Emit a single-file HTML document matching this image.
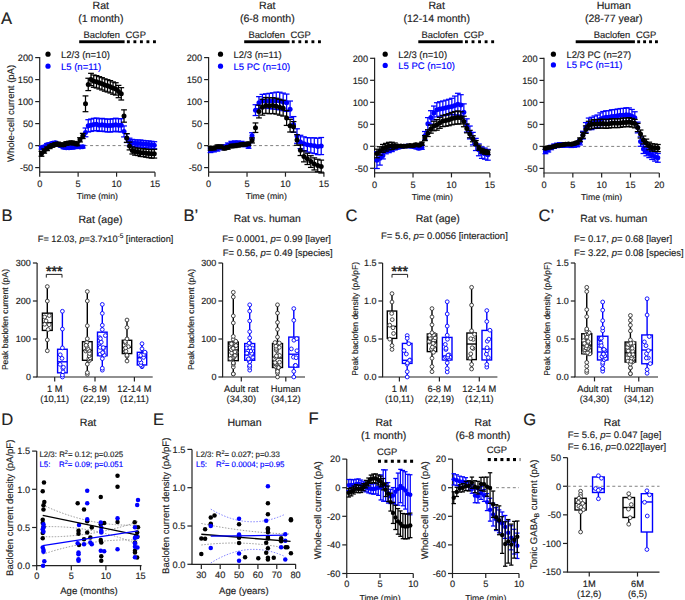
<!DOCTYPE html>
<html><head><meta charset="utf-8"><style>
html,body{margin:0;padding:0;background:#fff;}
svg{display:block;font-family:"Liberation Sans", sans-serif;}
text{stroke-width:0.15px;text-rendering:geometricPrecision;}
</style></head><body>
<svg width="685" height="600" viewBox="0 0 685 600">
<rect width="685" height="600" fill="#fff"/>
<text x="1.00" y="24.20" font-size="16.6" text-anchor="start" fill="#222" stroke="#222">A</text>
<text x="100.80" y="8.90" font-size="10.6" text-anchor="middle" fill="#222" stroke="#222">Rat</text>
<text x="100.80" y="21.60" font-size="10.6" text-anchor="middle" fill="#222" stroke="#222">(1 month)</text>
<text x="120.00" y="37.50" font-size="9.4" text-anchor="end" fill="#222" stroke="#222">Baclofen</text>
<rect x="79.20" y="40.30" width="45.40" height="2.90" fill="#000"/>
<text x="125.60" y="37.50" font-size="9.4" text-anchor="start" fill="#222" stroke="#222">CGP</text>
<rect x="126.90" y="40.30" width="2.90" height="2.90" fill="#000"/>
<rect x="133.42" y="40.30" width="2.90" height="2.90" fill="#000"/>
<rect x="139.95" y="40.30" width="2.90" height="2.90" fill="#000"/>
<rect x="146.47" y="40.30" width="2.90" height="2.90" fill="#000"/>
<rect x="153.00" y="40.30" width="2.90" height="2.90" fill="#000"/>
<circle cx="48.00" cy="54.20" r="2.6" fill="#000"/>
<circle cx="48.00" cy="66.20" r="2.6" fill="#0000ff"/>
<text x="61.00" y="57.60" font-size="9.5" text-anchor="start" fill="#222" stroke="#222">L2/3 (n=10)</text>
<text x="61.00" y="69.70" font-size="9.5" text-anchor="start" fill="#0000ff" stroke="#0000ff">L5 (n=11)</text>
<line x1="39.70" y1="57.00" x2="39.70" y2="172.20" stroke="#222" stroke-width="1.2"/>
<line x1="35.20" y1="57.60" x2="39.70" y2="57.60" stroke="#222" stroke-width="1.2"/>
<text x="33.20" y="60.90" font-size="9.2" text-anchor="end" fill="#222" stroke="#222">200</text>
<line x1="35.20" y1="79.60" x2="39.70" y2="79.60" stroke="#222" stroke-width="1.2"/>
<text x="33.20" y="82.90" font-size="9.2" text-anchor="end" fill="#222" stroke="#222">150</text>
<line x1="35.20" y1="101.60" x2="39.70" y2="101.60" stroke="#222" stroke-width="1.2"/>
<text x="33.20" y="104.90" font-size="9.2" text-anchor="end" fill="#222" stroke="#222">100</text>
<line x1="35.20" y1="123.60" x2="39.70" y2="123.60" stroke="#222" stroke-width="1.2"/>
<text x="33.20" y="126.90" font-size="9.2" text-anchor="end" fill="#222" stroke="#222">50</text>
<line x1="35.20" y1="145.60" x2="39.70" y2="145.60" stroke="#222" stroke-width="1.2"/>
<text x="33.20" y="148.90" font-size="9.2" text-anchor="end" fill="#222" stroke="#222">0</text>
<line x1="35.20" y1="167.60" x2="39.70" y2="167.60" stroke="#222" stroke-width="1.2"/>
<text x="33.20" y="170.90" font-size="9.2" text-anchor="end" fill="#222" stroke="#222">-50</text>
<line x1="39.10" y1="172.20" x2="155.00" y2="172.20" stroke="#222" stroke-width="1.2"/>
<line x1="39.70" y1="172.20" x2="39.70" y2="176.70" stroke="#222" stroke-width="1.2"/>
<text x="39.70" y="187.20" font-size="9.2" text-anchor="middle" fill="#222" stroke="#222">0</text>
<line x1="78.13" y1="172.20" x2="78.13" y2="176.70" stroke="#222" stroke-width="1.2"/>
<text x="78.13" y="187.20" font-size="9.2" text-anchor="middle" fill="#222" stroke="#222">5</text>
<line x1="116.57" y1="172.20" x2="116.57" y2="176.70" stroke="#222" stroke-width="1.2"/>
<text x="116.57" y="187.20" font-size="9.2" text-anchor="middle" fill="#222" stroke="#222">10</text>
<line x1="155.00" y1="172.20" x2="155.00" y2="176.70" stroke="#222" stroke-width="1.2"/>
<text x="155.00" y="187.20" font-size="9.2" text-anchor="middle" fill="#222" stroke="#222">15</text>
<text x="97.35" y="199.30" font-size="8.7" text-anchor="middle" fill="#222" stroke="#222">Time (min)</text>
<text x="13.80" y="113.50" font-size="9.5" text-anchor="middle" fill="#222" stroke="#222" transform="rotate(-90 13.80 113.50)">Whole-cell current (pA)</text>
<line x1="39.70" y1="145.60" x2="155.00" y2="145.60" stroke="#808080" stroke-width="1.0" stroke-dasharray="3,2.6"/>
<line x1="41.47" y1="146.44" x2="41.47" y2="149.08" stroke="#0000ff" stroke-width="1.25"/>
<line x1="38.57" y1="146.44" x2="44.37" y2="146.44" stroke="#0000ff" stroke-width="1.25"/>
<line x1="38.57" y1="149.08" x2="44.37" y2="149.08" stroke="#0000ff" stroke-width="1.25"/>
<line x1="44.22" y1="145.46" x2="44.22" y2="148.10" stroke="#0000ff" stroke-width="1.25"/>
<line x1="41.32" y1="145.46" x2="47.12" y2="145.46" stroke="#0000ff" stroke-width="1.25"/>
<line x1="41.32" y1="148.10" x2="47.12" y2="148.10" stroke="#0000ff" stroke-width="1.25"/>
<line x1="46.97" y1="143.53" x2="46.97" y2="146.17" stroke="#0000ff" stroke-width="1.25"/>
<line x1="44.07" y1="143.53" x2="49.87" y2="143.53" stroke="#0000ff" stroke-width="1.25"/>
<line x1="44.07" y1="146.17" x2="49.87" y2="146.17" stroke="#0000ff" stroke-width="1.25"/>
<line x1="49.72" y1="143.03" x2="49.72" y2="145.67" stroke="#0000ff" stroke-width="1.25"/>
<line x1="46.82" y1="143.03" x2="52.62" y2="143.03" stroke="#0000ff" stroke-width="1.25"/>
<line x1="46.82" y1="145.67" x2="52.62" y2="145.67" stroke="#0000ff" stroke-width="1.25"/>
<line x1="52.48" y1="141.92" x2="52.48" y2="144.56" stroke="#0000ff" stroke-width="1.25"/>
<line x1="49.58" y1="141.92" x2="55.38" y2="141.92" stroke="#0000ff" stroke-width="1.25"/>
<line x1="49.58" y1="144.56" x2="55.38" y2="144.56" stroke="#0000ff" stroke-width="1.25"/>
<line x1="55.23" y1="141.38" x2="55.23" y2="144.02" stroke="#0000ff" stroke-width="1.25"/>
<line x1="52.33" y1="141.38" x2="58.13" y2="141.38" stroke="#0000ff" stroke-width="1.25"/>
<line x1="52.33" y1="144.02" x2="58.13" y2="144.02" stroke="#0000ff" stroke-width="1.25"/>
<line x1="57.98" y1="143.17" x2="57.98" y2="145.81" stroke="#0000ff" stroke-width="1.25"/>
<line x1="55.08" y1="143.17" x2="60.88" y2="143.17" stroke="#0000ff" stroke-width="1.25"/>
<line x1="55.08" y1="145.81" x2="60.88" y2="145.81" stroke="#0000ff" stroke-width="1.25"/>
<line x1="60.73" y1="144.41" x2="60.73" y2="147.05" stroke="#0000ff" stroke-width="1.25"/>
<line x1="57.83" y1="144.41" x2="63.63" y2="144.41" stroke="#0000ff" stroke-width="1.25"/>
<line x1="57.83" y1="147.05" x2="63.63" y2="147.05" stroke="#0000ff" stroke-width="1.25"/>
<line x1="63.48" y1="146.05" x2="63.48" y2="148.69" stroke="#0000ff" stroke-width="1.25"/>
<line x1="60.58" y1="146.05" x2="66.38" y2="146.05" stroke="#0000ff" stroke-width="1.25"/>
<line x1="60.58" y1="148.69" x2="66.38" y2="148.69" stroke="#0000ff" stroke-width="1.25"/>
<line x1="66.23" y1="146.43" x2="66.23" y2="149.07" stroke="#0000ff" stroke-width="1.25"/>
<line x1="63.33" y1="146.43" x2="69.13" y2="146.43" stroke="#0000ff" stroke-width="1.25"/>
<line x1="63.33" y1="149.07" x2="69.13" y2="149.07" stroke="#0000ff" stroke-width="1.25"/>
<line x1="68.99" y1="146.46" x2="68.99" y2="149.10" stroke="#0000ff" stroke-width="1.25"/>
<line x1="66.09" y1="146.46" x2="71.89" y2="146.46" stroke="#0000ff" stroke-width="1.25"/>
<line x1="66.09" y1="149.10" x2="71.89" y2="149.10" stroke="#0000ff" stroke-width="1.25"/>
<line x1="71.74" y1="146.24" x2="71.74" y2="148.88" stroke="#0000ff" stroke-width="1.25"/>
<line x1="68.84" y1="146.24" x2="74.64" y2="146.24" stroke="#0000ff" stroke-width="1.25"/>
<line x1="68.84" y1="148.88" x2="74.64" y2="148.88" stroke="#0000ff" stroke-width="1.25"/>
<line x1="74.49" y1="145.81" x2="74.49" y2="148.45" stroke="#0000ff" stroke-width="1.25"/>
<line x1="71.59" y1="145.81" x2="77.39" y2="145.81" stroke="#0000ff" stroke-width="1.25"/>
<line x1="71.59" y1="148.45" x2="77.39" y2="148.45" stroke="#0000ff" stroke-width="1.25"/>
<line x1="77.24" y1="145.33" x2="77.24" y2="147.97" stroke="#0000ff" stroke-width="1.25"/>
<line x1="74.34" y1="145.33" x2="80.14" y2="145.33" stroke="#0000ff" stroke-width="1.25"/>
<line x1="74.34" y1="147.97" x2="80.14" y2="147.97" stroke="#0000ff" stroke-width="1.25"/>
<line x1="79.99" y1="145.63" x2="79.99" y2="148.27" stroke="#0000ff" stroke-width="1.25"/>
<line x1="77.09" y1="145.63" x2="82.89" y2="145.63" stroke="#0000ff" stroke-width="1.25"/>
<line x1="77.09" y1="148.27" x2="82.89" y2="148.27" stroke="#0000ff" stroke-width="1.25"/>
<line x1="82.75" y1="145.37" x2="82.75" y2="148.01" stroke="#0000ff" stroke-width="1.25"/>
<line x1="79.85" y1="145.37" x2="85.65" y2="145.37" stroke="#0000ff" stroke-width="1.25"/>
<line x1="79.85" y1="148.01" x2="85.65" y2="148.01" stroke="#0000ff" stroke-width="1.25"/>
<line x1="85.50" y1="128.01" x2="85.50" y2="136.77" stroke="#0000ff" stroke-width="1.25"/>
<line x1="82.60" y1="128.01" x2="88.40" y2="128.01" stroke="#0000ff" stroke-width="1.25"/>
<line x1="82.60" y1="136.77" x2="88.40" y2="136.77" stroke="#0000ff" stroke-width="1.25"/>
<line x1="88.25" y1="119.70" x2="88.25" y2="132.02" stroke="#0000ff" stroke-width="1.25"/>
<line x1="85.35" y1="119.70" x2="91.15" y2="119.70" stroke="#0000ff" stroke-width="1.25"/>
<line x1="85.35" y1="132.02" x2="91.15" y2="132.02" stroke="#0000ff" stroke-width="1.25"/>
<line x1="91.00" y1="119.03" x2="91.00" y2="131.43" stroke="#0000ff" stroke-width="1.25"/>
<line x1="88.10" y1="119.03" x2="93.90" y2="119.03" stroke="#0000ff" stroke-width="1.25"/>
<line x1="88.10" y1="131.43" x2="93.90" y2="131.43" stroke="#0000ff" stroke-width="1.25"/>
<line x1="93.75" y1="118.33" x2="93.75" y2="130.80" stroke="#0000ff" stroke-width="1.25"/>
<line x1="90.85" y1="118.33" x2="96.65" y2="118.33" stroke="#0000ff" stroke-width="1.25"/>
<line x1="90.85" y1="130.80" x2="96.65" y2="130.80" stroke="#0000ff" stroke-width="1.25"/>
<line x1="96.50" y1="118.04" x2="96.50" y2="130.59" stroke="#0000ff" stroke-width="1.25"/>
<line x1="93.60" y1="118.04" x2="99.40" y2="118.04" stroke="#0000ff" stroke-width="1.25"/>
<line x1="93.60" y1="130.59" x2="99.40" y2="130.59" stroke="#0000ff" stroke-width="1.25"/>
<line x1="99.26" y1="118.82" x2="99.26" y2="131.44" stroke="#0000ff" stroke-width="1.25"/>
<line x1="96.36" y1="118.82" x2="102.16" y2="118.82" stroke="#0000ff" stroke-width="1.25"/>
<line x1="96.36" y1="131.44" x2="102.16" y2="131.44" stroke="#0000ff" stroke-width="1.25"/>
<line x1="102.01" y1="118.37" x2="102.01" y2="131.06" stroke="#0000ff" stroke-width="1.25"/>
<line x1="99.11" y1="118.37" x2="104.91" y2="118.37" stroke="#0000ff" stroke-width="1.25"/>
<line x1="99.11" y1="131.06" x2="104.91" y2="131.06" stroke="#0000ff" stroke-width="1.25"/>
<line x1="104.76" y1="118.89" x2="104.76" y2="131.65" stroke="#0000ff" stroke-width="1.25"/>
<line x1="101.86" y1="118.89" x2="107.66" y2="118.89" stroke="#0000ff" stroke-width="1.25"/>
<line x1="101.86" y1="131.65" x2="107.66" y2="131.65" stroke="#0000ff" stroke-width="1.25"/>
<line x1="107.51" y1="119.12" x2="107.51" y2="131.95" stroke="#0000ff" stroke-width="1.25"/>
<line x1="104.61" y1="119.12" x2="110.41" y2="119.12" stroke="#0000ff" stroke-width="1.25"/>
<line x1="104.61" y1="131.95" x2="110.41" y2="131.95" stroke="#0000ff" stroke-width="1.25"/>
<line x1="110.26" y1="119.10" x2="110.26" y2="132.00" stroke="#0000ff" stroke-width="1.25"/>
<line x1="107.36" y1="119.10" x2="113.16" y2="119.10" stroke="#0000ff" stroke-width="1.25"/>
<line x1="107.36" y1="132.00" x2="113.16" y2="132.00" stroke="#0000ff" stroke-width="1.25"/>
<line x1="113.02" y1="118.77" x2="113.02" y2="131.75" stroke="#0000ff" stroke-width="1.25"/>
<line x1="110.12" y1="118.77" x2="115.92" y2="118.77" stroke="#0000ff" stroke-width="1.25"/>
<line x1="110.12" y1="131.75" x2="115.92" y2="131.75" stroke="#0000ff" stroke-width="1.25"/>
<line x1="115.77" y1="118.22" x2="115.77" y2="131.27" stroke="#0000ff" stroke-width="1.25"/>
<line x1="112.87" y1="118.22" x2="118.67" y2="118.22" stroke="#0000ff" stroke-width="1.25"/>
<line x1="112.87" y1="131.27" x2="118.67" y2="131.27" stroke="#0000ff" stroke-width="1.25"/>
<line x1="118.52" y1="118.76" x2="118.52" y2="131.88" stroke="#0000ff" stroke-width="1.25"/>
<line x1="115.62" y1="118.76" x2="121.42" y2="118.76" stroke="#0000ff" stroke-width="1.25"/>
<line x1="115.62" y1="131.88" x2="121.42" y2="131.88" stroke="#0000ff" stroke-width="1.25"/>
<line x1="121.27" y1="118.69" x2="121.27" y2="131.89" stroke="#0000ff" stroke-width="1.25"/>
<line x1="118.37" y1="118.69" x2="124.17" y2="118.69" stroke="#0000ff" stroke-width="1.25"/>
<line x1="118.37" y1="131.89" x2="124.17" y2="131.89" stroke="#0000ff" stroke-width="1.25"/>
<line x1="124.02" y1="125.94" x2="124.02" y2="136.91" stroke="#0000ff" stroke-width="1.25"/>
<line x1="121.12" y1="125.94" x2="126.92" y2="125.94" stroke="#0000ff" stroke-width="1.25"/>
<line x1="121.12" y1="136.91" x2="126.92" y2="136.91" stroke="#0000ff" stroke-width="1.25"/>
<line x1="126.77" y1="133.77" x2="126.77" y2="142.50" stroke="#0000ff" stroke-width="1.25"/>
<line x1="123.87" y1="133.77" x2="129.67" y2="133.77" stroke="#0000ff" stroke-width="1.25"/>
<line x1="123.87" y1="142.50" x2="129.67" y2="142.50" stroke="#0000ff" stroke-width="1.25"/>
<line x1="129.53" y1="138.19" x2="129.53" y2="146.02" stroke="#0000ff" stroke-width="1.25"/>
<line x1="126.63" y1="138.19" x2="132.43" y2="138.19" stroke="#0000ff" stroke-width="1.25"/>
<line x1="126.63" y1="146.02" x2="132.43" y2="146.02" stroke="#0000ff" stroke-width="1.25"/>
<line x1="132.28" y1="139.41" x2="132.28" y2="146.45" stroke="#0000ff" stroke-width="1.25"/>
<line x1="129.38" y1="139.41" x2="135.18" y2="139.41" stroke="#0000ff" stroke-width="1.25"/>
<line x1="129.38" y1="146.45" x2="135.18" y2="146.45" stroke="#0000ff" stroke-width="1.25"/>
<line x1="135.03" y1="139.83" x2="135.03" y2="146.87" stroke="#0000ff" stroke-width="1.25"/>
<line x1="132.13" y1="139.83" x2="137.93" y2="139.83" stroke="#0000ff" stroke-width="1.25"/>
<line x1="132.13" y1="146.87" x2="137.93" y2="146.87" stroke="#0000ff" stroke-width="1.25"/>
<line x1="137.78" y1="140.02" x2="137.78" y2="147.06" stroke="#0000ff" stroke-width="1.25"/>
<line x1="134.88" y1="140.02" x2="140.68" y2="140.02" stroke="#0000ff" stroke-width="1.25"/>
<line x1="134.88" y1="147.06" x2="140.68" y2="147.06" stroke="#0000ff" stroke-width="1.25"/>
<line x1="140.53" y1="139.98" x2="140.53" y2="147.02" stroke="#0000ff" stroke-width="1.25"/>
<line x1="137.63" y1="139.98" x2="143.43" y2="139.98" stroke="#0000ff" stroke-width="1.25"/>
<line x1="137.63" y1="147.02" x2="143.43" y2="147.02" stroke="#0000ff" stroke-width="1.25"/>
<line x1="143.29" y1="140.45" x2="143.29" y2="147.49" stroke="#0000ff" stroke-width="1.25"/>
<line x1="140.39" y1="140.45" x2="146.19" y2="140.45" stroke="#0000ff" stroke-width="1.25"/>
<line x1="140.39" y1="147.49" x2="146.19" y2="147.49" stroke="#0000ff" stroke-width="1.25"/>
<line x1="146.04" y1="140.82" x2="146.04" y2="147.86" stroke="#0000ff" stroke-width="1.25"/>
<line x1="143.14" y1="140.82" x2="148.94" y2="140.82" stroke="#0000ff" stroke-width="1.25"/>
<line x1="143.14" y1="147.86" x2="148.94" y2="147.86" stroke="#0000ff" stroke-width="1.25"/>
<line x1="148.79" y1="140.92" x2="148.79" y2="147.96" stroke="#0000ff" stroke-width="1.25"/>
<line x1="145.89" y1="140.92" x2="151.69" y2="140.92" stroke="#0000ff" stroke-width="1.25"/>
<line x1="145.89" y1="147.96" x2="151.69" y2="147.96" stroke="#0000ff" stroke-width="1.25"/>
<line x1="151.54" y1="141.31" x2="151.54" y2="148.35" stroke="#0000ff" stroke-width="1.25"/>
<line x1="148.64" y1="141.31" x2="154.44" y2="141.31" stroke="#0000ff" stroke-width="1.25"/>
<line x1="148.64" y1="148.35" x2="154.44" y2="148.35" stroke="#0000ff" stroke-width="1.25"/>
<line x1="154.29" y1="141.71" x2="154.29" y2="148.75" stroke="#0000ff" stroke-width="1.25"/>
<line x1="151.39" y1="141.71" x2="157.19" y2="141.71" stroke="#0000ff" stroke-width="1.25"/>
<line x1="151.39" y1="148.75" x2="157.19" y2="148.75" stroke="#0000ff" stroke-width="1.25"/>
<circle cx="41.47" cy="147.76" r="2.5" fill="#0000ff"/>
<circle cx="44.22" cy="146.78" r="2.5" fill="#0000ff"/>
<circle cx="46.97" cy="144.85" r="2.5" fill="#0000ff"/>
<circle cx="49.72" cy="144.35" r="2.5" fill="#0000ff"/>
<circle cx="52.48" cy="143.24" r="2.5" fill="#0000ff"/>
<circle cx="55.23" cy="142.70" r="2.5" fill="#0000ff"/>
<circle cx="57.98" cy="144.49" r="2.5" fill="#0000ff"/>
<circle cx="60.73" cy="145.73" r="2.5" fill="#0000ff"/>
<circle cx="63.48" cy="147.37" r="2.5" fill="#0000ff"/>
<circle cx="66.23" cy="147.75" r="2.5" fill="#0000ff"/>
<circle cx="68.99" cy="147.78" r="2.5" fill="#0000ff"/>
<circle cx="71.74" cy="147.56" r="2.5" fill="#0000ff"/>
<circle cx="74.49" cy="147.13" r="2.5" fill="#0000ff"/>
<circle cx="77.24" cy="146.65" r="2.5" fill="#0000ff"/>
<circle cx="79.99" cy="146.95" r="2.5" fill="#0000ff"/>
<circle cx="82.75" cy="146.69" r="2.5" fill="#0000ff"/>
<circle cx="85.50" cy="132.39" r="2.5" fill="#0000ff"/>
<circle cx="88.25" cy="125.86" r="2.5" fill="#0000ff"/>
<circle cx="91.00" cy="125.23" r="2.5" fill="#0000ff"/>
<circle cx="93.75" cy="124.57" r="2.5" fill="#0000ff"/>
<circle cx="96.50" cy="124.32" r="2.5" fill="#0000ff"/>
<circle cx="99.26" cy="125.13" r="2.5" fill="#0000ff"/>
<circle cx="102.01" cy="124.71" r="2.5" fill="#0000ff"/>
<circle cx="104.76" cy="125.27" r="2.5" fill="#0000ff"/>
<circle cx="107.51" cy="125.53" r="2.5" fill="#0000ff"/>
<circle cx="110.26" cy="125.55" r="2.5" fill="#0000ff"/>
<circle cx="113.02" cy="125.26" r="2.5" fill="#0000ff"/>
<circle cx="115.77" cy="124.74" r="2.5" fill="#0000ff"/>
<circle cx="118.52" cy="125.32" r="2.5" fill="#0000ff"/>
<circle cx="121.27" cy="125.29" r="2.5" fill="#0000ff"/>
<circle cx="124.02" cy="131.42" r="2.5" fill="#0000ff"/>
<circle cx="126.77" cy="138.13" r="2.5" fill="#0000ff"/>
<circle cx="129.53" cy="142.11" r="2.5" fill="#0000ff"/>
<circle cx="132.28" cy="142.93" r="2.5" fill="#0000ff"/>
<circle cx="135.03" cy="143.35" r="2.5" fill="#0000ff"/>
<circle cx="137.78" cy="143.54" r="2.5" fill="#0000ff"/>
<circle cx="140.53" cy="143.50" r="2.5" fill="#0000ff"/>
<circle cx="143.29" cy="143.97" r="2.5" fill="#0000ff"/>
<circle cx="146.04" cy="144.34" r="2.5" fill="#0000ff"/>
<circle cx="148.79" cy="144.44" r="2.5" fill="#0000ff"/>
<circle cx="151.54" cy="144.83" r="2.5" fill="#0000ff"/>
<circle cx="154.29" cy="145.23" r="2.5" fill="#0000ff"/>
<line x1="41.47" y1="151.39" x2="41.47" y2="156.27" stroke="#000" stroke-width="1.25"/>
<line x1="38.57" y1="151.39" x2="44.37" y2="151.39" stroke="#000" stroke-width="1.25"/>
<line x1="38.57" y1="156.27" x2="44.37" y2="156.27" stroke="#000" stroke-width="1.25"/>
<line x1="44.22" y1="148.91" x2="44.22" y2="153.15" stroke="#000" stroke-width="1.25"/>
<line x1="41.32" y1="148.91" x2="47.12" y2="148.91" stroke="#000" stroke-width="1.25"/>
<line x1="41.32" y1="153.15" x2="47.12" y2="153.15" stroke="#000" stroke-width="1.25"/>
<line x1="46.97" y1="146.99" x2="46.97" y2="150.60" stroke="#000" stroke-width="1.25"/>
<line x1="44.07" y1="146.99" x2="49.87" y2="146.99" stroke="#000" stroke-width="1.25"/>
<line x1="44.07" y1="150.60" x2="49.87" y2="150.60" stroke="#000" stroke-width="1.25"/>
<line x1="49.72" y1="145.09" x2="49.72" y2="148.61" stroke="#000" stroke-width="1.25"/>
<line x1="46.82" y1="145.09" x2="52.62" y2="145.09" stroke="#000" stroke-width="1.25"/>
<line x1="46.82" y1="148.61" x2="52.62" y2="148.61" stroke="#000" stroke-width="1.25"/>
<line x1="52.48" y1="143.69" x2="52.48" y2="147.21" stroke="#000" stroke-width="1.25"/>
<line x1="49.58" y1="143.69" x2="55.38" y2="143.69" stroke="#000" stroke-width="1.25"/>
<line x1="49.58" y1="147.21" x2="55.38" y2="147.21" stroke="#000" stroke-width="1.25"/>
<line x1="55.23" y1="142.66" x2="55.23" y2="146.18" stroke="#000" stroke-width="1.25"/>
<line x1="52.33" y1="142.66" x2="58.13" y2="142.66" stroke="#000" stroke-width="1.25"/>
<line x1="52.33" y1="146.18" x2="58.13" y2="146.18" stroke="#000" stroke-width="1.25"/>
<line x1="57.98" y1="142.13" x2="57.98" y2="145.65" stroke="#000" stroke-width="1.25"/>
<line x1="55.08" y1="142.13" x2="60.88" y2="142.13" stroke="#000" stroke-width="1.25"/>
<line x1="55.08" y1="145.65" x2="60.88" y2="145.65" stroke="#000" stroke-width="1.25"/>
<line x1="60.73" y1="143.06" x2="60.73" y2="146.58" stroke="#000" stroke-width="1.25"/>
<line x1="57.83" y1="143.06" x2="63.63" y2="143.06" stroke="#000" stroke-width="1.25"/>
<line x1="57.83" y1="146.58" x2="63.63" y2="146.58" stroke="#000" stroke-width="1.25"/>
<line x1="63.48" y1="143.01" x2="63.48" y2="146.53" stroke="#000" stroke-width="1.25"/>
<line x1="60.58" y1="143.01" x2="66.38" y2="143.01" stroke="#000" stroke-width="1.25"/>
<line x1="60.58" y1="146.53" x2="66.38" y2="146.53" stroke="#000" stroke-width="1.25"/>
<line x1="66.23" y1="141.72" x2="66.23" y2="145.24" stroke="#000" stroke-width="1.25"/>
<line x1="63.33" y1="141.72" x2="69.13" y2="141.72" stroke="#000" stroke-width="1.25"/>
<line x1="63.33" y1="145.24" x2="69.13" y2="145.24" stroke="#000" stroke-width="1.25"/>
<line x1="68.99" y1="141.26" x2="68.99" y2="144.78" stroke="#000" stroke-width="1.25"/>
<line x1="66.09" y1="141.26" x2="71.89" y2="141.26" stroke="#000" stroke-width="1.25"/>
<line x1="66.09" y1="144.78" x2="71.89" y2="144.78" stroke="#000" stroke-width="1.25"/>
<line x1="71.74" y1="141.02" x2="71.74" y2="144.54" stroke="#000" stroke-width="1.25"/>
<line x1="68.84" y1="141.02" x2="74.64" y2="141.02" stroke="#000" stroke-width="1.25"/>
<line x1="68.84" y1="144.54" x2="74.64" y2="144.54" stroke="#000" stroke-width="1.25"/>
<line x1="74.49" y1="141.51" x2="74.49" y2="145.03" stroke="#000" stroke-width="1.25"/>
<line x1="71.59" y1="141.51" x2="77.39" y2="141.51" stroke="#000" stroke-width="1.25"/>
<line x1="71.59" y1="145.03" x2="77.39" y2="145.03" stroke="#000" stroke-width="1.25"/>
<line x1="77.24" y1="142.22" x2="77.24" y2="145.74" stroke="#000" stroke-width="1.25"/>
<line x1="74.34" y1="142.22" x2="80.14" y2="142.22" stroke="#000" stroke-width="1.25"/>
<line x1="74.34" y1="145.74" x2="80.14" y2="145.74" stroke="#000" stroke-width="1.25"/>
<line x1="79.99" y1="137.73" x2="79.99" y2="141.93" stroke="#000" stroke-width="1.25"/>
<line x1="77.09" y1="137.73" x2="82.89" y2="137.73" stroke="#000" stroke-width="1.25"/>
<line x1="77.09" y1="141.93" x2="82.89" y2="141.93" stroke="#000" stroke-width="1.25"/>
<line x1="82.75" y1="133.35" x2="82.75" y2="138.57" stroke="#000" stroke-width="1.25"/>
<line x1="79.85" y1="133.35" x2="85.65" y2="133.35" stroke="#000" stroke-width="1.25"/>
<line x1="79.85" y1="138.57" x2="85.65" y2="138.57" stroke="#000" stroke-width="1.25"/>
<line x1="85.50" y1="95.91" x2="85.50" y2="111.69" stroke="#000" stroke-width="1.25"/>
<line x1="82.60" y1="95.91" x2="88.40" y2="95.91" stroke="#000" stroke-width="1.25"/>
<line x1="82.60" y1="111.69" x2="88.40" y2="111.69" stroke="#000" stroke-width="1.25"/>
<line x1="88.25" y1="78.26" x2="88.25" y2="90.58" stroke="#000" stroke-width="1.25"/>
<line x1="85.35" y1="78.26" x2="91.15" y2="78.26" stroke="#000" stroke-width="1.25"/>
<line x1="85.35" y1="90.58" x2="91.15" y2="90.58" stroke="#000" stroke-width="1.25"/>
<line x1="91.00" y1="73.33" x2="91.00" y2="85.65" stroke="#000" stroke-width="1.25"/>
<line x1="88.10" y1="73.33" x2="93.90" y2="73.33" stroke="#000" stroke-width="1.25"/>
<line x1="88.10" y1="85.65" x2="93.90" y2="85.65" stroke="#000" stroke-width="1.25"/>
<line x1="93.75" y1="74.98" x2="93.75" y2="87.30" stroke="#000" stroke-width="1.25"/>
<line x1="90.85" y1="74.98" x2="96.65" y2="74.98" stroke="#000" stroke-width="1.25"/>
<line x1="90.85" y1="87.30" x2="96.65" y2="87.30" stroke="#000" stroke-width="1.25"/>
<line x1="96.50" y1="75.65" x2="96.50" y2="87.97" stroke="#000" stroke-width="1.25"/>
<line x1="93.60" y1="75.65" x2="99.40" y2="75.65" stroke="#000" stroke-width="1.25"/>
<line x1="93.60" y1="87.97" x2="99.40" y2="87.97" stroke="#000" stroke-width="1.25"/>
<line x1="99.26" y1="76.67" x2="99.26" y2="88.99" stroke="#000" stroke-width="1.25"/>
<line x1="96.36" y1="76.67" x2="102.16" y2="76.67" stroke="#000" stroke-width="1.25"/>
<line x1="96.36" y1="88.99" x2="102.16" y2="88.99" stroke="#000" stroke-width="1.25"/>
<line x1="102.01" y1="77.67" x2="102.01" y2="89.99" stroke="#000" stroke-width="1.25"/>
<line x1="99.11" y1="77.67" x2="104.91" y2="77.67" stroke="#000" stroke-width="1.25"/>
<line x1="99.11" y1="89.99" x2="104.91" y2="89.99" stroke="#000" stroke-width="1.25"/>
<line x1="104.76" y1="78.86" x2="104.76" y2="91.18" stroke="#000" stroke-width="1.25"/>
<line x1="101.86" y1="78.86" x2="107.66" y2="78.86" stroke="#000" stroke-width="1.25"/>
<line x1="101.86" y1="91.18" x2="107.66" y2="91.18" stroke="#000" stroke-width="1.25"/>
<line x1="107.51" y1="79.69" x2="107.51" y2="92.01" stroke="#000" stroke-width="1.25"/>
<line x1="104.61" y1="79.69" x2="110.41" y2="79.69" stroke="#000" stroke-width="1.25"/>
<line x1="104.61" y1="92.01" x2="110.41" y2="92.01" stroke="#000" stroke-width="1.25"/>
<line x1="110.26" y1="80.64" x2="110.26" y2="92.96" stroke="#000" stroke-width="1.25"/>
<line x1="107.36" y1="80.64" x2="113.16" y2="80.64" stroke="#000" stroke-width="1.25"/>
<line x1="107.36" y1="92.96" x2="113.16" y2="92.96" stroke="#000" stroke-width="1.25"/>
<line x1="113.02" y1="81.92" x2="113.02" y2="94.24" stroke="#000" stroke-width="1.25"/>
<line x1="110.12" y1="81.92" x2="115.92" y2="81.92" stroke="#000" stroke-width="1.25"/>
<line x1="110.12" y1="94.24" x2="115.92" y2="94.24" stroke="#000" stroke-width="1.25"/>
<line x1="115.77" y1="82.73" x2="115.77" y2="95.05" stroke="#000" stroke-width="1.25"/>
<line x1="112.87" y1="82.73" x2="118.67" y2="82.73" stroke="#000" stroke-width="1.25"/>
<line x1="112.87" y1="95.05" x2="118.67" y2="95.05" stroke="#000" stroke-width="1.25"/>
<line x1="118.52" y1="85.38" x2="118.52" y2="97.70" stroke="#000" stroke-width="1.25"/>
<line x1="115.62" y1="85.38" x2="121.42" y2="85.38" stroke="#000" stroke-width="1.25"/>
<line x1="115.62" y1="97.70" x2="121.42" y2="97.70" stroke="#000" stroke-width="1.25"/>
<line x1="121.27" y1="87.68" x2="121.27" y2="100.00" stroke="#000" stroke-width="1.25"/>
<line x1="118.37" y1="87.68" x2="124.17" y2="87.68" stroke="#000" stroke-width="1.25"/>
<line x1="118.37" y1="100.00" x2="124.17" y2="100.00" stroke="#000" stroke-width="1.25"/>
<line x1="124.02" y1="109.86" x2="124.02" y2="122.18" stroke="#000" stroke-width="1.25"/>
<line x1="121.12" y1="109.86" x2="126.92" y2="109.86" stroke="#000" stroke-width="1.25"/>
<line x1="121.12" y1="122.18" x2="126.92" y2="122.18" stroke="#000" stroke-width="1.25"/>
<line x1="126.77" y1="133.62" x2="126.77" y2="142.35" stroke="#000" stroke-width="1.25"/>
<line x1="123.87" y1="133.62" x2="129.67" y2="133.62" stroke="#000" stroke-width="1.25"/>
<line x1="123.87" y1="142.35" x2="129.67" y2="142.35" stroke="#000" stroke-width="1.25"/>
<line x1="129.53" y1="142.07" x2="129.53" y2="149.90" stroke="#000" stroke-width="1.25"/>
<line x1="126.63" y1="142.07" x2="132.43" y2="142.07" stroke="#000" stroke-width="1.25"/>
<line x1="126.63" y1="149.90" x2="132.43" y2="149.90" stroke="#000" stroke-width="1.25"/>
<line x1="132.28" y1="146.91" x2="132.28" y2="153.98" stroke="#000" stroke-width="1.25"/>
<line x1="129.38" y1="146.91" x2="135.18" y2="146.91" stroke="#000" stroke-width="1.25"/>
<line x1="129.38" y1="153.98" x2="135.18" y2="153.98" stroke="#000" stroke-width="1.25"/>
<line x1="135.03" y1="147.89" x2="135.03" y2="155.17" stroke="#000" stroke-width="1.25"/>
<line x1="132.13" y1="147.89" x2="137.93" y2="147.89" stroke="#000" stroke-width="1.25"/>
<line x1="132.13" y1="155.17" x2="137.93" y2="155.17" stroke="#000" stroke-width="1.25"/>
<line x1="137.78" y1="148.04" x2="137.78" y2="155.52" stroke="#000" stroke-width="1.25"/>
<line x1="134.88" y1="148.04" x2="140.68" y2="148.04" stroke="#000" stroke-width="1.25"/>
<line x1="134.88" y1="155.52" x2="140.68" y2="155.52" stroke="#000" stroke-width="1.25"/>
<line x1="140.53" y1="148.79" x2="140.53" y2="156.49" stroke="#000" stroke-width="1.25"/>
<line x1="137.63" y1="148.79" x2="143.43" y2="148.79" stroke="#000" stroke-width="1.25"/>
<line x1="137.63" y1="156.49" x2="143.43" y2="156.49" stroke="#000" stroke-width="1.25"/>
<line x1="143.29" y1="148.69" x2="143.29" y2="156.60" stroke="#000" stroke-width="1.25"/>
<line x1="140.39" y1="148.69" x2="146.19" y2="148.69" stroke="#000" stroke-width="1.25"/>
<line x1="140.39" y1="156.60" x2="146.19" y2="156.60" stroke="#000" stroke-width="1.25"/>
<line x1="146.04" y1="149.11" x2="146.04" y2="157.23" stroke="#000" stroke-width="1.25"/>
<line x1="143.14" y1="149.11" x2="148.94" y2="149.11" stroke="#000" stroke-width="1.25"/>
<line x1="143.14" y1="157.23" x2="148.94" y2="157.23" stroke="#000" stroke-width="1.25"/>
<line x1="148.79" y1="149.36" x2="148.79" y2="157.68" stroke="#000" stroke-width="1.25"/>
<line x1="145.89" y1="149.36" x2="151.69" y2="149.36" stroke="#000" stroke-width="1.25"/>
<line x1="145.89" y1="157.68" x2="151.69" y2="157.68" stroke="#000" stroke-width="1.25"/>
<line x1="151.54" y1="149.61" x2="151.54" y2="158.14" stroke="#000" stroke-width="1.25"/>
<line x1="148.64" y1="149.61" x2="154.44" y2="149.61" stroke="#000" stroke-width="1.25"/>
<line x1="148.64" y1="158.14" x2="154.44" y2="158.14" stroke="#000" stroke-width="1.25"/>
<line x1="154.29" y1="149.32" x2="154.29" y2="158.06" stroke="#000" stroke-width="1.25"/>
<line x1="151.39" y1="149.32" x2="157.19" y2="149.32" stroke="#000" stroke-width="1.25"/>
<line x1="151.39" y1="158.06" x2="157.19" y2="158.06" stroke="#000" stroke-width="1.25"/>
<circle cx="41.47" cy="153.83" r="2.5" fill="#000"/>
<circle cx="44.22" cy="151.03" r="2.5" fill="#000"/>
<circle cx="46.97" cy="148.80" r="2.5" fill="#000"/>
<circle cx="49.72" cy="146.85" r="2.5" fill="#000"/>
<circle cx="52.48" cy="145.45" r="2.5" fill="#000"/>
<circle cx="55.23" cy="144.42" r="2.5" fill="#000"/>
<circle cx="57.98" cy="143.89" r="2.5" fill="#000"/>
<circle cx="60.73" cy="144.82" r="2.5" fill="#000"/>
<circle cx="63.48" cy="144.77" r="2.5" fill="#000"/>
<circle cx="66.23" cy="143.48" r="2.5" fill="#000"/>
<circle cx="68.99" cy="143.02" r="2.5" fill="#000"/>
<circle cx="71.74" cy="142.78" r="2.5" fill="#000"/>
<circle cx="74.49" cy="143.27" r="2.5" fill="#000"/>
<circle cx="77.24" cy="143.98" r="2.5" fill="#000"/>
<circle cx="79.99" cy="139.83" r="2.5" fill="#000"/>
<circle cx="82.75" cy="135.96" r="2.5" fill="#000"/>
<circle cx="85.50" cy="103.80" r="2.5" fill="#000"/>
<circle cx="88.25" cy="84.42" r="2.5" fill="#000"/>
<circle cx="91.00" cy="79.49" r="2.5" fill="#000"/>
<circle cx="93.75" cy="81.14" r="2.5" fill="#000"/>
<circle cx="96.50" cy="81.81" r="2.5" fill="#000"/>
<circle cx="99.26" cy="82.83" r="2.5" fill="#000"/>
<circle cx="102.01" cy="83.83" r="2.5" fill="#000"/>
<circle cx="104.76" cy="85.02" r="2.5" fill="#000"/>
<circle cx="107.51" cy="85.85" r="2.5" fill="#000"/>
<circle cx="110.26" cy="86.80" r="2.5" fill="#000"/>
<circle cx="113.02" cy="88.08" r="2.5" fill="#000"/>
<circle cx="115.77" cy="88.89" r="2.5" fill="#000"/>
<circle cx="118.52" cy="91.54" r="2.5" fill="#000"/>
<circle cx="121.27" cy="93.84" r="2.5" fill="#000"/>
<circle cx="124.02" cy="116.02" r="2.5" fill="#000"/>
<circle cx="126.77" cy="137.99" r="2.5" fill="#000"/>
<circle cx="129.53" cy="145.99" r="2.5" fill="#000"/>
<circle cx="132.28" cy="150.45" r="2.5" fill="#000"/>
<circle cx="135.03" cy="151.53" r="2.5" fill="#000"/>
<circle cx="137.78" cy="151.78" r="2.5" fill="#000"/>
<circle cx="140.53" cy="152.64" r="2.5" fill="#000"/>
<circle cx="143.29" cy="152.65" r="2.5" fill="#000"/>
<circle cx="146.04" cy="153.17" r="2.5" fill="#000"/>
<circle cx="148.79" cy="153.52" r="2.5" fill="#000"/>
<circle cx="151.54" cy="153.87" r="2.5" fill="#000"/>
<circle cx="154.29" cy="153.69" r="2.5" fill="#000"/>
<text x="267.30" y="8.90" font-size="10.6" text-anchor="middle" fill="#222" stroke="#222">Rat</text>
<text x="267.30" y="21.60" font-size="10.6" text-anchor="middle" fill="#222" stroke="#222">(6-8 month)</text>
<text x="284.90" y="37.50" font-size="9.4" text-anchor="end" fill="#222" stroke="#222">Baclofen</text>
<rect x="244.20" y="40.30" width="45.30" height="2.90" fill="#000"/>
<text x="290.50" y="37.50" font-size="9.4" text-anchor="start" fill="#222" stroke="#222">CGP</text>
<rect x="291.80" y="40.30" width="2.90" height="2.90" fill="#000"/>
<rect x="298.35" y="40.30" width="2.90" height="2.90" fill="#000"/>
<rect x="304.90" y="40.30" width="2.90" height="2.90" fill="#000"/>
<rect x="311.45" y="40.30" width="2.90" height="2.90" fill="#000"/>
<rect x="318.00" y="40.30" width="2.90" height="2.90" fill="#000"/>
<circle cx="220.50" cy="54.20" r="2.6" fill="#000"/>
<circle cx="220.50" cy="66.20" r="2.6" fill="#0000ff"/>
<text x="233.50" y="57.60" font-size="9.5" text-anchor="start" fill="#222" stroke="#222">L2/3 (n=11)</text>
<text x="233.50" y="69.70" font-size="9.5" text-anchor="start" fill="#0000ff" stroke="#0000ff">L5 PC (n=10)</text>
<line x1="208.60" y1="57.00" x2="208.60" y2="172.20" stroke="#222" stroke-width="1.2"/>
<line x1="204.10" y1="57.60" x2="208.60" y2="57.60" stroke="#222" stroke-width="1.2"/>
<text x="202.10" y="60.90" font-size="9.2" text-anchor="end" fill="#222" stroke="#222">200</text>
<line x1="204.10" y1="79.60" x2="208.60" y2="79.60" stroke="#222" stroke-width="1.2"/>
<text x="202.10" y="82.90" font-size="9.2" text-anchor="end" fill="#222" stroke="#222">150</text>
<line x1="204.10" y1="101.60" x2="208.60" y2="101.60" stroke="#222" stroke-width="1.2"/>
<text x="202.10" y="104.90" font-size="9.2" text-anchor="end" fill="#222" stroke="#222">100</text>
<line x1="204.10" y1="123.60" x2="208.60" y2="123.60" stroke="#222" stroke-width="1.2"/>
<text x="202.10" y="126.90" font-size="9.2" text-anchor="end" fill="#222" stroke="#222">50</text>
<line x1="204.10" y1="145.60" x2="208.60" y2="145.60" stroke="#222" stroke-width="1.2"/>
<text x="202.10" y="148.90" font-size="9.2" text-anchor="end" fill="#222" stroke="#222">0</text>
<line x1="204.10" y1="167.60" x2="208.60" y2="167.60" stroke="#222" stroke-width="1.2"/>
<text x="202.10" y="170.90" font-size="9.2" text-anchor="end" fill="#222" stroke="#222">-50</text>
<line x1="208.00" y1="172.20" x2="323.90" y2="172.20" stroke="#222" stroke-width="1.2"/>
<line x1="208.60" y1="172.20" x2="208.60" y2="176.70" stroke="#222" stroke-width="1.2"/>
<text x="208.60" y="187.20" font-size="9.2" text-anchor="middle" fill="#222" stroke="#222">0</text>
<line x1="247.03" y1="172.20" x2="247.03" y2="176.70" stroke="#222" stroke-width="1.2"/>
<text x="247.03" y="187.20" font-size="9.2" text-anchor="middle" fill="#222" stroke="#222">5</text>
<line x1="285.47" y1="172.20" x2="285.47" y2="176.70" stroke="#222" stroke-width="1.2"/>
<text x="285.47" y="187.20" font-size="9.2" text-anchor="middle" fill="#222" stroke="#222">10</text>
<line x1="323.90" y1="172.20" x2="323.90" y2="176.70" stroke="#222" stroke-width="1.2"/>
<text x="323.90" y="187.20" font-size="9.2" text-anchor="middle" fill="#222" stroke="#222">15</text>
<text x="266.25" y="199.30" font-size="8.7" text-anchor="middle" fill="#222" stroke="#222">Time (min)</text>
<line x1="208.60" y1="145.60" x2="323.90" y2="145.60" stroke="#808080" stroke-width="1.0" stroke-dasharray="3,2.6"/>
<line x1="210.52" y1="148.17" x2="210.52" y2="152.57" stroke="#0000ff" stroke-width="1.25"/>
<line x1="207.62" y1="148.17" x2="213.42" y2="148.17" stroke="#0000ff" stroke-width="1.25"/>
<line x1="207.62" y1="152.57" x2="213.42" y2="152.57" stroke="#0000ff" stroke-width="1.25"/>
<line x1="213.98" y1="147.49" x2="213.98" y2="151.89" stroke="#0000ff" stroke-width="1.25"/>
<line x1="211.08" y1="147.49" x2="216.88" y2="147.49" stroke="#0000ff" stroke-width="1.25"/>
<line x1="211.08" y1="151.89" x2="216.88" y2="151.89" stroke="#0000ff" stroke-width="1.25"/>
<line x1="217.44" y1="146.67" x2="217.44" y2="151.07" stroke="#0000ff" stroke-width="1.25"/>
<line x1="214.54" y1="146.67" x2="220.34" y2="146.67" stroke="#0000ff" stroke-width="1.25"/>
<line x1="214.54" y1="151.07" x2="220.34" y2="151.07" stroke="#0000ff" stroke-width="1.25"/>
<line x1="220.90" y1="145.34" x2="220.90" y2="149.74" stroke="#0000ff" stroke-width="1.25"/>
<line x1="218.00" y1="145.34" x2="223.80" y2="145.34" stroke="#0000ff" stroke-width="1.25"/>
<line x1="218.00" y1="149.74" x2="223.80" y2="149.74" stroke="#0000ff" stroke-width="1.25"/>
<line x1="224.36" y1="144.84" x2="224.36" y2="149.24" stroke="#0000ff" stroke-width="1.25"/>
<line x1="221.46" y1="144.84" x2="227.26" y2="144.84" stroke="#0000ff" stroke-width="1.25"/>
<line x1="221.46" y1="149.24" x2="227.26" y2="149.24" stroke="#0000ff" stroke-width="1.25"/>
<line x1="227.82" y1="143.00" x2="227.82" y2="147.40" stroke="#0000ff" stroke-width="1.25"/>
<line x1="224.92" y1="143.00" x2="230.72" y2="143.00" stroke="#0000ff" stroke-width="1.25"/>
<line x1="224.92" y1="147.40" x2="230.72" y2="147.40" stroke="#0000ff" stroke-width="1.25"/>
<line x1="231.28" y1="141.34" x2="231.28" y2="145.74" stroke="#0000ff" stroke-width="1.25"/>
<line x1="228.38" y1="141.34" x2="234.18" y2="141.34" stroke="#0000ff" stroke-width="1.25"/>
<line x1="228.38" y1="145.74" x2="234.18" y2="145.74" stroke="#0000ff" stroke-width="1.25"/>
<line x1="234.73" y1="140.93" x2="234.73" y2="145.33" stroke="#0000ff" stroke-width="1.25"/>
<line x1="231.83" y1="140.93" x2="237.63" y2="140.93" stroke="#0000ff" stroke-width="1.25"/>
<line x1="231.83" y1="145.33" x2="237.63" y2="145.33" stroke="#0000ff" stroke-width="1.25"/>
<line x1="238.19" y1="140.98" x2="238.19" y2="145.38" stroke="#0000ff" stroke-width="1.25"/>
<line x1="235.29" y1="140.98" x2="241.09" y2="140.98" stroke="#0000ff" stroke-width="1.25"/>
<line x1="235.29" y1="145.38" x2="241.09" y2="145.38" stroke="#0000ff" stroke-width="1.25"/>
<line x1="241.65" y1="141.34" x2="241.65" y2="145.74" stroke="#0000ff" stroke-width="1.25"/>
<line x1="238.75" y1="141.34" x2="244.55" y2="141.34" stroke="#0000ff" stroke-width="1.25"/>
<line x1="238.75" y1="145.74" x2="244.55" y2="145.74" stroke="#0000ff" stroke-width="1.25"/>
<line x1="245.11" y1="142.35" x2="245.11" y2="146.75" stroke="#0000ff" stroke-width="1.25"/>
<line x1="242.21" y1="142.35" x2="248.01" y2="142.35" stroke="#0000ff" stroke-width="1.25"/>
<line x1="242.21" y1="146.75" x2="248.01" y2="146.75" stroke="#0000ff" stroke-width="1.25"/>
<line x1="248.57" y1="143.90" x2="248.57" y2="148.30" stroke="#0000ff" stroke-width="1.25"/>
<line x1="245.67" y1="143.90" x2="251.47" y2="143.90" stroke="#0000ff" stroke-width="1.25"/>
<line x1="245.67" y1="148.30" x2="251.47" y2="148.30" stroke="#0000ff" stroke-width="1.25"/>
<line x1="252.03" y1="132.71" x2="252.03" y2="138.95" stroke="#0000ff" stroke-width="1.25"/>
<line x1="249.13" y1="132.71" x2="254.93" y2="132.71" stroke="#0000ff" stroke-width="1.25"/>
<line x1="249.13" y1="138.95" x2="254.93" y2="138.95" stroke="#0000ff" stroke-width="1.25"/>
<line x1="255.49" y1="104.72" x2="255.49" y2="115.54" stroke="#0000ff" stroke-width="1.25"/>
<line x1="252.59" y1="104.72" x2="258.39" y2="104.72" stroke="#0000ff" stroke-width="1.25"/>
<line x1="252.59" y1="115.54" x2="258.39" y2="115.54" stroke="#0000ff" stroke-width="1.25"/>
<line x1="258.95" y1="96.65" x2="258.95" y2="108.67" stroke="#0000ff" stroke-width="1.25"/>
<line x1="256.05" y1="96.65" x2="261.85" y2="96.65" stroke="#0000ff" stroke-width="1.25"/>
<line x1="256.05" y1="108.67" x2="261.85" y2="108.67" stroke="#0000ff" stroke-width="1.25"/>
<line x1="262.41" y1="94.37" x2="262.41" y2="107.57" stroke="#0000ff" stroke-width="1.25"/>
<line x1="259.51" y1="94.37" x2="265.31" y2="94.37" stroke="#0000ff" stroke-width="1.25"/>
<line x1="259.51" y1="107.57" x2="265.31" y2="107.57" stroke="#0000ff" stroke-width="1.25"/>
<line x1="265.87" y1="93.85" x2="265.87" y2="108.04" stroke="#0000ff" stroke-width="1.25"/>
<line x1="262.97" y1="93.85" x2="268.77" y2="93.85" stroke="#0000ff" stroke-width="1.25"/>
<line x1="262.97" y1="108.04" x2="268.77" y2="108.04" stroke="#0000ff" stroke-width="1.25"/>
<line x1="269.32" y1="93.32" x2="269.32" y2="108.50" stroke="#0000ff" stroke-width="1.25"/>
<line x1="266.42" y1="93.32" x2="272.22" y2="93.32" stroke="#0000ff" stroke-width="1.25"/>
<line x1="266.42" y1="108.50" x2="272.22" y2="108.50" stroke="#0000ff" stroke-width="1.25"/>
<line x1="272.78" y1="92.82" x2="272.78" y2="108.99" stroke="#0000ff" stroke-width="1.25"/>
<line x1="269.88" y1="92.82" x2="275.68" y2="92.82" stroke="#0000ff" stroke-width="1.25"/>
<line x1="269.88" y1="108.99" x2="275.68" y2="108.99" stroke="#0000ff" stroke-width="1.25"/>
<line x1="276.24" y1="92.15" x2="276.24" y2="109.31" stroke="#0000ff" stroke-width="1.25"/>
<line x1="273.34" y1="92.15" x2="279.14" y2="92.15" stroke="#0000ff" stroke-width="1.25"/>
<line x1="273.34" y1="109.31" x2="279.14" y2="109.31" stroke="#0000ff" stroke-width="1.25"/>
<line x1="279.70" y1="92.22" x2="279.70" y2="109.82" stroke="#0000ff" stroke-width="1.25"/>
<line x1="276.80" y1="92.22" x2="282.60" y2="92.22" stroke="#0000ff" stroke-width="1.25"/>
<line x1="276.80" y1="109.82" x2="282.60" y2="109.82" stroke="#0000ff" stroke-width="1.25"/>
<line x1="283.16" y1="93.11" x2="283.16" y2="110.71" stroke="#0000ff" stroke-width="1.25"/>
<line x1="280.26" y1="93.11" x2="286.06" y2="93.11" stroke="#0000ff" stroke-width="1.25"/>
<line x1="280.26" y1="110.71" x2="286.06" y2="110.71" stroke="#0000ff" stroke-width="1.25"/>
<line x1="286.62" y1="94.09" x2="286.62" y2="111.42" stroke="#0000ff" stroke-width="1.25"/>
<line x1="283.72" y1="94.09" x2="289.52" y2="94.09" stroke="#0000ff" stroke-width="1.25"/>
<line x1="283.72" y1="111.42" x2="289.52" y2="111.42" stroke="#0000ff" stroke-width="1.25"/>
<line x1="290.08" y1="101.04" x2="290.08" y2="117.59" stroke="#0000ff" stroke-width="1.25"/>
<line x1="287.18" y1="101.04" x2="292.98" y2="101.04" stroke="#0000ff" stroke-width="1.25"/>
<line x1="287.18" y1="117.59" x2="292.98" y2="117.59" stroke="#0000ff" stroke-width="1.25"/>
<line x1="293.54" y1="116.56" x2="293.54" y2="132.27" stroke="#0000ff" stroke-width="1.25"/>
<line x1="290.64" y1="116.56" x2="296.44" y2="116.56" stroke="#0000ff" stroke-width="1.25"/>
<line x1="290.64" y1="132.27" x2="296.44" y2="132.27" stroke="#0000ff" stroke-width="1.25"/>
<line x1="297.00" y1="128.78" x2="297.00" y2="143.30" stroke="#0000ff" stroke-width="1.25"/>
<line x1="294.10" y1="128.78" x2="299.90" y2="128.78" stroke="#0000ff" stroke-width="1.25"/>
<line x1="294.10" y1="143.30" x2="299.90" y2="143.30" stroke="#0000ff" stroke-width="1.25"/>
<line x1="300.46" y1="135.29" x2="300.46" y2="148.62" stroke="#0000ff" stroke-width="1.25"/>
<line x1="297.56" y1="135.29" x2="303.36" y2="135.29" stroke="#0000ff" stroke-width="1.25"/>
<line x1="297.56" y1="148.62" x2="303.36" y2="148.62" stroke="#0000ff" stroke-width="1.25"/>
<line x1="303.91" y1="136.81" x2="303.91" y2="150.60" stroke="#0000ff" stroke-width="1.25"/>
<line x1="301.01" y1="136.81" x2="306.81" y2="136.81" stroke="#0000ff" stroke-width="1.25"/>
<line x1="301.01" y1="150.60" x2="306.81" y2="150.60" stroke="#0000ff" stroke-width="1.25"/>
<line x1="307.37" y1="137.60" x2="307.37" y2="152.04" stroke="#0000ff" stroke-width="1.25"/>
<line x1="304.47" y1="137.60" x2="310.27" y2="137.60" stroke="#0000ff" stroke-width="1.25"/>
<line x1="304.47" y1="152.04" x2="310.27" y2="152.04" stroke="#0000ff" stroke-width="1.25"/>
<line x1="310.83" y1="137.79" x2="310.83" y2="152.89" stroke="#0000ff" stroke-width="1.25"/>
<line x1="307.93" y1="137.79" x2="313.73" y2="137.79" stroke="#0000ff" stroke-width="1.25"/>
<line x1="307.93" y1="152.89" x2="313.73" y2="152.89" stroke="#0000ff" stroke-width="1.25"/>
<line x1="314.29" y1="137.81" x2="314.29" y2="153.58" stroke="#0000ff" stroke-width="1.25"/>
<line x1="311.39" y1="137.81" x2="317.19" y2="137.81" stroke="#0000ff" stroke-width="1.25"/>
<line x1="311.39" y1="153.58" x2="317.19" y2="153.58" stroke="#0000ff" stroke-width="1.25"/>
<line x1="317.75" y1="138.23" x2="317.75" y2="154.66" stroke="#0000ff" stroke-width="1.25"/>
<line x1="314.85" y1="138.23" x2="320.65" y2="138.23" stroke="#0000ff" stroke-width="1.25"/>
<line x1="314.85" y1="154.66" x2="320.65" y2="154.66" stroke="#0000ff" stroke-width="1.25"/>
<line x1="321.21" y1="137.50" x2="321.21" y2="154.59" stroke="#0000ff" stroke-width="1.25"/>
<line x1="318.31" y1="137.50" x2="324.11" y2="137.50" stroke="#0000ff" stroke-width="1.25"/>
<line x1="318.31" y1="154.59" x2="324.11" y2="154.59" stroke="#0000ff" stroke-width="1.25"/>
<circle cx="210.52" cy="150.37" r="2.5" fill="#0000ff"/>
<circle cx="213.98" cy="149.69" r="2.5" fill="#0000ff"/>
<circle cx="217.44" cy="148.87" r="2.5" fill="#0000ff"/>
<circle cx="220.90" cy="147.54" r="2.5" fill="#0000ff"/>
<circle cx="224.36" cy="147.04" r="2.5" fill="#0000ff"/>
<circle cx="227.82" cy="145.20" r="2.5" fill="#0000ff"/>
<circle cx="231.28" cy="143.54" r="2.5" fill="#0000ff"/>
<circle cx="234.73" cy="143.13" r="2.5" fill="#0000ff"/>
<circle cx="238.19" cy="143.18" r="2.5" fill="#0000ff"/>
<circle cx="241.65" cy="143.54" r="2.5" fill="#0000ff"/>
<circle cx="245.11" cy="144.55" r="2.5" fill="#0000ff"/>
<circle cx="248.57" cy="146.10" r="2.5" fill="#0000ff"/>
<circle cx="252.03" cy="135.83" r="2.5" fill="#0000ff"/>
<circle cx="255.49" cy="110.13" r="2.5" fill="#0000ff"/>
<circle cx="258.95" cy="102.66" r="2.5" fill="#0000ff"/>
<circle cx="262.41" cy="100.97" r="2.5" fill="#0000ff"/>
<circle cx="265.87" cy="100.95" r="2.5" fill="#0000ff"/>
<circle cx="269.32" cy="100.91" r="2.5" fill="#0000ff"/>
<circle cx="272.78" cy="100.91" r="2.5" fill="#0000ff"/>
<circle cx="276.24" cy="100.73" r="2.5" fill="#0000ff"/>
<circle cx="279.70" cy="101.02" r="2.5" fill="#0000ff"/>
<circle cx="283.16" cy="101.91" r="2.5" fill="#0000ff"/>
<circle cx="286.62" cy="102.76" r="2.5" fill="#0000ff"/>
<circle cx="290.08" cy="109.31" r="2.5" fill="#0000ff"/>
<circle cx="293.54" cy="124.41" r="2.5" fill="#0000ff"/>
<circle cx="297.00" cy="136.04" r="2.5" fill="#0000ff"/>
<circle cx="300.46" cy="141.95" r="2.5" fill="#0000ff"/>
<circle cx="303.91" cy="143.71" r="2.5" fill="#0000ff"/>
<circle cx="307.37" cy="144.82" r="2.5" fill="#0000ff"/>
<circle cx="310.83" cy="145.34" r="2.5" fill="#0000ff"/>
<circle cx="314.29" cy="145.70" r="2.5" fill="#0000ff"/>
<circle cx="317.75" cy="146.44" r="2.5" fill="#0000ff"/>
<circle cx="321.21" cy="146.04" r="2.5" fill="#0000ff"/>
<line x1="210.52" y1="146.61" x2="210.52" y2="150.13" stroke="#000" stroke-width="1.25"/>
<line x1="207.62" y1="146.61" x2="213.42" y2="146.61" stroke="#000" stroke-width="1.25"/>
<line x1="207.62" y1="150.13" x2="213.42" y2="150.13" stroke="#000" stroke-width="1.25"/>
<line x1="213.98" y1="146.35" x2="213.98" y2="149.87" stroke="#000" stroke-width="1.25"/>
<line x1="211.08" y1="146.35" x2="216.88" y2="146.35" stroke="#000" stroke-width="1.25"/>
<line x1="211.08" y1="149.87" x2="216.88" y2="149.87" stroke="#000" stroke-width="1.25"/>
<line x1="217.44" y1="144.95" x2="217.44" y2="148.47" stroke="#000" stroke-width="1.25"/>
<line x1="214.54" y1="144.95" x2="220.34" y2="144.95" stroke="#000" stroke-width="1.25"/>
<line x1="214.54" y1="148.47" x2="220.34" y2="148.47" stroke="#000" stroke-width="1.25"/>
<line x1="220.90" y1="145.05" x2="220.90" y2="148.57" stroke="#000" stroke-width="1.25"/>
<line x1="218.00" y1="145.05" x2="223.80" y2="145.05" stroke="#000" stroke-width="1.25"/>
<line x1="218.00" y1="148.57" x2="223.80" y2="148.57" stroke="#000" stroke-width="1.25"/>
<line x1="224.36" y1="146.44" x2="224.36" y2="149.96" stroke="#000" stroke-width="1.25"/>
<line x1="221.46" y1="146.44" x2="227.26" y2="146.44" stroke="#000" stroke-width="1.25"/>
<line x1="221.46" y1="149.96" x2="227.26" y2="149.96" stroke="#000" stroke-width="1.25"/>
<line x1="227.82" y1="145.66" x2="227.82" y2="149.18" stroke="#000" stroke-width="1.25"/>
<line x1="224.92" y1="145.66" x2="230.72" y2="145.66" stroke="#000" stroke-width="1.25"/>
<line x1="224.92" y1="149.18" x2="230.72" y2="149.18" stroke="#000" stroke-width="1.25"/>
<line x1="231.28" y1="144.30" x2="231.28" y2="147.82" stroke="#000" stroke-width="1.25"/>
<line x1="228.38" y1="144.30" x2="234.18" y2="144.30" stroke="#000" stroke-width="1.25"/>
<line x1="228.38" y1="147.82" x2="234.18" y2="147.82" stroke="#000" stroke-width="1.25"/>
<line x1="234.73" y1="144.06" x2="234.73" y2="147.58" stroke="#000" stroke-width="1.25"/>
<line x1="231.83" y1="144.06" x2="237.63" y2="144.06" stroke="#000" stroke-width="1.25"/>
<line x1="231.83" y1="147.58" x2="237.63" y2="147.58" stroke="#000" stroke-width="1.25"/>
<line x1="238.19" y1="143.46" x2="238.19" y2="146.98" stroke="#000" stroke-width="1.25"/>
<line x1="235.29" y1="143.46" x2="241.09" y2="143.46" stroke="#000" stroke-width="1.25"/>
<line x1="235.29" y1="146.98" x2="241.09" y2="146.98" stroke="#000" stroke-width="1.25"/>
<line x1="241.65" y1="142.90" x2="241.65" y2="146.42" stroke="#000" stroke-width="1.25"/>
<line x1="238.75" y1="142.90" x2="244.55" y2="142.90" stroke="#000" stroke-width="1.25"/>
<line x1="238.75" y1="146.42" x2="244.55" y2="146.42" stroke="#000" stroke-width="1.25"/>
<line x1="245.11" y1="142.54" x2="245.11" y2="146.06" stroke="#000" stroke-width="1.25"/>
<line x1="242.21" y1="142.54" x2="248.01" y2="142.54" stroke="#000" stroke-width="1.25"/>
<line x1="242.21" y1="146.06" x2="248.01" y2="146.06" stroke="#000" stroke-width="1.25"/>
<line x1="248.57" y1="142.02" x2="248.57" y2="145.54" stroke="#000" stroke-width="1.25"/>
<line x1="245.67" y1="142.02" x2="251.47" y2="142.02" stroke="#000" stroke-width="1.25"/>
<line x1="245.67" y1="145.54" x2="251.47" y2="145.54" stroke="#000" stroke-width="1.25"/>
<line x1="252.03" y1="137.86" x2="252.03" y2="142.97" stroke="#000" stroke-width="1.25"/>
<line x1="249.13" y1="137.86" x2="254.93" y2="137.86" stroke="#000" stroke-width="1.25"/>
<line x1="249.13" y1="142.97" x2="254.93" y2="142.97" stroke="#000" stroke-width="1.25"/>
<line x1="255.49" y1="122.94" x2="255.49" y2="132.44" stroke="#000" stroke-width="1.25"/>
<line x1="252.59" y1="122.94" x2="258.39" y2="122.94" stroke="#000" stroke-width="1.25"/>
<line x1="252.59" y1="132.44" x2="258.39" y2="132.44" stroke="#000" stroke-width="1.25"/>
<line x1="258.95" y1="105.25" x2="258.95" y2="117.93" stroke="#000" stroke-width="1.25"/>
<line x1="256.05" y1="105.25" x2="261.85" y2="105.25" stroke="#000" stroke-width="1.25"/>
<line x1="256.05" y1="117.93" x2="261.85" y2="117.93" stroke="#000" stroke-width="1.25"/>
<line x1="262.41" y1="99.27" x2="262.41" y2="115.11" stroke="#000" stroke-width="1.25"/>
<line x1="259.51" y1="99.27" x2="265.31" y2="99.27" stroke="#000" stroke-width="1.25"/>
<line x1="259.51" y1="115.11" x2="265.31" y2="115.11" stroke="#000" stroke-width="1.25"/>
<line x1="265.87" y1="97.48" x2="265.87" y2="113.32" stroke="#000" stroke-width="1.25"/>
<line x1="262.97" y1="97.48" x2="268.77" y2="97.48" stroke="#000" stroke-width="1.25"/>
<line x1="262.97" y1="113.32" x2="268.77" y2="113.32" stroke="#000" stroke-width="1.25"/>
<line x1="269.32" y1="97.89" x2="269.32" y2="113.73" stroke="#000" stroke-width="1.25"/>
<line x1="266.42" y1="97.89" x2="272.22" y2="97.89" stroke="#000" stroke-width="1.25"/>
<line x1="266.42" y1="113.73" x2="272.22" y2="113.73" stroke="#000" stroke-width="1.25"/>
<line x1="272.78" y1="97.68" x2="272.78" y2="113.52" stroke="#000" stroke-width="1.25"/>
<line x1="269.88" y1="97.68" x2="275.68" y2="97.68" stroke="#000" stroke-width="1.25"/>
<line x1="269.88" y1="113.52" x2="275.68" y2="113.52" stroke="#000" stroke-width="1.25"/>
<line x1="276.24" y1="98.26" x2="276.24" y2="114.10" stroke="#000" stroke-width="1.25"/>
<line x1="273.34" y1="98.26" x2="279.14" y2="98.26" stroke="#000" stroke-width="1.25"/>
<line x1="273.34" y1="114.10" x2="279.14" y2="114.10" stroke="#000" stroke-width="1.25"/>
<line x1="279.70" y1="99.32" x2="279.70" y2="115.16" stroke="#000" stroke-width="1.25"/>
<line x1="276.80" y1="99.32" x2="282.60" y2="99.32" stroke="#000" stroke-width="1.25"/>
<line x1="276.80" y1="115.16" x2="282.60" y2="115.16" stroke="#000" stroke-width="1.25"/>
<line x1="283.16" y1="100.23" x2="283.16" y2="116.07" stroke="#000" stroke-width="1.25"/>
<line x1="280.26" y1="100.23" x2="286.06" y2="100.23" stroke="#000" stroke-width="1.25"/>
<line x1="280.26" y1="116.07" x2="286.06" y2="116.07" stroke="#000" stroke-width="1.25"/>
<line x1="286.62" y1="110.36" x2="286.62" y2="125.41" stroke="#000" stroke-width="1.25"/>
<line x1="283.72" y1="110.36" x2="289.52" y2="110.36" stroke="#000" stroke-width="1.25"/>
<line x1="283.72" y1="125.41" x2="289.52" y2="125.41" stroke="#000" stroke-width="1.25"/>
<line x1="290.08" y1="119.33" x2="290.08" y2="132.01" stroke="#000" stroke-width="1.25"/>
<line x1="287.18" y1="119.33" x2="292.98" y2="119.33" stroke="#000" stroke-width="1.25"/>
<line x1="287.18" y1="132.01" x2="292.98" y2="132.01" stroke="#000" stroke-width="1.25"/>
<line x1="293.54" y1="121.56" x2="293.54" y2="132.12" stroke="#000" stroke-width="1.25"/>
<line x1="290.64" y1="121.56" x2="296.44" y2="121.56" stroke="#000" stroke-width="1.25"/>
<line x1="290.64" y1="132.12" x2="296.44" y2="132.12" stroke="#000" stroke-width="1.25"/>
<line x1="297.00" y1="134.68" x2="297.00" y2="145.24" stroke="#000" stroke-width="1.25"/>
<line x1="294.10" y1="134.68" x2="299.90" y2="134.68" stroke="#000" stroke-width="1.25"/>
<line x1="294.10" y1="145.24" x2="299.90" y2="145.24" stroke="#000" stroke-width="1.25"/>
<line x1="300.46" y1="144.98" x2="300.46" y2="155.54" stroke="#000" stroke-width="1.25"/>
<line x1="297.56" y1="144.98" x2="303.36" y2="144.98" stroke="#000" stroke-width="1.25"/>
<line x1="297.56" y1="155.54" x2="303.36" y2="155.54" stroke="#000" stroke-width="1.25"/>
<line x1="303.91" y1="150.95" x2="303.91" y2="161.86" stroke="#000" stroke-width="1.25"/>
<line x1="301.01" y1="150.95" x2="306.81" y2="150.95" stroke="#000" stroke-width="1.25"/>
<line x1="301.01" y1="161.86" x2="306.81" y2="161.86" stroke="#000" stroke-width="1.25"/>
<line x1="307.37" y1="153.21" x2="307.37" y2="164.52" stroke="#000" stroke-width="1.25"/>
<line x1="304.47" y1="153.21" x2="310.27" y2="153.21" stroke="#000" stroke-width="1.25"/>
<line x1="304.47" y1="164.52" x2="310.27" y2="164.52" stroke="#000" stroke-width="1.25"/>
<line x1="310.83" y1="155.70" x2="310.83" y2="167.41" stroke="#000" stroke-width="1.25"/>
<line x1="307.93" y1="155.70" x2="313.73" y2="155.70" stroke="#000" stroke-width="1.25"/>
<line x1="307.93" y1="167.41" x2="313.73" y2="167.41" stroke="#000" stroke-width="1.25"/>
<line x1="314.29" y1="157.87" x2="314.29" y2="169.97" stroke="#000" stroke-width="1.25"/>
<line x1="311.39" y1="157.87" x2="317.19" y2="157.87" stroke="#000" stroke-width="1.25"/>
<line x1="311.39" y1="169.97" x2="317.19" y2="169.97" stroke="#000" stroke-width="1.25"/>
<line x1="317.75" y1="159.26" x2="317.75" y2="171.76" stroke="#000" stroke-width="1.25"/>
<line x1="314.85" y1="159.26" x2="320.65" y2="159.26" stroke="#000" stroke-width="1.25"/>
<line x1="314.85" y1="171.76" x2="320.65" y2="171.76" stroke="#000" stroke-width="1.25"/>
<line x1="321.21" y1="160.11" x2="321.21" y2="173.00" stroke="#000" stroke-width="1.25"/>
<line x1="318.31" y1="160.11" x2="324.11" y2="160.11" stroke="#000" stroke-width="1.25"/>
<line x1="318.31" y1="173.00" x2="324.11" y2="173.00" stroke="#000" stroke-width="1.25"/>
<circle cx="210.52" cy="148.37" r="2.5" fill="#000"/>
<circle cx="213.98" cy="148.11" r="2.5" fill="#000"/>
<circle cx="217.44" cy="146.71" r="2.5" fill="#000"/>
<circle cx="220.90" cy="146.81" r="2.5" fill="#000"/>
<circle cx="224.36" cy="148.20" r="2.5" fill="#000"/>
<circle cx="227.82" cy="147.42" r="2.5" fill="#000"/>
<circle cx="231.28" cy="146.06" r="2.5" fill="#000"/>
<circle cx="234.73" cy="145.82" r="2.5" fill="#000"/>
<circle cx="238.19" cy="145.22" r="2.5" fill="#000"/>
<circle cx="241.65" cy="144.66" r="2.5" fill="#000"/>
<circle cx="245.11" cy="144.30" r="2.5" fill="#000"/>
<circle cx="248.57" cy="143.78" r="2.5" fill="#000"/>
<circle cx="252.03" cy="140.41" r="2.5" fill="#000"/>
<circle cx="255.49" cy="127.69" r="2.5" fill="#000"/>
<circle cx="258.95" cy="111.59" r="2.5" fill="#000"/>
<circle cx="262.41" cy="107.19" r="2.5" fill="#000"/>
<circle cx="265.87" cy="105.40" r="2.5" fill="#000"/>
<circle cx="269.32" cy="105.81" r="2.5" fill="#000"/>
<circle cx="272.78" cy="105.60" r="2.5" fill="#000"/>
<circle cx="276.24" cy="106.18" r="2.5" fill="#000"/>
<circle cx="279.70" cy="107.24" r="2.5" fill="#000"/>
<circle cx="283.16" cy="108.15" r="2.5" fill="#000"/>
<circle cx="286.62" cy="117.89" r="2.5" fill="#000"/>
<circle cx="290.08" cy="125.67" r="2.5" fill="#000"/>
<circle cx="293.54" cy="126.84" r="2.5" fill="#000"/>
<circle cx="297.00" cy="139.96" r="2.5" fill="#000"/>
<circle cx="300.46" cy="150.26" r="2.5" fill="#000"/>
<circle cx="303.91" cy="156.40" r="2.5" fill="#000"/>
<circle cx="307.37" cy="158.87" r="2.5" fill="#000"/>
<circle cx="310.83" cy="161.56" r="2.5" fill="#000"/>
<circle cx="314.29" cy="163.92" r="2.5" fill="#000"/>
<circle cx="317.75" cy="165.51" r="2.5" fill="#000"/>
<circle cx="321.21" cy="166.56" r="2.5" fill="#000"/>
<text x="436.70" y="8.90" font-size="10.6" text-anchor="middle" fill="#222" stroke="#222">Rat</text>
<text x="436.70" y="21.60" font-size="10.6" text-anchor="middle" fill="#222" stroke="#222">(12-14 month)</text>
<text x="458.10" y="37.50" font-size="9.4" text-anchor="end" fill="#222" stroke="#222">Baclofen</text>
<rect x="418.30" y="40.30" width="44.40" height="2.90" fill="#000"/>
<text x="463.70" y="37.50" font-size="9.4" text-anchor="start" fill="#222" stroke="#222">CGP</text>
<rect x="465.00" y="40.30" width="2.90" height="2.90" fill="#000"/>
<rect x="471.55" y="40.30" width="2.90" height="2.90" fill="#000"/>
<rect x="478.10" y="40.30" width="2.90" height="2.90" fill="#000"/>
<rect x="484.65" y="40.30" width="2.90" height="2.90" fill="#000"/>
<rect x="491.20" y="40.30" width="2.90" height="2.90" fill="#000"/>
<circle cx="385.20" cy="54.20" r="2.6" fill="#000"/>
<circle cx="385.20" cy="65.40" r="2.6" fill="#0000ff"/>
<text x="398.20" y="57.60" font-size="9.5" text-anchor="start" fill="#222" stroke="#222">L2/3 (n=10)</text>
<text x="398.20" y="68.90" font-size="9.5" text-anchor="start" fill="#0000ff" stroke="#0000ff">L5 PC (n=10)</text>
<line x1="374.60" y1="57.70" x2="374.60" y2="172.90" stroke="#222" stroke-width="1.2"/>
<line x1="370.10" y1="58.30" x2="374.60" y2="58.30" stroke="#222" stroke-width="1.2"/>
<text x="368.10" y="61.60" font-size="9.2" text-anchor="end" fill="#222" stroke="#222">200</text>
<line x1="370.10" y1="80.30" x2="374.60" y2="80.30" stroke="#222" stroke-width="1.2"/>
<text x="368.10" y="83.60" font-size="9.2" text-anchor="end" fill="#222" stroke="#222">150</text>
<line x1="370.10" y1="102.30" x2="374.60" y2="102.30" stroke="#222" stroke-width="1.2"/>
<text x="368.10" y="105.60" font-size="9.2" text-anchor="end" fill="#222" stroke="#222">100</text>
<line x1="370.10" y1="124.30" x2="374.60" y2="124.30" stroke="#222" stroke-width="1.2"/>
<text x="368.10" y="127.60" font-size="9.2" text-anchor="end" fill="#222" stroke="#222">50</text>
<line x1="370.10" y1="146.30" x2="374.60" y2="146.30" stroke="#222" stroke-width="1.2"/>
<text x="368.10" y="149.60" font-size="9.2" text-anchor="end" fill="#222" stroke="#222">0</text>
<line x1="370.10" y1="168.30" x2="374.60" y2="168.30" stroke="#222" stroke-width="1.2"/>
<text x="368.10" y="171.60" font-size="9.2" text-anchor="end" fill="#222" stroke="#222">-50</text>
<line x1="374.00" y1="172.90" x2="489.90" y2="172.90" stroke="#222" stroke-width="1.2"/>
<line x1="374.60" y1="172.90" x2="374.60" y2="177.40" stroke="#222" stroke-width="1.2"/>
<text x="374.60" y="187.90" font-size="9.2" text-anchor="middle" fill="#222" stroke="#222">0</text>
<line x1="413.03" y1="172.90" x2="413.03" y2="177.40" stroke="#222" stroke-width="1.2"/>
<text x="413.03" y="187.90" font-size="9.2" text-anchor="middle" fill="#222" stroke="#222">5</text>
<line x1="451.47" y1="172.90" x2="451.47" y2="177.40" stroke="#222" stroke-width="1.2"/>
<text x="451.47" y="187.90" font-size="9.2" text-anchor="middle" fill="#222" stroke="#222">10</text>
<line x1="489.90" y1="172.90" x2="489.90" y2="177.40" stroke="#222" stroke-width="1.2"/>
<text x="489.90" y="187.90" font-size="9.2" text-anchor="middle" fill="#222" stroke="#222">15</text>
<text x="432.25" y="200.00" font-size="8.7" text-anchor="middle" fill="#222" stroke="#222">Time (min)</text>
<line x1="374.60" y1="146.30" x2="489.90" y2="146.30" stroke="#808080" stroke-width="1.0" stroke-dasharray="3,2.6"/>
<line x1="376.91" y1="151.79" x2="376.91" y2="168.51" stroke="#0000ff" stroke-width="1.25"/>
<line x1="374.01" y1="151.79" x2="379.81" y2="151.79" stroke="#0000ff" stroke-width="1.25"/>
<line x1="374.01" y1="168.51" x2="379.81" y2="168.51" stroke="#0000ff" stroke-width="1.25"/>
<line x1="379.90" y1="151.24" x2="379.90" y2="165.10" stroke="#0000ff" stroke-width="1.25"/>
<line x1="377.00" y1="151.24" x2="382.80" y2="151.24" stroke="#0000ff" stroke-width="1.25"/>
<line x1="377.00" y1="165.10" x2="382.80" y2="165.10" stroke="#0000ff" stroke-width="1.25"/>
<line x1="382.90" y1="152.02" x2="382.90" y2="158.92" stroke="#0000ff" stroke-width="1.25"/>
<line x1="380.00" y1="152.02" x2="385.80" y2="152.02" stroke="#0000ff" stroke-width="1.25"/>
<line x1="380.00" y1="158.92" x2="385.80" y2="158.92" stroke="#0000ff" stroke-width="1.25"/>
<line x1="385.90" y1="147.59" x2="385.90" y2="153.81" stroke="#0000ff" stroke-width="1.25"/>
<line x1="383.00" y1="147.59" x2="388.80" y2="147.59" stroke="#0000ff" stroke-width="1.25"/>
<line x1="383.00" y1="153.81" x2="388.80" y2="153.81" stroke="#0000ff" stroke-width="1.25"/>
<line x1="388.90" y1="147.12" x2="388.90" y2="152.65" stroke="#0000ff" stroke-width="1.25"/>
<line x1="386.00" y1="147.12" x2="391.80" y2="147.12" stroke="#0000ff" stroke-width="1.25"/>
<line x1="386.00" y1="152.65" x2="391.80" y2="152.65" stroke="#0000ff" stroke-width="1.25"/>
<line x1="391.90" y1="146.99" x2="391.90" y2="151.61" stroke="#0000ff" stroke-width="1.25"/>
<line x1="389.00" y1="146.99" x2="394.80" y2="146.99" stroke="#0000ff" stroke-width="1.25"/>
<line x1="389.00" y1="151.61" x2="394.80" y2="151.61" stroke="#0000ff" stroke-width="1.25"/>
<line x1="394.89" y1="146.30" x2="394.89" y2="149.90" stroke="#0000ff" stroke-width="1.25"/>
<line x1="391.99" y1="146.30" x2="397.79" y2="146.30" stroke="#0000ff" stroke-width="1.25"/>
<line x1="391.99" y1="149.90" x2="397.79" y2="149.90" stroke="#0000ff" stroke-width="1.25"/>
<line x1="397.89" y1="146.17" x2="397.89" y2="148.81" stroke="#0000ff" stroke-width="1.25"/>
<line x1="394.99" y1="146.17" x2="400.79" y2="146.17" stroke="#0000ff" stroke-width="1.25"/>
<line x1="394.99" y1="148.81" x2="400.79" y2="148.81" stroke="#0000ff" stroke-width="1.25"/>
<line x1="400.89" y1="145.47" x2="400.89" y2="148.11" stroke="#0000ff" stroke-width="1.25"/>
<line x1="397.99" y1="145.47" x2="403.79" y2="145.47" stroke="#0000ff" stroke-width="1.25"/>
<line x1="397.99" y1="148.11" x2="403.79" y2="148.11" stroke="#0000ff" stroke-width="1.25"/>
<line x1="403.89" y1="144.81" x2="403.89" y2="147.45" stroke="#0000ff" stroke-width="1.25"/>
<line x1="400.99" y1="144.81" x2="406.79" y2="144.81" stroke="#0000ff" stroke-width="1.25"/>
<line x1="400.99" y1="147.45" x2="406.79" y2="147.45" stroke="#0000ff" stroke-width="1.25"/>
<line x1="406.88" y1="144.72" x2="406.88" y2="147.36" stroke="#0000ff" stroke-width="1.25"/>
<line x1="403.98" y1="144.72" x2="409.78" y2="144.72" stroke="#0000ff" stroke-width="1.25"/>
<line x1="403.98" y1="147.36" x2="409.78" y2="147.36" stroke="#0000ff" stroke-width="1.25"/>
<line x1="409.88" y1="144.84" x2="409.88" y2="147.48" stroke="#0000ff" stroke-width="1.25"/>
<line x1="406.98" y1="144.84" x2="412.78" y2="144.84" stroke="#0000ff" stroke-width="1.25"/>
<line x1="406.98" y1="147.48" x2="412.78" y2="147.48" stroke="#0000ff" stroke-width="1.25"/>
<line x1="412.88" y1="145.15" x2="412.88" y2="147.79" stroke="#0000ff" stroke-width="1.25"/>
<line x1="409.98" y1="145.15" x2="415.78" y2="145.15" stroke="#0000ff" stroke-width="1.25"/>
<line x1="409.98" y1="147.79" x2="415.78" y2="147.79" stroke="#0000ff" stroke-width="1.25"/>
<line x1="415.88" y1="146.05" x2="415.88" y2="148.69" stroke="#0000ff" stroke-width="1.25"/>
<line x1="412.98" y1="146.05" x2="418.78" y2="146.05" stroke="#0000ff" stroke-width="1.25"/>
<line x1="412.98" y1="148.69" x2="418.78" y2="148.69" stroke="#0000ff" stroke-width="1.25"/>
<line x1="418.88" y1="146.99" x2="418.88" y2="149.63" stroke="#0000ff" stroke-width="1.25"/>
<line x1="415.98" y1="146.99" x2="421.78" y2="146.99" stroke="#0000ff" stroke-width="1.25"/>
<line x1="415.98" y1="149.63" x2="421.78" y2="149.63" stroke="#0000ff" stroke-width="1.25"/>
<line x1="421.87" y1="145.10" x2="421.87" y2="149.32" stroke="#0000ff" stroke-width="1.25"/>
<line x1="418.97" y1="145.10" x2="424.77" y2="145.10" stroke="#0000ff" stroke-width="1.25"/>
<line x1="418.97" y1="149.32" x2="424.77" y2="149.32" stroke="#0000ff" stroke-width="1.25"/>
<line x1="424.87" y1="131.55" x2="424.87" y2="139.89" stroke="#0000ff" stroke-width="1.25"/>
<line x1="421.97" y1="131.55" x2="427.77" y2="131.55" stroke="#0000ff" stroke-width="1.25"/>
<line x1="421.97" y1="139.89" x2="427.77" y2="139.89" stroke="#0000ff" stroke-width="1.25"/>
<line x1="427.87" y1="117.60" x2="427.87" y2="130.06" stroke="#0000ff" stroke-width="1.25"/>
<line x1="424.97" y1="117.60" x2="430.77" y2="117.60" stroke="#0000ff" stroke-width="1.25"/>
<line x1="424.97" y1="130.06" x2="430.77" y2="130.06" stroke="#0000ff" stroke-width="1.25"/>
<line x1="430.87" y1="110.69" x2="430.87" y2="124.17" stroke="#0000ff" stroke-width="1.25"/>
<line x1="427.97" y1="110.69" x2="433.77" y2="110.69" stroke="#0000ff" stroke-width="1.25"/>
<line x1="427.97" y1="124.17" x2="433.77" y2="124.17" stroke="#0000ff" stroke-width="1.25"/>
<line x1="433.86" y1="106.05" x2="433.86" y2="119.88" stroke="#0000ff" stroke-width="1.25"/>
<line x1="430.96" y1="106.05" x2="436.76" y2="106.05" stroke="#0000ff" stroke-width="1.25"/>
<line x1="430.96" y1="119.88" x2="436.76" y2="119.88" stroke="#0000ff" stroke-width="1.25"/>
<line x1="436.86" y1="102.74" x2="436.86" y2="116.91" stroke="#0000ff" stroke-width="1.25"/>
<line x1="433.96" y1="102.74" x2="439.76" y2="102.74" stroke="#0000ff" stroke-width="1.25"/>
<line x1="433.96" y1="116.91" x2="439.76" y2="116.91" stroke="#0000ff" stroke-width="1.25"/>
<line x1="439.86" y1="101.76" x2="439.86" y2="116.27" stroke="#0000ff" stroke-width="1.25"/>
<line x1="436.96" y1="101.76" x2="442.76" y2="101.76" stroke="#0000ff" stroke-width="1.25"/>
<line x1="436.96" y1="116.27" x2="442.76" y2="116.27" stroke="#0000ff" stroke-width="1.25"/>
<line x1="442.86" y1="101.00" x2="442.86" y2="115.85" stroke="#0000ff" stroke-width="1.25"/>
<line x1="439.96" y1="101.00" x2="445.76" y2="101.00" stroke="#0000ff" stroke-width="1.25"/>
<line x1="439.96" y1="115.85" x2="445.76" y2="115.85" stroke="#0000ff" stroke-width="1.25"/>
<line x1="445.86" y1="100.17" x2="445.86" y2="115.37" stroke="#0000ff" stroke-width="1.25"/>
<line x1="442.96" y1="100.17" x2="448.76" y2="100.17" stroke="#0000ff" stroke-width="1.25"/>
<line x1="442.96" y1="115.37" x2="448.76" y2="115.37" stroke="#0000ff" stroke-width="1.25"/>
<line x1="448.85" y1="99.30" x2="448.85" y2="114.84" stroke="#0000ff" stroke-width="1.25"/>
<line x1="445.95" y1="99.30" x2="451.75" y2="99.30" stroke="#0000ff" stroke-width="1.25"/>
<line x1="445.95" y1="114.84" x2="451.75" y2="114.84" stroke="#0000ff" stroke-width="1.25"/>
<line x1="451.85" y1="98.28" x2="451.85" y2="114.47" stroke="#0000ff" stroke-width="1.25"/>
<line x1="448.95" y1="98.28" x2="454.75" y2="98.28" stroke="#0000ff" stroke-width="1.25"/>
<line x1="448.95" y1="114.47" x2="454.75" y2="114.47" stroke="#0000ff" stroke-width="1.25"/>
<line x1="454.85" y1="96.07" x2="454.85" y2="115.01" stroke="#0000ff" stroke-width="1.25"/>
<line x1="451.95" y1="96.07" x2="457.75" y2="96.07" stroke="#0000ff" stroke-width="1.25"/>
<line x1="451.95" y1="115.01" x2="457.75" y2="115.01" stroke="#0000ff" stroke-width="1.25"/>
<line x1="457.85" y1="93.29" x2="457.85" y2="114.97" stroke="#0000ff" stroke-width="1.25"/>
<line x1="454.95" y1="93.29" x2="460.75" y2="93.29" stroke="#0000ff" stroke-width="1.25"/>
<line x1="454.95" y1="114.97" x2="460.75" y2="114.97" stroke="#0000ff" stroke-width="1.25"/>
<line x1="460.84" y1="94.70" x2="460.84" y2="115.45" stroke="#0000ff" stroke-width="1.25"/>
<line x1="457.94" y1="94.70" x2="463.74" y2="94.70" stroke="#0000ff" stroke-width="1.25"/>
<line x1="457.94" y1="115.45" x2="463.74" y2="115.45" stroke="#0000ff" stroke-width="1.25"/>
<line x1="463.84" y1="103.87" x2="463.84" y2="120.84" stroke="#0000ff" stroke-width="1.25"/>
<line x1="460.94" y1="103.87" x2="466.74" y2="103.87" stroke="#0000ff" stroke-width="1.25"/>
<line x1="460.94" y1="120.84" x2="466.74" y2="120.84" stroke="#0000ff" stroke-width="1.25"/>
<line x1="466.84" y1="118.82" x2="466.84" y2="132.02" stroke="#0000ff" stroke-width="1.25"/>
<line x1="463.94" y1="118.82" x2="469.74" y2="118.82" stroke="#0000ff" stroke-width="1.25"/>
<line x1="463.94" y1="132.02" x2="469.74" y2="132.02" stroke="#0000ff" stroke-width="1.25"/>
<line x1="469.84" y1="126.04" x2="469.84" y2="138.90" stroke="#0000ff" stroke-width="1.25"/>
<line x1="466.94" y1="126.04" x2="472.74" y2="126.04" stroke="#0000ff" stroke-width="1.25"/>
<line x1="466.94" y1="138.90" x2="472.74" y2="138.90" stroke="#0000ff" stroke-width="1.25"/>
<line x1="472.84" y1="132.36" x2="472.84" y2="144.87" stroke="#0000ff" stroke-width="1.25"/>
<line x1="469.94" y1="132.36" x2="475.74" y2="132.36" stroke="#0000ff" stroke-width="1.25"/>
<line x1="469.94" y1="144.87" x2="475.74" y2="144.87" stroke="#0000ff" stroke-width="1.25"/>
<line x1="475.83" y1="138.37" x2="475.83" y2="150.54" stroke="#0000ff" stroke-width="1.25"/>
<line x1="472.93" y1="138.37" x2="478.73" y2="138.37" stroke="#0000ff" stroke-width="1.25"/>
<line x1="472.93" y1="150.54" x2="478.73" y2="150.54" stroke="#0000ff" stroke-width="1.25"/>
<line x1="478.83" y1="143.95" x2="478.83" y2="155.78" stroke="#0000ff" stroke-width="1.25"/>
<line x1="475.93" y1="143.95" x2="481.73" y2="143.95" stroke="#0000ff" stroke-width="1.25"/>
<line x1="475.93" y1="155.78" x2="481.73" y2="155.78" stroke="#0000ff" stroke-width="1.25"/>
<line x1="481.83" y1="146.89" x2="481.83" y2="158.37" stroke="#0000ff" stroke-width="1.25"/>
<line x1="478.93" y1="146.89" x2="484.73" y2="146.89" stroke="#0000ff" stroke-width="1.25"/>
<line x1="478.93" y1="158.37" x2="484.73" y2="158.37" stroke="#0000ff" stroke-width="1.25"/>
<line x1="484.83" y1="148.07" x2="484.83" y2="159.21" stroke="#0000ff" stroke-width="1.25"/>
<line x1="481.93" y1="148.07" x2="487.73" y2="148.07" stroke="#0000ff" stroke-width="1.25"/>
<line x1="481.93" y1="159.21" x2="487.73" y2="159.21" stroke="#0000ff" stroke-width="1.25"/>
<line x1="487.82" y1="149.41" x2="487.82" y2="160.20" stroke="#0000ff" stroke-width="1.25"/>
<line x1="484.92" y1="149.41" x2="490.72" y2="149.41" stroke="#0000ff" stroke-width="1.25"/>
<line x1="484.92" y1="160.20" x2="490.72" y2="160.20" stroke="#0000ff" stroke-width="1.25"/>
<circle cx="376.91" cy="160.15" r="2.5" fill="#0000ff"/>
<circle cx="379.90" cy="158.17" r="2.5" fill="#0000ff"/>
<circle cx="382.90" cy="155.47" r="2.5" fill="#0000ff"/>
<circle cx="385.90" cy="150.70" r="2.5" fill="#0000ff"/>
<circle cx="388.90" cy="149.89" r="2.5" fill="#0000ff"/>
<circle cx="391.90" cy="149.30" r="2.5" fill="#0000ff"/>
<circle cx="394.89" cy="148.10" r="2.5" fill="#0000ff"/>
<circle cx="397.89" cy="147.49" r="2.5" fill="#0000ff"/>
<circle cx="400.89" cy="146.79" r="2.5" fill="#0000ff"/>
<circle cx="403.89" cy="146.13" r="2.5" fill="#0000ff"/>
<circle cx="406.88" cy="146.04" r="2.5" fill="#0000ff"/>
<circle cx="409.88" cy="146.16" r="2.5" fill="#0000ff"/>
<circle cx="412.88" cy="146.47" r="2.5" fill="#0000ff"/>
<circle cx="415.88" cy="147.37" r="2.5" fill="#0000ff"/>
<circle cx="418.88" cy="148.31" r="2.5" fill="#0000ff"/>
<circle cx="421.87" cy="147.21" r="2.5" fill="#0000ff"/>
<circle cx="424.87" cy="135.72" r="2.5" fill="#0000ff"/>
<circle cx="427.87" cy="123.83" r="2.5" fill="#0000ff"/>
<circle cx="430.87" cy="117.43" r="2.5" fill="#0000ff"/>
<circle cx="433.86" cy="112.97" r="2.5" fill="#0000ff"/>
<circle cx="436.86" cy="109.82" r="2.5" fill="#0000ff"/>
<circle cx="439.86" cy="109.02" r="2.5" fill="#0000ff"/>
<circle cx="442.86" cy="108.42" r="2.5" fill="#0000ff"/>
<circle cx="445.86" cy="107.77" r="2.5" fill="#0000ff"/>
<circle cx="448.85" cy="107.07" r="2.5" fill="#0000ff"/>
<circle cx="451.85" cy="106.38" r="2.5" fill="#0000ff"/>
<circle cx="454.85" cy="105.54" r="2.5" fill="#0000ff"/>
<circle cx="457.85" cy="104.13" r="2.5" fill="#0000ff"/>
<circle cx="460.84" cy="105.08" r="2.5" fill="#0000ff"/>
<circle cx="463.84" cy="112.36" r="2.5" fill="#0000ff"/>
<circle cx="466.84" cy="125.42" r="2.5" fill="#0000ff"/>
<circle cx="469.84" cy="132.47" r="2.5" fill="#0000ff"/>
<circle cx="472.84" cy="138.61" r="2.5" fill="#0000ff"/>
<circle cx="475.83" cy="144.46" r="2.5" fill="#0000ff"/>
<circle cx="478.83" cy="149.87" r="2.5" fill="#0000ff"/>
<circle cx="481.83" cy="152.63" r="2.5" fill="#0000ff"/>
<circle cx="484.83" cy="153.64" r="2.5" fill="#0000ff"/>
<circle cx="487.82" cy="154.80" r="2.5" fill="#0000ff"/>
<line x1="376.91" y1="149.17" x2="376.91" y2="157.75" stroke="#000" stroke-width="1.25"/>
<line x1="374.01" y1="149.17" x2="379.81" y2="149.17" stroke="#000" stroke-width="1.25"/>
<line x1="374.01" y1="157.75" x2="379.81" y2="157.75" stroke="#000" stroke-width="1.25"/>
<line x1="379.90" y1="146.78" x2="379.90" y2="155.09" stroke="#000" stroke-width="1.25"/>
<line x1="377.00" y1="146.78" x2="382.80" y2="146.78" stroke="#000" stroke-width="1.25"/>
<line x1="377.00" y1="155.09" x2="382.80" y2="155.09" stroke="#000" stroke-width="1.25"/>
<line x1="382.90" y1="144.43" x2="382.90" y2="152.47" stroke="#000" stroke-width="1.25"/>
<line x1="380.00" y1="144.43" x2="385.80" y2="144.43" stroke="#000" stroke-width="1.25"/>
<line x1="380.00" y1="152.47" x2="385.80" y2="152.47" stroke="#000" stroke-width="1.25"/>
<line x1="385.90" y1="143.36" x2="385.90" y2="151.13" stroke="#000" stroke-width="1.25"/>
<line x1="383.00" y1="143.36" x2="388.80" y2="143.36" stroke="#000" stroke-width="1.25"/>
<line x1="383.00" y1="151.13" x2="388.80" y2="151.13" stroke="#000" stroke-width="1.25"/>
<line x1="388.90" y1="142.32" x2="388.90" y2="149.81" stroke="#000" stroke-width="1.25"/>
<line x1="386.00" y1="142.32" x2="391.80" y2="142.32" stroke="#000" stroke-width="1.25"/>
<line x1="386.00" y1="149.81" x2="391.80" y2="149.81" stroke="#000" stroke-width="1.25"/>
<line x1="391.90" y1="142.24" x2="391.90" y2="149.46" stroke="#000" stroke-width="1.25"/>
<line x1="389.00" y1="142.24" x2="394.80" y2="142.24" stroke="#000" stroke-width="1.25"/>
<line x1="389.00" y1="149.46" x2="394.80" y2="149.46" stroke="#000" stroke-width="1.25"/>
<line x1="394.89" y1="142.99" x2="394.89" y2="148.80" stroke="#000" stroke-width="1.25"/>
<line x1="391.99" y1="142.99" x2="397.79" y2="142.99" stroke="#000" stroke-width="1.25"/>
<line x1="391.99" y1="148.80" x2="397.79" y2="148.80" stroke="#000" stroke-width="1.25"/>
<line x1="397.89" y1="144.70" x2="397.89" y2="147.34" stroke="#000" stroke-width="1.25"/>
<line x1="394.99" y1="144.70" x2="400.79" y2="144.70" stroke="#000" stroke-width="1.25"/>
<line x1="394.99" y1="147.34" x2="400.79" y2="147.34" stroke="#000" stroke-width="1.25"/>
<line x1="400.89" y1="144.74" x2="400.89" y2="147.38" stroke="#000" stroke-width="1.25"/>
<line x1="397.99" y1="144.74" x2="403.79" y2="144.74" stroke="#000" stroke-width="1.25"/>
<line x1="397.99" y1="147.38" x2="403.79" y2="147.38" stroke="#000" stroke-width="1.25"/>
<line x1="403.89" y1="144.99" x2="403.89" y2="147.63" stroke="#000" stroke-width="1.25"/>
<line x1="400.99" y1="144.99" x2="406.79" y2="144.99" stroke="#000" stroke-width="1.25"/>
<line x1="400.99" y1="147.63" x2="406.79" y2="147.63" stroke="#000" stroke-width="1.25"/>
<line x1="406.88" y1="144.70" x2="406.88" y2="147.34" stroke="#000" stroke-width="1.25"/>
<line x1="403.98" y1="144.70" x2="409.78" y2="144.70" stroke="#000" stroke-width="1.25"/>
<line x1="403.98" y1="147.34" x2="409.78" y2="147.34" stroke="#000" stroke-width="1.25"/>
<line x1="409.88" y1="144.25" x2="409.88" y2="146.89" stroke="#000" stroke-width="1.25"/>
<line x1="406.98" y1="144.25" x2="412.78" y2="144.25" stroke="#000" stroke-width="1.25"/>
<line x1="406.98" y1="146.89" x2="412.78" y2="146.89" stroke="#000" stroke-width="1.25"/>
<line x1="412.88" y1="144.41" x2="412.88" y2="147.05" stroke="#000" stroke-width="1.25"/>
<line x1="409.98" y1="144.41" x2="415.78" y2="144.41" stroke="#000" stroke-width="1.25"/>
<line x1="409.98" y1="147.05" x2="415.78" y2="147.05" stroke="#000" stroke-width="1.25"/>
<line x1="415.88" y1="143.34" x2="415.88" y2="145.98" stroke="#000" stroke-width="1.25"/>
<line x1="412.98" y1="143.34" x2="418.78" y2="143.34" stroke="#000" stroke-width="1.25"/>
<line x1="412.98" y1="145.98" x2="418.78" y2="145.98" stroke="#000" stroke-width="1.25"/>
<line x1="418.88" y1="143.85" x2="418.88" y2="146.49" stroke="#000" stroke-width="1.25"/>
<line x1="415.98" y1="143.85" x2="421.78" y2="143.85" stroke="#000" stroke-width="1.25"/>
<line x1="415.98" y1="146.49" x2="421.78" y2="146.49" stroke="#000" stroke-width="1.25"/>
<line x1="421.87" y1="142.14" x2="421.87" y2="145.44" stroke="#000" stroke-width="1.25"/>
<line x1="418.97" y1="142.14" x2="424.77" y2="142.14" stroke="#000" stroke-width="1.25"/>
<line x1="418.97" y1="145.44" x2="424.77" y2="145.44" stroke="#000" stroke-width="1.25"/>
<line x1="424.87" y1="135.61" x2="424.87" y2="140.62" stroke="#000" stroke-width="1.25"/>
<line x1="421.97" y1="135.61" x2="427.77" y2="135.61" stroke="#000" stroke-width="1.25"/>
<line x1="421.97" y1="140.62" x2="427.77" y2="140.62" stroke="#000" stroke-width="1.25"/>
<line x1="427.87" y1="129.79" x2="427.87" y2="136.53" stroke="#000" stroke-width="1.25"/>
<line x1="424.97" y1="129.79" x2="430.77" y2="129.79" stroke="#000" stroke-width="1.25"/>
<line x1="424.97" y1="136.53" x2="430.77" y2="136.53" stroke="#000" stroke-width="1.25"/>
<line x1="430.87" y1="124.98" x2="430.87" y2="133.15" stroke="#000" stroke-width="1.25"/>
<line x1="427.97" y1="124.98" x2="433.77" y2="124.98" stroke="#000" stroke-width="1.25"/>
<line x1="427.97" y1="133.15" x2="433.77" y2="133.15" stroke="#000" stroke-width="1.25"/>
<line x1="433.86" y1="121.23" x2="433.86" y2="130.77" stroke="#000" stroke-width="1.25"/>
<line x1="430.96" y1="121.23" x2="436.76" y2="121.23" stroke="#000" stroke-width="1.25"/>
<line x1="430.96" y1="130.77" x2="436.76" y2="130.77" stroke="#000" stroke-width="1.25"/>
<line x1="436.86" y1="119.53" x2="436.86" y2="130.18" stroke="#000" stroke-width="1.25"/>
<line x1="433.96" y1="119.53" x2="439.76" y2="119.53" stroke="#000" stroke-width="1.25"/>
<line x1="433.96" y1="130.18" x2="439.76" y2="130.18" stroke="#000" stroke-width="1.25"/>
<line x1="439.86" y1="117.32" x2="439.86" y2="128.31" stroke="#000" stroke-width="1.25"/>
<line x1="436.96" y1="117.32" x2="442.76" y2="117.32" stroke="#000" stroke-width="1.25"/>
<line x1="436.96" y1="128.31" x2="442.76" y2="128.31" stroke="#000" stroke-width="1.25"/>
<line x1="442.86" y1="115.31" x2="442.86" y2="126.64" stroke="#000" stroke-width="1.25"/>
<line x1="439.96" y1="115.31" x2="445.76" y2="115.31" stroke="#000" stroke-width="1.25"/>
<line x1="439.96" y1="126.64" x2="445.76" y2="126.64" stroke="#000" stroke-width="1.25"/>
<line x1="445.86" y1="114.54" x2="445.86" y2="126.22" stroke="#000" stroke-width="1.25"/>
<line x1="442.96" y1="114.54" x2="448.76" y2="114.54" stroke="#000" stroke-width="1.25"/>
<line x1="442.96" y1="126.22" x2="448.76" y2="126.22" stroke="#000" stroke-width="1.25"/>
<line x1="448.85" y1="113.68" x2="448.85" y2="125.70" stroke="#000" stroke-width="1.25"/>
<line x1="445.95" y1="113.68" x2="451.75" y2="113.68" stroke="#000" stroke-width="1.25"/>
<line x1="445.95" y1="125.70" x2="451.75" y2="125.70" stroke="#000" stroke-width="1.25"/>
<line x1="451.85" y1="112.41" x2="451.85" y2="124.78" stroke="#000" stroke-width="1.25"/>
<line x1="448.95" y1="112.41" x2="454.75" y2="112.41" stroke="#000" stroke-width="1.25"/>
<line x1="448.95" y1="124.78" x2="454.75" y2="124.78" stroke="#000" stroke-width="1.25"/>
<line x1="454.85" y1="111.54" x2="454.85" y2="124.25" stroke="#000" stroke-width="1.25"/>
<line x1="451.95" y1="111.54" x2="457.75" y2="111.54" stroke="#000" stroke-width="1.25"/>
<line x1="451.95" y1="124.25" x2="457.75" y2="124.25" stroke="#000" stroke-width="1.25"/>
<line x1="457.85" y1="110.90" x2="457.85" y2="123.95" stroke="#000" stroke-width="1.25"/>
<line x1="454.95" y1="110.90" x2="460.75" y2="110.90" stroke="#000" stroke-width="1.25"/>
<line x1="454.95" y1="123.95" x2="460.75" y2="123.95" stroke="#000" stroke-width="1.25"/>
<line x1="460.84" y1="111.74" x2="460.84" y2="123.97" stroke="#000" stroke-width="1.25"/>
<line x1="457.94" y1="111.74" x2="463.74" y2="111.74" stroke="#000" stroke-width="1.25"/>
<line x1="457.94" y1="123.97" x2="463.74" y2="123.97" stroke="#000" stroke-width="1.25"/>
<line x1="463.84" y1="116.23" x2="463.84" y2="126.75" stroke="#000" stroke-width="1.25"/>
<line x1="460.94" y1="116.23" x2="466.74" y2="116.23" stroke="#000" stroke-width="1.25"/>
<line x1="460.94" y1="126.75" x2="466.74" y2="126.75" stroke="#000" stroke-width="1.25"/>
<line x1="466.84" y1="124.01" x2="466.84" y2="132.81" stroke="#000" stroke-width="1.25"/>
<line x1="463.94" y1="124.01" x2="469.74" y2="124.01" stroke="#000" stroke-width="1.25"/>
<line x1="463.94" y1="132.81" x2="469.74" y2="132.81" stroke="#000" stroke-width="1.25"/>
<line x1="469.84" y1="130.35" x2="469.84" y2="137.78" stroke="#000" stroke-width="1.25"/>
<line x1="466.94" y1="130.35" x2="472.74" y2="130.35" stroke="#000" stroke-width="1.25"/>
<line x1="466.94" y1="137.78" x2="472.74" y2="137.78" stroke="#000" stroke-width="1.25"/>
<line x1="472.84" y1="135.72" x2="472.84" y2="141.78" stroke="#000" stroke-width="1.25"/>
<line x1="469.94" y1="135.72" x2="475.74" y2="135.72" stroke="#000" stroke-width="1.25"/>
<line x1="469.94" y1="141.78" x2="475.74" y2="141.78" stroke="#000" stroke-width="1.25"/>
<line x1="475.83" y1="140.54" x2="475.83" y2="145.75" stroke="#000" stroke-width="1.25"/>
<line x1="472.93" y1="140.54" x2="478.73" y2="140.54" stroke="#000" stroke-width="1.25"/>
<line x1="472.93" y1="145.75" x2="478.73" y2="145.75" stroke="#000" stroke-width="1.25"/>
<line x1="478.83" y1="145.19" x2="478.83" y2="150.22" stroke="#000" stroke-width="1.25"/>
<line x1="475.93" y1="145.19" x2="481.73" y2="145.19" stroke="#000" stroke-width="1.25"/>
<line x1="475.93" y1="150.22" x2="481.73" y2="150.22" stroke="#000" stroke-width="1.25"/>
<line x1="481.83" y1="148.25" x2="481.83" y2="153.11" stroke="#000" stroke-width="1.25"/>
<line x1="478.93" y1="148.25" x2="484.73" y2="148.25" stroke="#000" stroke-width="1.25"/>
<line x1="478.93" y1="153.11" x2="484.73" y2="153.11" stroke="#000" stroke-width="1.25"/>
<line x1="484.83" y1="149.50" x2="484.83" y2="154.19" stroke="#000" stroke-width="1.25"/>
<line x1="481.93" y1="149.50" x2="487.73" y2="149.50" stroke="#000" stroke-width="1.25"/>
<line x1="481.93" y1="154.19" x2="487.73" y2="154.19" stroke="#000" stroke-width="1.25"/>
<line x1="487.82" y1="150.13" x2="487.82" y2="154.65" stroke="#000" stroke-width="1.25"/>
<line x1="484.92" y1="150.13" x2="490.72" y2="150.13" stroke="#000" stroke-width="1.25"/>
<line x1="484.92" y1="154.65" x2="490.72" y2="154.65" stroke="#000" stroke-width="1.25"/>
<circle cx="376.91" cy="153.46" r="2.5" fill="#000"/>
<circle cx="379.90" cy="150.93" r="2.5" fill="#000"/>
<circle cx="382.90" cy="148.45" r="2.5" fill="#000"/>
<circle cx="385.90" cy="147.24" r="2.5" fill="#000"/>
<circle cx="388.90" cy="146.06" r="2.5" fill="#000"/>
<circle cx="391.90" cy="145.85" r="2.5" fill="#000"/>
<circle cx="394.89" cy="145.90" r="2.5" fill="#000"/>
<circle cx="397.89" cy="146.02" r="2.5" fill="#000"/>
<circle cx="400.89" cy="146.06" r="2.5" fill="#000"/>
<circle cx="403.89" cy="146.31" r="2.5" fill="#000"/>
<circle cx="406.88" cy="146.02" r="2.5" fill="#000"/>
<circle cx="409.88" cy="145.57" r="2.5" fill="#000"/>
<circle cx="412.88" cy="145.73" r="2.5" fill="#000"/>
<circle cx="415.88" cy="144.66" r="2.5" fill="#000"/>
<circle cx="418.88" cy="145.17" r="2.5" fill="#000"/>
<circle cx="421.87" cy="143.79" r="2.5" fill="#000"/>
<circle cx="424.87" cy="138.12" r="2.5" fill="#000"/>
<circle cx="427.87" cy="133.16" r="2.5" fill="#000"/>
<circle cx="430.87" cy="129.07" r="2.5" fill="#000"/>
<circle cx="433.86" cy="126.00" r="2.5" fill="#000"/>
<circle cx="436.86" cy="124.86" r="2.5" fill="#000"/>
<circle cx="439.86" cy="122.81" r="2.5" fill="#000"/>
<circle cx="442.86" cy="120.98" r="2.5" fill="#000"/>
<circle cx="445.86" cy="120.38" r="2.5" fill="#000"/>
<circle cx="448.85" cy="119.69" r="2.5" fill="#000"/>
<circle cx="451.85" cy="118.60" r="2.5" fill="#000"/>
<circle cx="454.85" cy="117.89" r="2.5" fill="#000"/>
<circle cx="457.85" cy="117.43" r="2.5" fill="#000"/>
<circle cx="460.84" cy="117.86" r="2.5" fill="#000"/>
<circle cx="463.84" cy="121.49" r="2.5" fill="#000"/>
<circle cx="466.84" cy="128.41" r="2.5" fill="#000"/>
<circle cx="469.84" cy="134.06" r="2.5" fill="#000"/>
<circle cx="472.84" cy="138.75" r="2.5" fill="#000"/>
<circle cx="475.83" cy="143.15" r="2.5" fill="#000"/>
<circle cx="478.83" cy="147.70" r="2.5" fill="#000"/>
<circle cx="481.83" cy="150.68" r="2.5" fill="#000"/>
<circle cx="484.83" cy="151.84" r="2.5" fill="#000"/>
<circle cx="487.82" cy="152.39" r="2.5" fill="#000"/>
<text x="613.80" y="8.90" font-size="10.6" text-anchor="middle" fill="#222" stroke="#222">Human</text>
<text x="613.80" y="21.60" font-size="10.6" text-anchor="middle" fill="#222" stroke="#222">(28-77 year)</text>
<text x="630.30" y="37.50" font-size="9.4" text-anchor="end" fill="#222" stroke="#222">Baclofen</text>
<rect x="575.70" y="40.30" width="59.20" height="2.90" fill="#000"/>
<text x="635.90" y="37.50" font-size="9.4" text-anchor="start" fill="#222" stroke="#222">CGP</text>
<rect x="637.20" y="40.30" width="2.90" height="2.90" fill="#000"/>
<rect x="643.13" y="40.30" width="2.90" height="2.90" fill="#000"/>
<rect x="649.07" y="40.30" width="2.90" height="2.90" fill="#000"/>
<rect x="655.00" y="40.30" width="2.90" height="2.90" fill="#000"/>
<circle cx="553.40" cy="54.20" r="2.6" fill="#000"/>
<circle cx="553.40" cy="64.90" r="2.6" fill="#0000ff"/>
<text x="566.40" y="57.60" font-size="9.5" text-anchor="start" fill="#222" stroke="#222">L2/3 PC (n=27)</text>
<text x="566.40" y="68.40" font-size="9.5" text-anchor="start" fill="#0000ff" stroke="#0000ff">L5 PC (n=11)</text>
<line x1="544.00" y1="57.80" x2="544.00" y2="173.00" stroke="#222" stroke-width="1.2"/>
<line x1="539.50" y1="58.40" x2="544.00" y2="58.40" stroke="#222" stroke-width="1.2"/>
<text x="537.50" y="61.70" font-size="9.2" text-anchor="end" fill="#222" stroke="#222">200</text>
<line x1="539.50" y1="80.40" x2="544.00" y2="80.40" stroke="#222" stroke-width="1.2"/>
<text x="537.50" y="83.70" font-size="9.2" text-anchor="end" fill="#222" stroke="#222">150</text>
<line x1="539.50" y1="102.40" x2="544.00" y2="102.40" stroke="#222" stroke-width="1.2"/>
<text x="537.50" y="105.70" font-size="9.2" text-anchor="end" fill="#222" stroke="#222">100</text>
<line x1="539.50" y1="124.40" x2="544.00" y2="124.40" stroke="#222" stroke-width="1.2"/>
<text x="537.50" y="127.70" font-size="9.2" text-anchor="end" fill="#222" stroke="#222">50</text>
<line x1="539.50" y1="146.40" x2="544.00" y2="146.40" stroke="#222" stroke-width="1.2"/>
<text x="537.50" y="149.70" font-size="9.2" text-anchor="end" fill="#222" stroke="#222">0</text>
<line x1="539.50" y1="168.40" x2="544.00" y2="168.40" stroke="#222" stroke-width="1.2"/>
<text x="537.50" y="171.70" font-size="9.2" text-anchor="end" fill="#222" stroke="#222">-50</text>
<line x1="543.40" y1="173.00" x2="659.30" y2="173.00" stroke="#222" stroke-width="1.2"/>
<line x1="544.00" y1="173.00" x2="544.00" y2="177.50" stroke="#222" stroke-width="1.2"/>
<text x="544.00" y="188.00" font-size="9.2" text-anchor="middle" fill="#222" stroke="#222">0</text>
<line x1="572.83" y1="173.00" x2="572.83" y2="177.50" stroke="#222" stroke-width="1.2"/>
<text x="572.83" y="188.00" font-size="9.2" text-anchor="middle" fill="#222" stroke="#222">5</text>
<line x1="601.65" y1="173.00" x2="601.65" y2="177.50" stroke="#222" stroke-width="1.2"/>
<text x="601.65" y="188.00" font-size="9.2" text-anchor="middle" fill="#222" stroke="#222">10</text>
<line x1="630.48" y1="173.00" x2="630.48" y2="177.50" stroke="#222" stroke-width="1.2"/>
<text x="630.48" y="188.00" font-size="9.2" text-anchor="middle" fill="#222" stroke="#222">15</text>
<line x1="659.30" y1="173.00" x2="659.30" y2="177.50" stroke="#222" stroke-width="1.2"/>
<text x="659.30" y="188.00" font-size="9.2" text-anchor="middle" fill="#222" stroke="#222">20</text>
<text x="601.65" y="200.10" font-size="8.7" text-anchor="middle" fill="#222" stroke="#222">Time (min)</text>
<line x1="544.00" y1="146.40" x2="659.30" y2="146.40" stroke="#808080" stroke-width="1.0" stroke-dasharray="3,2.6"/>
<line x1="545.44" y1="149.30" x2="545.44" y2="153.70" stroke="#0000ff" stroke-width="1.25"/>
<line x1="542.54" y1="149.30" x2="548.34" y2="149.30" stroke="#0000ff" stroke-width="1.25"/>
<line x1="542.54" y1="153.70" x2="548.34" y2="153.70" stroke="#0000ff" stroke-width="1.25"/>
<line x1="548.32" y1="147.62" x2="548.32" y2="152.02" stroke="#0000ff" stroke-width="1.25"/>
<line x1="545.42" y1="147.62" x2="551.22" y2="147.62" stroke="#0000ff" stroke-width="1.25"/>
<line x1="545.42" y1="152.02" x2="551.22" y2="152.02" stroke="#0000ff" stroke-width="1.25"/>
<line x1="551.21" y1="145.30" x2="551.21" y2="149.70" stroke="#0000ff" stroke-width="1.25"/>
<line x1="548.31" y1="145.30" x2="554.11" y2="145.30" stroke="#0000ff" stroke-width="1.25"/>
<line x1="548.31" y1="149.70" x2="554.11" y2="149.70" stroke="#0000ff" stroke-width="1.25"/>
<line x1="554.09" y1="143.98" x2="554.09" y2="148.38" stroke="#0000ff" stroke-width="1.25"/>
<line x1="551.19" y1="143.98" x2="556.99" y2="143.98" stroke="#0000ff" stroke-width="1.25"/>
<line x1="551.19" y1="148.38" x2="556.99" y2="148.38" stroke="#0000ff" stroke-width="1.25"/>
<line x1="556.97" y1="143.19" x2="556.97" y2="147.59" stroke="#0000ff" stroke-width="1.25"/>
<line x1="554.07" y1="143.19" x2="559.87" y2="143.19" stroke="#0000ff" stroke-width="1.25"/>
<line x1="554.07" y1="147.59" x2="559.87" y2="147.59" stroke="#0000ff" stroke-width="1.25"/>
<line x1="559.85" y1="142.68" x2="559.85" y2="147.08" stroke="#0000ff" stroke-width="1.25"/>
<line x1="556.95" y1="142.68" x2="562.75" y2="142.68" stroke="#0000ff" stroke-width="1.25"/>
<line x1="556.95" y1="147.08" x2="562.75" y2="147.08" stroke="#0000ff" stroke-width="1.25"/>
<line x1="562.74" y1="142.93" x2="562.74" y2="147.33" stroke="#0000ff" stroke-width="1.25"/>
<line x1="559.84" y1="142.93" x2="565.64" y2="142.93" stroke="#0000ff" stroke-width="1.25"/>
<line x1="559.84" y1="147.33" x2="565.64" y2="147.33" stroke="#0000ff" stroke-width="1.25"/>
<line x1="565.62" y1="142.62" x2="565.62" y2="147.02" stroke="#0000ff" stroke-width="1.25"/>
<line x1="562.72" y1="142.62" x2="568.52" y2="142.62" stroke="#0000ff" stroke-width="1.25"/>
<line x1="562.72" y1="147.02" x2="568.52" y2="147.02" stroke="#0000ff" stroke-width="1.25"/>
<line x1="568.50" y1="142.65" x2="568.50" y2="147.05" stroke="#0000ff" stroke-width="1.25"/>
<line x1="565.60" y1="142.65" x2="571.40" y2="142.65" stroke="#0000ff" stroke-width="1.25"/>
<line x1="565.60" y1="147.05" x2="571.40" y2="147.05" stroke="#0000ff" stroke-width="1.25"/>
<line x1="571.38" y1="143.08" x2="571.38" y2="147.48" stroke="#0000ff" stroke-width="1.25"/>
<line x1="568.48" y1="143.08" x2="574.28" y2="143.08" stroke="#0000ff" stroke-width="1.25"/>
<line x1="568.48" y1="147.48" x2="574.28" y2="147.48" stroke="#0000ff" stroke-width="1.25"/>
<line x1="574.27" y1="142.83" x2="574.27" y2="147.23" stroke="#0000ff" stroke-width="1.25"/>
<line x1="571.37" y1="142.83" x2="577.17" y2="142.83" stroke="#0000ff" stroke-width="1.25"/>
<line x1="571.37" y1="147.23" x2="577.17" y2="147.23" stroke="#0000ff" stroke-width="1.25"/>
<line x1="577.15" y1="142.37" x2="577.15" y2="146.77" stroke="#0000ff" stroke-width="1.25"/>
<line x1="574.25" y1="142.37" x2="580.05" y2="142.37" stroke="#0000ff" stroke-width="1.25"/>
<line x1="574.25" y1="146.77" x2="580.05" y2="146.77" stroke="#0000ff" stroke-width="1.25"/>
<line x1="580.03" y1="139.43" x2="580.03" y2="144.93" stroke="#0000ff" stroke-width="1.25"/>
<line x1="577.13" y1="139.43" x2="582.93" y2="139.43" stroke="#0000ff" stroke-width="1.25"/>
<line x1="577.13" y1="144.93" x2="582.93" y2="144.93" stroke="#0000ff" stroke-width="1.25"/>
<line x1="582.91" y1="131.27" x2="582.91" y2="138.97" stroke="#0000ff" stroke-width="1.25"/>
<line x1="580.01" y1="131.27" x2="585.81" y2="131.27" stroke="#0000ff" stroke-width="1.25"/>
<line x1="580.01" y1="138.97" x2="585.81" y2="138.97" stroke="#0000ff" stroke-width="1.25"/>
<line x1="585.80" y1="122.59" x2="585.80" y2="132.27" stroke="#0000ff" stroke-width="1.25"/>
<line x1="582.90" y1="122.59" x2="588.70" y2="122.59" stroke="#0000ff" stroke-width="1.25"/>
<line x1="582.90" y1="132.27" x2="588.70" y2="132.27" stroke="#0000ff" stroke-width="1.25"/>
<line x1="588.68" y1="118.08" x2="588.68" y2="129.52" stroke="#0000ff" stroke-width="1.25"/>
<line x1="585.78" y1="118.08" x2="591.58" y2="118.08" stroke="#0000ff" stroke-width="1.25"/>
<line x1="585.78" y1="129.52" x2="591.58" y2="129.52" stroke="#0000ff" stroke-width="1.25"/>
<line x1="591.56" y1="117.26" x2="591.56" y2="129.64" stroke="#0000ff" stroke-width="1.25"/>
<line x1="588.66" y1="117.26" x2="594.46" y2="117.26" stroke="#0000ff" stroke-width="1.25"/>
<line x1="588.66" y1="129.64" x2="594.46" y2="129.64" stroke="#0000ff" stroke-width="1.25"/>
<line x1="594.44" y1="115.99" x2="594.44" y2="128.50" stroke="#0000ff" stroke-width="1.25"/>
<line x1="591.54" y1="115.99" x2="597.34" y2="115.99" stroke="#0000ff" stroke-width="1.25"/>
<line x1="591.54" y1="128.50" x2="597.34" y2="128.50" stroke="#0000ff" stroke-width="1.25"/>
<line x1="597.33" y1="115.00" x2="597.33" y2="127.63" stroke="#0000ff" stroke-width="1.25"/>
<line x1="594.43" y1="115.00" x2="600.23" y2="115.00" stroke="#0000ff" stroke-width="1.25"/>
<line x1="594.43" y1="127.63" x2="600.23" y2="127.63" stroke="#0000ff" stroke-width="1.25"/>
<line x1="600.21" y1="112.88" x2="600.21" y2="125.64" stroke="#0000ff" stroke-width="1.25"/>
<line x1="597.31" y1="112.88" x2="603.11" y2="112.88" stroke="#0000ff" stroke-width="1.25"/>
<line x1="597.31" y1="125.64" x2="603.11" y2="125.64" stroke="#0000ff" stroke-width="1.25"/>
<line x1="603.09" y1="111.52" x2="603.09" y2="124.40" stroke="#0000ff" stroke-width="1.25"/>
<line x1="600.19" y1="111.52" x2="605.99" y2="111.52" stroke="#0000ff" stroke-width="1.25"/>
<line x1="600.19" y1="124.40" x2="605.99" y2="124.40" stroke="#0000ff" stroke-width="1.25"/>
<line x1="605.97" y1="110.79" x2="605.97" y2="123.80" stroke="#0000ff" stroke-width="1.25"/>
<line x1="603.07" y1="110.79" x2="608.87" y2="110.79" stroke="#0000ff" stroke-width="1.25"/>
<line x1="603.07" y1="123.80" x2="608.87" y2="123.80" stroke="#0000ff" stroke-width="1.25"/>
<line x1="608.86" y1="110.63" x2="608.86" y2="123.76" stroke="#0000ff" stroke-width="1.25"/>
<line x1="605.96" y1="110.63" x2="611.76" y2="110.63" stroke="#0000ff" stroke-width="1.25"/>
<line x1="605.96" y1="123.76" x2="611.76" y2="123.76" stroke="#0000ff" stroke-width="1.25"/>
<line x1="611.74" y1="109.77" x2="611.74" y2="123.04" stroke="#0000ff" stroke-width="1.25"/>
<line x1="608.84" y1="109.77" x2="614.64" y2="109.77" stroke="#0000ff" stroke-width="1.25"/>
<line x1="608.84" y1="123.04" x2="614.64" y2="123.04" stroke="#0000ff" stroke-width="1.25"/>
<line x1="614.62" y1="109.56" x2="614.62" y2="122.95" stroke="#0000ff" stroke-width="1.25"/>
<line x1="611.72" y1="109.56" x2="617.52" y2="109.56" stroke="#0000ff" stroke-width="1.25"/>
<line x1="611.72" y1="122.95" x2="617.52" y2="122.95" stroke="#0000ff" stroke-width="1.25"/>
<line x1="617.50" y1="109.04" x2="617.50" y2="122.55" stroke="#0000ff" stroke-width="1.25"/>
<line x1="614.60" y1="109.04" x2="620.40" y2="109.04" stroke="#0000ff" stroke-width="1.25"/>
<line x1="614.60" y1="122.55" x2="620.40" y2="122.55" stroke="#0000ff" stroke-width="1.25"/>
<line x1="620.39" y1="108.54" x2="620.39" y2="122.18" stroke="#0000ff" stroke-width="1.25"/>
<line x1="617.49" y1="108.54" x2="623.29" y2="108.54" stroke="#0000ff" stroke-width="1.25"/>
<line x1="617.49" y1="122.18" x2="623.29" y2="122.18" stroke="#0000ff" stroke-width="1.25"/>
<line x1="623.27" y1="108.40" x2="623.27" y2="122.16" stroke="#0000ff" stroke-width="1.25"/>
<line x1="620.37" y1="108.40" x2="626.17" y2="108.40" stroke="#0000ff" stroke-width="1.25"/>
<line x1="620.37" y1="122.16" x2="626.17" y2="122.16" stroke="#0000ff" stroke-width="1.25"/>
<line x1="626.15" y1="107.82" x2="626.15" y2="121.71" stroke="#0000ff" stroke-width="1.25"/>
<line x1="623.25" y1="107.82" x2="629.05" y2="107.82" stroke="#0000ff" stroke-width="1.25"/>
<line x1="623.25" y1="121.71" x2="629.05" y2="121.71" stroke="#0000ff" stroke-width="1.25"/>
<line x1="629.03" y1="107.93" x2="629.03" y2="121.95" stroke="#0000ff" stroke-width="1.25"/>
<line x1="626.13" y1="107.93" x2="631.93" y2="107.93" stroke="#0000ff" stroke-width="1.25"/>
<line x1="626.13" y1="121.95" x2="631.93" y2="121.95" stroke="#0000ff" stroke-width="1.25"/>
<line x1="631.92" y1="109.46" x2="631.92" y2="122.88" stroke="#0000ff" stroke-width="1.25"/>
<line x1="629.02" y1="109.46" x2="634.82" y2="109.46" stroke="#0000ff" stroke-width="1.25"/>
<line x1="629.02" y1="122.88" x2="634.82" y2="122.88" stroke="#0000ff" stroke-width="1.25"/>
<line x1="634.80" y1="111.76" x2="634.80" y2="123.86" stroke="#0000ff" stroke-width="1.25"/>
<line x1="631.90" y1="111.76" x2="637.70" y2="111.76" stroke="#0000ff" stroke-width="1.25"/>
<line x1="631.90" y1="123.86" x2="637.70" y2="123.86" stroke="#0000ff" stroke-width="1.25"/>
<line x1="637.68" y1="122.10" x2="637.68" y2="132.88" stroke="#0000ff" stroke-width="1.25"/>
<line x1="634.78" y1="122.10" x2="640.58" y2="122.10" stroke="#0000ff" stroke-width="1.25"/>
<line x1="634.78" y1="132.88" x2="640.58" y2="132.88" stroke="#0000ff" stroke-width="1.25"/>
<line x1="640.56" y1="136.85" x2="640.56" y2="146.31" stroke="#0000ff" stroke-width="1.25"/>
<line x1="637.66" y1="136.85" x2="643.46" y2="136.85" stroke="#0000ff" stroke-width="1.25"/>
<line x1="637.66" y1="146.31" x2="643.46" y2="146.31" stroke="#0000ff" stroke-width="1.25"/>
<line x1="643.45" y1="144.70" x2="643.45" y2="153.50" stroke="#0000ff" stroke-width="1.25"/>
<line x1="640.55" y1="144.70" x2="646.35" y2="144.70" stroke="#0000ff" stroke-width="1.25"/>
<line x1="640.55" y1="153.50" x2="646.35" y2="153.50" stroke="#0000ff" stroke-width="1.25"/>
<line x1="646.33" y1="147.02" x2="646.33" y2="155.82" stroke="#0000ff" stroke-width="1.25"/>
<line x1="643.43" y1="147.02" x2="649.23" y2="147.02" stroke="#0000ff" stroke-width="1.25"/>
<line x1="643.43" y1="155.82" x2="649.23" y2="155.82" stroke="#0000ff" stroke-width="1.25"/>
<line x1="649.21" y1="148.83" x2="649.21" y2="157.63" stroke="#0000ff" stroke-width="1.25"/>
<line x1="646.31" y1="148.83" x2="652.11" y2="148.83" stroke="#0000ff" stroke-width="1.25"/>
<line x1="646.31" y1="157.63" x2="652.11" y2="157.63" stroke="#0000ff" stroke-width="1.25"/>
<line x1="652.09" y1="150.68" x2="652.09" y2="159.48" stroke="#0000ff" stroke-width="1.25"/>
<line x1="649.19" y1="150.68" x2="654.99" y2="150.68" stroke="#0000ff" stroke-width="1.25"/>
<line x1="649.19" y1="159.48" x2="654.99" y2="159.48" stroke="#0000ff" stroke-width="1.25"/>
<line x1="654.98" y1="152.30" x2="654.98" y2="161.10" stroke="#0000ff" stroke-width="1.25"/>
<line x1="652.08" y1="152.30" x2="657.88" y2="152.30" stroke="#0000ff" stroke-width="1.25"/>
<line x1="652.08" y1="161.10" x2="657.88" y2="161.10" stroke="#0000ff" stroke-width="1.25"/>
<line x1="657.86" y1="153.46" x2="657.86" y2="162.26" stroke="#0000ff" stroke-width="1.25"/>
<line x1="654.96" y1="153.46" x2="660.76" y2="153.46" stroke="#0000ff" stroke-width="1.25"/>
<line x1="654.96" y1="162.26" x2="660.76" y2="162.26" stroke="#0000ff" stroke-width="1.25"/>
<circle cx="545.44" cy="151.50" r="2.5" fill="#0000ff"/>
<circle cx="548.32" cy="149.82" r="2.5" fill="#0000ff"/>
<circle cx="551.21" cy="147.50" r="2.5" fill="#0000ff"/>
<circle cx="554.09" cy="146.18" r="2.5" fill="#0000ff"/>
<circle cx="556.97" cy="145.39" r="2.5" fill="#0000ff"/>
<circle cx="559.85" cy="144.88" r="2.5" fill="#0000ff"/>
<circle cx="562.74" cy="145.13" r="2.5" fill="#0000ff"/>
<circle cx="565.62" cy="144.82" r="2.5" fill="#0000ff"/>
<circle cx="568.50" cy="144.85" r="2.5" fill="#0000ff"/>
<circle cx="571.38" cy="145.28" r="2.5" fill="#0000ff"/>
<circle cx="574.27" cy="145.03" r="2.5" fill="#0000ff"/>
<circle cx="577.15" cy="144.57" r="2.5" fill="#0000ff"/>
<circle cx="580.03" cy="142.18" r="2.5" fill="#0000ff"/>
<circle cx="582.91" cy="135.12" r="2.5" fill="#0000ff"/>
<circle cx="585.80" cy="127.43" r="2.5" fill="#0000ff"/>
<circle cx="588.68" cy="123.80" r="2.5" fill="#0000ff"/>
<circle cx="591.56" cy="123.45" r="2.5" fill="#0000ff"/>
<circle cx="594.44" cy="122.24" r="2.5" fill="#0000ff"/>
<circle cx="597.33" cy="121.31" r="2.5" fill="#0000ff"/>
<circle cx="600.21" cy="119.26" r="2.5" fill="#0000ff"/>
<circle cx="603.09" cy="117.96" r="2.5" fill="#0000ff"/>
<circle cx="605.97" cy="117.30" r="2.5" fill="#0000ff"/>
<circle cx="608.86" cy="117.20" r="2.5" fill="#0000ff"/>
<circle cx="611.74" cy="116.41" r="2.5" fill="#0000ff"/>
<circle cx="614.62" cy="116.26" r="2.5" fill="#0000ff"/>
<circle cx="617.50" cy="115.80" r="2.5" fill="#0000ff"/>
<circle cx="620.39" cy="115.36" r="2.5" fill="#0000ff"/>
<circle cx="623.27" cy="115.28" r="2.5" fill="#0000ff"/>
<circle cx="626.15" cy="114.76" r="2.5" fill="#0000ff"/>
<circle cx="629.03" cy="114.94" r="2.5" fill="#0000ff"/>
<circle cx="631.92" cy="116.17" r="2.5" fill="#0000ff"/>
<circle cx="634.80" cy="117.81" r="2.5" fill="#0000ff"/>
<circle cx="637.68" cy="127.49" r="2.5" fill="#0000ff"/>
<circle cx="640.56" cy="141.58" r="2.5" fill="#0000ff"/>
<circle cx="643.45" cy="149.10" r="2.5" fill="#0000ff"/>
<circle cx="646.33" cy="151.42" r="2.5" fill="#0000ff"/>
<circle cx="649.21" cy="153.23" r="2.5" fill="#0000ff"/>
<circle cx="652.09" cy="155.08" r="2.5" fill="#0000ff"/>
<circle cx="654.98" cy="156.70" r="2.5" fill="#0000ff"/>
<circle cx="657.86" cy="157.86" r="2.5" fill="#0000ff"/>
<line x1="545.44" y1="146.90" x2="545.44" y2="149.54" stroke="#000" stroke-width="1.25"/>
<line x1="542.54" y1="146.90" x2="548.34" y2="146.90" stroke="#000" stroke-width="1.25"/>
<line x1="542.54" y1="149.54" x2="548.34" y2="149.54" stroke="#000" stroke-width="1.25"/>
<line x1="548.32" y1="146.14" x2="548.32" y2="148.78" stroke="#000" stroke-width="1.25"/>
<line x1="545.42" y1="146.14" x2="551.22" y2="146.14" stroke="#000" stroke-width="1.25"/>
<line x1="545.42" y1="148.78" x2="551.22" y2="148.78" stroke="#000" stroke-width="1.25"/>
<line x1="551.21" y1="145.81" x2="551.21" y2="148.45" stroke="#000" stroke-width="1.25"/>
<line x1="548.31" y1="145.81" x2="554.11" y2="145.81" stroke="#000" stroke-width="1.25"/>
<line x1="548.31" y1="148.45" x2="554.11" y2="148.45" stroke="#000" stroke-width="1.25"/>
<line x1="554.09" y1="145.13" x2="554.09" y2="147.77" stroke="#000" stroke-width="1.25"/>
<line x1="551.19" y1="145.13" x2="556.99" y2="145.13" stroke="#000" stroke-width="1.25"/>
<line x1="551.19" y1="147.77" x2="556.99" y2="147.77" stroke="#000" stroke-width="1.25"/>
<line x1="556.97" y1="144.23" x2="556.97" y2="146.87" stroke="#000" stroke-width="1.25"/>
<line x1="554.07" y1="144.23" x2="559.87" y2="144.23" stroke="#000" stroke-width="1.25"/>
<line x1="554.07" y1="146.87" x2="559.87" y2="146.87" stroke="#000" stroke-width="1.25"/>
<line x1="559.85" y1="143.97" x2="559.85" y2="146.61" stroke="#000" stroke-width="1.25"/>
<line x1="556.95" y1="143.97" x2="562.75" y2="143.97" stroke="#000" stroke-width="1.25"/>
<line x1="556.95" y1="146.61" x2="562.75" y2="146.61" stroke="#000" stroke-width="1.25"/>
<line x1="562.74" y1="143.50" x2="562.74" y2="146.14" stroke="#000" stroke-width="1.25"/>
<line x1="559.84" y1="143.50" x2="565.64" y2="143.50" stroke="#000" stroke-width="1.25"/>
<line x1="559.84" y1="146.14" x2="565.64" y2="146.14" stroke="#000" stroke-width="1.25"/>
<line x1="565.62" y1="142.92" x2="565.62" y2="145.56" stroke="#000" stroke-width="1.25"/>
<line x1="562.72" y1="142.92" x2="568.52" y2="142.92" stroke="#000" stroke-width="1.25"/>
<line x1="562.72" y1="145.56" x2="568.52" y2="145.56" stroke="#000" stroke-width="1.25"/>
<line x1="568.50" y1="142.59" x2="568.50" y2="145.23" stroke="#000" stroke-width="1.25"/>
<line x1="565.60" y1="142.59" x2="571.40" y2="142.59" stroke="#000" stroke-width="1.25"/>
<line x1="565.60" y1="145.23" x2="571.40" y2="145.23" stroke="#000" stroke-width="1.25"/>
<line x1="571.38" y1="142.92" x2="571.38" y2="145.56" stroke="#000" stroke-width="1.25"/>
<line x1="568.48" y1="142.92" x2="574.28" y2="142.92" stroke="#000" stroke-width="1.25"/>
<line x1="568.48" y1="145.56" x2="574.28" y2="145.56" stroke="#000" stroke-width="1.25"/>
<line x1="574.27" y1="142.25" x2="574.27" y2="144.89" stroke="#000" stroke-width="1.25"/>
<line x1="571.37" y1="142.25" x2="577.17" y2="142.25" stroke="#000" stroke-width="1.25"/>
<line x1="571.37" y1="144.89" x2="577.17" y2="144.89" stroke="#000" stroke-width="1.25"/>
<line x1="577.15" y1="141.23" x2="577.15" y2="143.87" stroke="#000" stroke-width="1.25"/>
<line x1="574.25" y1="141.23" x2="580.05" y2="141.23" stroke="#000" stroke-width="1.25"/>
<line x1="574.25" y1="143.87" x2="580.05" y2="143.87" stroke="#000" stroke-width="1.25"/>
<line x1="580.03" y1="137.92" x2="580.03" y2="141.66" stroke="#000" stroke-width="1.25"/>
<line x1="577.13" y1="137.92" x2="582.93" y2="137.92" stroke="#000" stroke-width="1.25"/>
<line x1="577.13" y1="141.66" x2="582.93" y2="141.66" stroke="#000" stroke-width="1.25"/>
<line x1="582.91" y1="132.29" x2="582.91" y2="138.23" stroke="#000" stroke-width="1.25"/>
<line x1="580.01" y1="132.29" x2="585.81" y2="132.29" stroke="#000" stroke-width="1.25"/>
<line x1="580.01" y1="138.23" x2="585.81" y2="138.23" stroke="#000" stroke-width="1.25"/>
<line x1="585.80" y1="125.88" x2="585.80" y2="133.36" stroke="#000" stroke-width="1.25"/>
<line x1="582.90" y1="125.88" x2="588.70" y2="125.88" stroke="#000" stroke-width="1.25"/>
<line x1="582.90" y1="133.36" x2="588.70" y2="133.36" stroke="#000" stroke-width="1.25"/>
<line x1="588.68" y1="121.30" x2="588.68" y2="129.66" stroke="#000" stroke-width="1.25"/>
<line x1="585.78" y1="121.30" x2="591.58" y2="121.30" stroke="#000" stroke-width="1.25"/>
<line x1="585.78" y1="129.66" x2="591.58" y2="129.66" stroke="#000" stroke-width="1.25"/>
<line x1="591.56" y1="119.96" x2="591.56" y2="128.76" stroke="#000" stroke-width="1.25"/>
<line x1="588.66" y1="119.96" x2="594.46" y2="119.96" stroke="#000" stroke-width="1.25"/>
<line x1="588.66" y1="128.76" x2="594.46" y2="128.76" stroke="#000" stroke-width="1.25"/>
<line x1="594.44" y1="119.52" x2="594.44" y2="128.32" stroke="#000" stroke-width="1.25"/>
<line x1="591.54" y1="119.52" x2="597.34" y2="119.52" stroke="#000" stroke-width="1.25"/>
<line x1="591.54" y1="128.32" x2="597.34" y2="128.32" stroke="#000" stroke-width="1.25"/>
<line x1="597.33" y1="119.58" x2="597.33" y2="128.38" stroke="#000" stroke-width="1.25"/>
<line x1="594.43" y1="119.58" x2="600.23" y2="119.58" stroke="#000" stroke-width="1.25"/>
<line x1="594.43" y1="128.38" x2="600.23" y2="128.38" stroke="#000" stroke-width="1.25"/>
<line x1="600.21" y1="119.35" x2="600.21" y2="128.15" stroke="#000" stroke-width="1.25"/>
<line x1="597.31" y1="119.35" x2="603.11" y2="119.35" stroke="#000" stroke-width="1.25"/>
<line x1="597.31" y1="128.15" x2="603.11" y2="128.15" stroke="#000" stroke-width="1.25"/>
<line x1="603.09" y1="119.19" x2="603.09" y2="127.99" stroke="#000" stroke-width="1.25"/>
<line x1="600.19" y1="119.19" x2="605.99" y2="119.19" stroke="#000" stroke-width="1.25"/>
<line x1="600.19" y1="127.99" x2="605.99" y2="127.99" stroke="#000" stroke-width="1.25"/>
<line x1="605.97" y1="119.56" x2="605.97" y2="128.36" stroke="#000" stroke-width="1.25"/>
<line x1="603.07" y1="119.56" x2="608.87" y2="119.56" stroke="#000" stroke-width="1.25"/>
<line x1="603.07" y1="128.36" x2="608.87" y2="128.36" stroke="#000" stroke-width="1.25"/>
<line x1="608.86" y1="119.24" x2="608.86" y2="128.04" stroke="#000" stroke-width="1.25"/>
<line x1="605.96" y1="119.24" x2="611.76" y2="119.24" stroke="#000" stroke-width="1.25"/>
<line x1="605.96" y1="128.04" x2="611.76" y2="128.04" stroke="#000" stroke-width="1.25"/>
<line x1="611.74" y1="118.86" x2="611.74" y2="127.66" stroke="#000" stroke-width="1.25"/>
<line x1="608.84" y1="118.86" x2="614.64" y2="118.86" stroke="#000" stroke-width="1.25"/>
<line x1="608.84" y1="127.66" x2="614.64" y2="127.66" stroke="#000" stroke-width="1.25"/>
<line x1="614.62" y1="118.72" x2="614.62" y2="127.52" stroke="#000" stroke-width="1.25"/>
<line x1="611.72" y1="118.72" x2="617.52" y2="118.72" stroke="#000" stroke-width="1.25"/>
<line x1="611.72" y1="127.52" x2="617.52" y2="127.52" stroke="#000" stroke-width="1.25"/>
<line x1="617.50" y1="118.88" x2="617.50" y2="127.68" stroke="#000" stroke-width="1.25"/>
<line x1="614.60" y1="118.88" x2="620.40" y2="118.88" stroke="#000" stroke-width="1.25"/>
<line x1="614.60" y1="127.68" x2="620.40" y2="127.68" stroke="#000" stroke-width="1.25"/>
<line x1="620.39" y1="118.56" x2="620.39" y2="127.36" stroke="#000" stroke-width="1.25"/>
<line x1="617.49" y1="118.56" x2="623.29" y2="118.56" stroke="#000" stroke-width="1.25"/>
<line x1="617.49" y1="127.36" x2="623.29" y2="127.36" stroke="#000" stroke-width="1.25"/>
<line x1="623.27" y1="118.01" x2="623.27" y2="126.81" stroke="#000" stroke-width="1.25"/>
<line x1="620.37" y1="118.01" x2="626.17" y2="118.01" stroke="#000" stroke-width="1.25"/>
<line x1="620.37" y1="126.81" x2="626.17" y2="126.81" stroke="#000" stroke-width="1.25"/>
<line x1="626.15" y1="117.99" x2="626.15" y2="126.79" stroke="#000" stroke-width="1.25"/>
<line x1="623.25" y1="117.99" x2="629.05" y2="117.99" stroke="#000" stroke-width="1.25"/>
<line x1="623.25" y1="126.79" x2="629.05" y2="126.79" stroke="#000" stroke-width="1.25"/>
<line x1="629.03" y1="117.65" x2="629.03" y2="126.45" stroke="#000" stroke-width="1.25"/>
<line x1="626.13" y1="117.65" x2="631.93" y2="117.65" stroke="#000" stroke-width="1.25"/>
<line x1="626.13" y1="126.45" x2="631.93" y2="126.45" stroke="#000" stroke-width="1.25"/>
<line x1="631.92" y1="118.38" x2="631.92" y2="127.07" stroke="#000" stroke-width="1.25"/>
<line x1="629.02" y1="118.38" x2="634.82" y2="118.38" stroke="#000" stroke-width="1.25"/>
<line x1="629.02" y1="127.07" x2="634.82" y2="127.07" stroke="#000" stroke-width="1.25"/>
<line x1="634.80" y1="119.39" x2="634.80" y2="127.86" stroke="#000" stroke-width="1.25"/>
<line x1="631.90" y1="119.39" x2="637.70" y2="119.39" stroke="#000" stroke-width="1.25"/>
<line x1="631.90" y1="127.86" x2="637.70" y2="127.86" stroke="#000" stroke-width="1.25"/>
<line x1="637.68" y1="123.38" x2="637.68" y2="131.63" stroke="#000" stroke-width="1.25"/>
<line x1="634.78" y1="123.38" x2="640.58" y2="123.38" stroke="#000" stroke-width="1.25"/>
<line x1="634.78" y1="131.63" x2="640.58" y2="131.63" stroke="#000" stroke-width="1.25"/>
<line x1="640.56" y1="130.01" x2="640.56" y2="138.04" stroke="#000" stroke-width="1.25"/>
<line x1="637.66" y1="130.01" x2="643.46" y2="130.01" stroke="#000" stroke-width="1.25"/>
<line x1="637.66" y1="138.04" x2="643.46" y2="138.04" stroke="#000" stroke-width="1.25"/>
<line x1="643.45" y1="136.03" x2="643.45" y2="143.88" stroke="#000" stroke-width="1.25"/>
<line x1="640.55" y1="136.03" x2="646.35" y2="136.03" stroke="#000" stroke-width="1.25"/>
<line x1="640.55" y1="143.88" x2="646.35" y2="143.88" stroke="#000" stroke-width="1.25"/>
<line x1="646.33" y1="139.10" x2="646.33" y2="146.80" stroke="#000" stroke-width="1.25"/>
<line x1="643.43" y1="139.10" x2="649.23" y2="139.10" stroke="#000" stroke-width="1.25"/>
<line x1="643.43" y1="146.80" x2="649.23" y2="146.80" stroke="#000" stroke-width="1.25"/>
<line x1="649.21" y1="142.18" x2="649.21" y2="149.73" stroke="#000" stroke-width="1.25"/>
<line x1="646.31" y1="142.18" x2="652.11" y2="142.18" stroke="#000" stroke-width="1.25"/>
<line x1="646.31" y1="149.73" x2="652.11" y2="149.73" stroke="#000" stroke-width="1.25"/>
<line x1="652.09" y1="143.72" x2="652.09" y2="151.12" stroke="#000" stroke-width="1.25"/>
<line x1="649.19" y1="143.72" x2="654.99" y2="143.72" stroke="#000" stroke-width="1.25"/>
<line x1="649.19" y1="151.12" x2="654.99" y2="151.12" stroke="#000" stroke-width="1.25"/>
<line x1="654.98" y1="144.04" x2="654.98" y2="151.30" stroke="#000" stroke-width="1.25"/>
<line x1="652.08" y1="144.04" x2="657.88" y2="144.04" stroke="#000" stroke-width="1.25"/>
<line x1="652.08" y1="151.30" x2="657.88" y2="151.30" stroke="#000" stroke-width="1.25"/>
<line x1="657.86" y1="144.49" x2="657.86" y2="151.61" stroke="#000" stroke-width="1.25"/>
<line x1="654.96" y1="144.49" x2="660.76" y2="144.49" stroke="#000" stroke-width="1.25"/>
<line x1="654.96" y1="151.61" x2="660.76" y2="151.61" stroke="#000" stroke-width="1.25"/>
<circle cx="545.44" cy="148.22" r="2.5" fill="#000"/>
<circle cx="548.32" cy="147.46" r="2.5" fill="#000"/>
<circle cx="551.21" cy="147.13" r="2.5" fill="#000"/>
<circle cx="554.09" cy="146.45" r="2.5" fill="#000"/>
<circle cx="556.97" cy="145.55" r="2.5" fill="#000"/>
<circle cx="559.85" cy="145.29" r="2.5" fill="#000"/>
<circle cx="562.74" cy="144.82" r="2.5" fill="#000"/>
<circle cx="565.62" cy="144.24" r="2.5" fill="#000"/>
<circle cx="568.50" cy="143.91" r="2.5" fill="#000"/>
<circle cx="571.38" cy="144.24" r="2.5" fill="#000"/>
<circle cx="574.27" cy="143.57" r="2.5" fill="#000"/>
<circle cx="577.15" cy="142.55" r="2.5" fill="#000"/>
<circle cx="580.03" cy="139.79" r="2.5" fill="#000"/>
<circle cx="582.91" cy="135.26" r="2.5" fill="#000"/>
<circle cx="585.80" cy="129.62" r="2.5" fill="#000"/>
<circle cx="588.68" cy="125.48" r="2.5" fill="#000"/>
<circle cx="591.56" cy="124.36" r="2.5" fill="#000"/>
<circle cx="594.44" cy="123.92" r="2.5" fill="#000"/>
<circle cx="597.33" cy="123.98" r="2.5" fill="#000"/>
<circle cx="600.21" cy="123.75" r="2.5" fill="#000"/>
<circle cx="603.09" cy="123.59" r="2.5" fill="#000"/>
<circle cx="605.97" cy="123.96" r="2.5" fill="#000"/>
<circle cx="608.86" cy="123.64" r="2.5" fill="#000"/>
<circle cx="611.74" cy="123.26" r="2.5" fill="#000"/>
<circle cx="614.62" cy="123.12" r="2.5" fill="#000"/>
<circle cx="617.50" cy="123.28" r="2.5" fill="#000"/>
<circle cx="620.39" cy="122.96" r="2.5" fill="#000"/>
<circle cx="623.27" cy="122.41" r="2.5" fill="#000"/>
<circle cx="626.15" cy="122.39" r="2.5" fill="#000"/>
<circle cx="629.03" cy="122.05" r="2.5" fill="#000"/>
<circle cx="631.92" cy="122.72" r="2.5" fill="#000"/>
<circle cx="634.80" cy="123.62" r="2.5" fill="#000"/>
<circle cx="637.68" cy="127.50" r="2.5" fill="#000"/>
<circle cx="640.56" cy="134.02" r="2.5" fill="#000"/>
<circle cx="643.45" cy="139.96" r="2.5" fill="#000"/>
<circle cx="646.33" cy="142.95" r="2.5" fill="#000"/>
<circle cx="649.21" cy="145.96" r="2.5" fill="#000"/>
<circle cx="652.09" cy="147.42" r="2.5" fill="#000"/>
<circle cx="654.98" cy="147.67" r="2.5" fill="#000"/>
<circle cx="657.86" cy="148.05" r="2.5" fill="#000"/>
<text x="1.50" y="220.80" font-size="16.6" text-anchor="start" fill="#222" stroke="#222">B</text>
<text x="100.50" y="223.10" font-size="10.6" text-anchor="middle" fill="#222" stroke="#222">Rat (age)</text>
<text x="37.80" y="241.50" font-size="9.2" text-anchor="start" fill="#222" stroke="#222">F= 12.03, <tspan font-style="italic">p</tspan>=3.7x10<tspan font-size="6.5" dy="-3.5">-5</tspan><tspan dy="3.5"> [interaction]</tspan></text>
<line x1="37.10" y1="263.00" x2="37.10" y2="377.00" stroke="#222" stroke-width="1.2"/>
<line x1="32.90" y1="377.00" x2="37.10" y2="377.00" stroke="#222" stroke-width="1.2"/>
<text x="30.90" y="380.30" font-size="9.0" text-anchor="end" fill="#222" stroke="#222">0</text>
<line x1="32.90" y1="339.00" x2="37.10" y2="339.00" stroke="#222" stroke-width="1.2"/>
<text x="30.90" y="342.30" font-size="9.0" text-anchor="end" fill="#222" stroke="#222">100</text>
<line x1="32.90" y1="301.00" x2="37.10" y2="301.00" stroke="#222" stroke-width="1.2"/>
<text x="30.90" y="304.30" font-size="9.0" text-anchor="end" fill="#222" stroke="#222">200</text>
<line x1="32.90" y1="263.00" x2="37.10" y2="263.00" stroke="#222" stroke-width="1.2"/>
<text x="30.90" y="266.30" font-size="9.0" text-anchor="end" fill="#222" stroke="#222">300</text>
<line x1="36.50" y1="377.00" x2="152.70" y2="377.00" stroke="#222" stroke-width="1.2"/>
<line x1="54.70" y1="377.00" x2="54.70" y2="381.40" stroke="#222" stroke-width="1.2"/>
<text x="54.70" y="391.60" font-size="9.3" text-anchor="middle" fill="#222" stroke="#222">1 M</text>
<text x="54.70" y="402.20" font-size="9.3" text-anchor="middle" fill="#222" stroke="#222">(10,11)</text>
<line x1="95.00" y1="377.00" x2="95.00" y2="381.40" stroke="#222" stroke-width="1.2"/>
<text x="95.00" y="391.60" font-size="9.3" text-anchor="middle" fill="#222" stroke="#222">6-8 M</text>
<text x="95.00" y="402.20" font-size="9.3" text-anchor="middle" fill="#222" stroke="#222">(22,19)</text>
<line x1="134.40" y1="377.00" x2="134.40" y2="381.40" stroke="#222" stroke-width="1.2"/>
<text x="134.40" y="391.60" font-size="9.3" text-anchor="middle" fill="#222" stroke="#222">12-14 M</text>
<text x="134.40" y="402.20" font-size="9.3" text-anchor="middle" fill="#222" stroke="#222">(12,11)</text>
<line x1="47.30" y1="286.56" x2="47.30" y2="313.16" stroke="#000" stroke-width="1.4"/>
<line x1="47.30" y1="330.41" x2="47.30" y2="350.78" stroke="#000" stroke-width="1.4"/>
<rect x="42.40" y="313.16" width="9.80" height="17.25" fill="none" stroke="#000" stroke-width="1.4"/>
<line x1="42.40" y1="322.66" x2="52.20" y2="322.66" stroke="#000" stroke-width="1.4"/>
<circle cx="47.30" cy="350.78" r="1.9" fill="#fff" stroke="#333" stroke-width="0.9"/>
<circle cx="47.30" cy="286.56" r="1.9" fill="#fff" stroke="#333" stroke-width="0.9"/>
<circle cx="47.30" cy="339.88" r="1.9" fill="#fff" stroke="#333" stroke-width="0.9"/>
<circle cx="48.13" cy="329.48" r="1.9" fill="#fff" stroke="#333" stroke-width="0.9"/>
<circle cx="49.18" cy="324.76" r="1.9" fill="#fff" stroke="#333" stroke-width="0.9"/>
<circle cx="44.70" cy="324.26" r="1.9" fill="#fff" stroke="#333" stroke-width="0.9"/>
<circle cx="46.04" cy="320.87" r="1.9" fill="#fff" stroke="#333" stroke-width="0.9"/>
<circle cx="44.68" cy="316.97" r="1.9" fill="#fff" stroke="#333" stroke-width="0.9"/>
<circle cx="49.28" cy="315.55" r="1.9" fill="#fff" stroke="#333" stroke-width="0.9"/>
<circle cx="47.30" cy="301.06" r="1.9" fill="#fff" stroke="#333" stroke-width="0.9"/>
<line x1="62.40" y1="311.26" x2="62.40" y2="349.26" stroke="#0000ff" stroke-width="1.4"/>
<line x1="62.40" y1="372.82" x2="62.40" y2="377.00" stroke="#0000ff" stroke-width="1.4"/>
<rect x="57.60" y="349.26" width="9.60" height="23.56" fill="none" stroke="#0000ff" stroke-width="1.4"/>
<line x1="57.60" y1="361.80" x2="67.20" y2="361.80" stroke="#0000ff" stroke-width="1.4"/>
<circle cx="62.40" cy="377.00" r="1.9" fill="#fff" stroke="#0000ff" stroke-width="0.9"/>
<circle cx="62.40" cy="311.26" r="1.9" fill="#fff" stroke="#0000ff" stroke-width="0.9"/>
<circle cx="62.40" cy="375.07" r="1.9" fill="#fff" stroke="#0000ff" stroke-width="0.9"/>
<circle cx="63.05" cy="371.78" r="1.9" fill="#fff" stroke="#0000ff" stroke-width="0.9"/>
<circle cx="62.77" cy="368.13" r="1.9" fill="#fff" stroke="#0000ff" stroke-width="0.9"/>
<circle cx="63.43" cy="367.28" r="1.9" fill="#fff" stroke="#0000ff" stroke-width="0.9"/>
<circle cx="60.13" cy="364.37" r="1.9" fill="#fff" stroke="#0000ff" stroke-width="0.9"/>
<circle cx="62.02" cy="358.36" r="1.9" fill="#fff" stroke="#0000ff" stroke-width="0.9"/>
<circle cx="60.24" cy="354.79" r="1.9" fill="#fff" stroke="#0000ff" stroke-width="0.9"/>
<circle cx="62.40" cy="347.87" r="1.9" fill="#fff" stroke="#0000ff" stroke-width="0.9"/>
<circle cx="62.40" cy="329.05" r="1.9" fill="#fff" stroke="#0000ff" stroke-width="0.9"/>
<line x1="87.30" y1="291.50" x2="87.30" y2="341.66" stroke="#000" stroke-width="1.4"/>
<line x1="87.30" y1="360.28" x2="87.30" y2="374.34" stroke="#000" stroke-width="1.4"/>
<rect x="82.50" y="341.66" width="9.60" height="18.62" fill="none" stroke="#000" stroke-width="1.4"/>
<line x1="82.50" y1="350.40" x2="92.10" y2="350.40" stroke="#000" stroke-width="1.4"/>
<circle cx="87.30" cy="374.34" r="1.9" fill="#fff" stroke="#333" stroke-width="0.9"/>
<circle cx="87.30" cy="291.50" r="1.9" fill="#fff" stroke="#333" stroke-width="0.9"/>
<circle cx="87.30" cy="372.59" r="1.9" fill="#fff" stroke="#333" stroke-width="0.9"/>
<circle cx="87.30" cy="364.16" r="1.9" fill="#fff" stroke="#333" stroke-width="0.9"/>
<circle cx="89.28" cy="360.30" r="1.9" fill="#fff" stroke="#333" stroke-width="0.9"/>
<circle cx="89.26" cy="357.53" r="1.9" fill="#fff" stroke="#333" stroke-width="0.9"/>
<circle cx="89.39" cy="360.47" r="1.9" fill="#fff" stroke="#333" stroke-width="0.9"/>
<circle cx="88.87" cy="358.72" r="1.9" fill="#fff" stroke="#333" stroke-width="0.9"/>
<circle cx="90.18" cy="357.82" r="1.9" fill="#fff" stroke="#333" stroke-width="0.9"/>
<circle cx="89.18" cy="355.85" r="1.9" fill="#fff" stroke="#333" stroke-width="0.9"/>
<circle cx="85.74" cy="351.03" r="1.9" fill="#fff" stroke="#333" stroke-width="0.9"/>
<circle cx="89.54" cy="353.58" r="1.9" fill="#fff" stroke="#333" stroke-width="0.9"/>
<circle cx="87.22" cy="349.55" r="1.9" fill="#fff" stroke="#333" stroke-width="0.9"/>
<circle cx="88.93" cy="350.37" r="1.9" fill="#fff" stroke="#333" stroke-width="0.9"/>
<circle cx="87.71" cy="348.55" r="1.9" fill="#fff" stroke="#333" stroke-width="0.9"/>
<circle cx="86.85" cy="346.35" r="1.9" fill="#fff" stroke="#333" stroke-width="0.9"/>
<circle cx="86.43" cy="342.38" r="1.9" fill="#fff" stroke="#333" stroke-width="0.9"/>
<circle cx="86.85" cy="342.61" r="1.9" fill="#fff" stroke="#333" stroke-width="0.9"/>
<circle cx="86.11" cy="345.26" r="1.9" fill="#fff" stroke="#333" stroke-width="0.9"/>
<circle cx="87.30" cy="338.74" r="1.9" fill="#fff" stroke="#333" stroke-width="0.9"/>
<circle cx="87.30" cy="325.77" r="1.9" fill="#fff" stroke="#333" stroke-width="0.9"/>
<circle cx="87.30" cy="300.98" r="1.9" fill="#fff" stroke="#333" stroke-width="0.9"/>
<line x1="102.30" y1="304.42" x2="102.30" y2="332.16" stroke="#0000ff" stroke-width="1.4"/>
<line x1="102.30" y1="355.72" x2="102.30" y2="370.16" stroke="#0000ff" stroke-width="1.4"/>
<rect x="97.50" y="332.16" width="9.60" height="23.56" fill="none" stroke="#0000ff" stroke-width="1.4"/>
<line x1="97.50" y1="346.60" x2="107.10" y2="346.60" stroke="#0000ff" stroke-width="1.4"/>
<circle cx="102.30" cy="370.16" r="1.9" fill="#fff" stroke="#0000ff" stroke-width="0.9"/>
<circle cx="102.30" cy="304.42" r="1.9" fill="#fff" stroke="#0000ff" stroke-width="0.9"/>
<circle cx="102.30" cy="368.22" r="1.9" fill="#fff" stroke="#0000ff" stroke-width="0.9"/>
<circle cx="102.30" cy="358.66" r="1.9" fill="#fff" stroke="#0000ff" stroke-width="0.9"/>
<circle cx="104.25" cy="355.18" r="1.9" fill="#fff" stroke="#0000ff" stroke-width="0.9"/>
<circle cx="103.14" cy="352.17" r="1.9" fill="#fff" stroke="#0000ff" stroke-width="0.9"/>
<circle cx="100.06" cy="354.12" r="1.9" fill="#fff" stroke="#0000ff" stroke-width="0.9"/>
<circle cx="102.63" cy="352.62" r="1.9" fill="#fff" stroke="#0000ff" stroke-width="0.9"/>
<circle cx="103.35" cy="348.52" r="1.9" fill="#fff" stroke="#0000ff" stroke-width="0.9"/>
<circle cx="100.16" cy="347.34" r="1.9" fill="#fff" stroke="#0000ff" stroke-width="0.9"/>
<circle cx="103.27" cy="347.64" r="1.9" fill="#fff" stroke="#0000ff" stroke-width="0.9"/>
<circle cx="99.89" cy="343.13" r="1.9" fill="#fff" stroke="#0000ff" stroke-width="0.9"/>
<circle cx="101.26" cy="342.15" r="1.9" fill="#fff" stroke="#0000ff" stroke-width="0.9"/>
<circle cx="99.63" cy="337.65" r="1.9" fill="#fff" stroke="#0000ff" stroke-width="0.9"/>
<circle cx="100.41" cy="338.61" r="1.9" fill="#fff" stroke="#0000ff" stroke-width="0.9"/>
<circle cx="105.36" cy="335.56" r="1.9" fill="#fff" stroke="#0000ff" stroke-width="0.9"/>
<circle cx="102.30" cy="329.55" r="1.9" fill="#fff" stroke="#0000ff" stroke-width="0.9"/>
<circle cx="102.30" cy="325.22" r="1.9" fill="#fff" stroke="#0000ff" stroke-width="0.9"/>
<circle cx="102.30" cy="313.38" r="1.9" fill="#fff" stroke="#0000ff" stroke-width="0.9"/>
<line x1="127.00" y1="320.00" x2="127.00" y2="340.29" stroke="#000" stroke-width="1.4"/>
<line x1="127.00" y1="353.59" x2="127.00" y2="361.04" stroke="#000" stroke-width="1.4"/>
<rect x="122.30" y="340.29" width="9.40" height="13.30" fill="none" stroke="#000" stroke-width="1.4"/>
<line x1="122.30" y1="347.36" x2="131.70" y2="347.36" stroke="#000" stroke-width="1.4"/>
<circle cx="127.00" cy="361.04" r="1.9" fill="#fff" stroke="#333" stroke-width="0.9"/>
<circle cx="127.00" cy="320.00" r="1.9" fill="#fff" stroke="#333" stroke-width="0.9"/>
<circle cx="127.00" cy="356.15" r="1.9" fill="#fff" stroke="#333" stroke-width="0.9"/>
<circle cx="127.00" cy="355.28" r="1.9" fill="#fff" stroke="#333" stroke-width="0.9"/>
<circle cx="125.33" cy="351.17" r="1.9" fill="#fff" stroke="#333" stroke-width="0.9"/>
<circle cx="125.96" cy="351.23" r="1.9" fill="#fff" stroke="#333" stroke-width="0.9"/>
<circle cx="128.33" cy="346.68" r="1.9" fill="#fff" stroke="#333" stroke-width="0.9"/>
<circle cx="125.60" cy="347.91" r="1.9" fill="#fff" stroke="#333" stroke-width="0.9"/>
<circle cx="125.49" cy="343.00" r="1.9" fill="#fff" stroke="#333" stroke-width="0.9"/>
<circle cx="125.26" cy="341.57" r="1.9" fill="#fff" stroke="#333" stroke-width="0.9"/>
<circle cx="127.00" cy="338.88" r="1.9" fill="#fff" stroke="#333" stroke-width="0.9"/>
<circle cx="127.00" cy="327.51" r="1.9" fill="#fff" stroke="#333" stroke-width="0.9"/>
<line x1="142.00" y1="343.71" x2="142.00" y2="352.30" stroke="#0000ff" stroke-width="1.4"/>
<line x1="142.00" y1="364.99" x2="142.00" y2="366.74" stroke="#0000ff" stroke-width="1.4"/>
<rect x="137.30" y="352.30" width="9.40" height="12.69" fill="none" stroke="#0000ff" stroke-width="1.4"/>
<line x1="137.30" y1="357.24" x2="146.70" y2="357.24" stroke="#0000ff" stroke-width="1.4"/>
<circle cx="142.00" cy="366.74" r="1.9" fill="#fff" stroke="#0000ff" stroke-width="0.9"/>
<circle cx="142.00" cy="343.71" r="1.9" fill="#fff" stroke="#0000ff" stroke-width="0.9"/>
<circle cx="142.00" cy="366.13" r="1.9" fill="#fff" stroke="#0000ff" stroke-width="0.9"/>
<circle cx="140.73" cy="364.88" r="1.9" fill="#fff" stroke="#0000ff" stroke-width="0.9"/>
<circle cx="140.94" cy="362.46" r="1.9" fill="#fff" stroke="#0000ff" stroke-width="0.9"/>
<circle cx="139.71" cy="359.87" r="1.9" fill="#fff" stroke="#0000ff" stroke-width="0.9"/>
<circle cx="143.56" cy="357.41" r="1.9" fill="#fff" stroke="#0000ff" stroke-width="0.9"/>
<circle cx="140.78" cy="355.34" r="1.9" fill="#fff" stroke="#0000ff" stroke-width="0.9"/>
<circle cx="143.85" cy="354.46" r="1.9" fill="#fff" stroke="#0000ff" stroke-width="0.9"/>
<circle cx="144.92" cy="352.15" r="1.9" fill="#fff" stroke="#0000ff" stroke-width="0.9"/>
<circle cx="142.00" cy="348.86" r="1.9" fill="#fff" stroke="#0000ff" stroke-width="0.9"/>
<text x="8.00" y="319.50" font-size="8.5" text-anchor="middle" fill="#222" stroke="#222" transform="rotate(-90 8.00 319.50)">Peak baclofen current (pA)</text>
<polyline points="46.30,277.60 46.30,274.40 62.00,274.40 62.00,277.60" fill="none" stroke="#222" stroke-width="1.0"/>
<text x="54.30" y="275.80" font-size="14" text-anchor="middle" fill="#222" stroke="#222" style="stroke-width:0.5px">***</text>
<text x="183.40" y="220.80" font-size="16.6" text-anchor="start" fill="#222" stroke="#222">B’</text>
<text x="267.30" y="222.30" font-size="10.4" text-anchor="middle" fill="#222" stroke="#222">Rat vs. human</text>
<text x="222.20" y="241.80" font-size="9.5" text-anchor="start" fill="#222" stroke="#222">F= 0.0001, <tspan font-style="italic">p</tspan>= 0.99 [layer]</text>
<text x="222.80" y="256.40" font-size="9.5" text-anchor="start" fill="#222" stroke="#222">F= 0.56, <tspan font-style="italic">p</tspan>= 0.49 [species]</text>
<line x1="222.60" y1="263.00" x2="222.60" y2="377.00" stroke="#222" stroke-width="1.2"/>
<line x1="218.40" y1="377.00" x2="222.60" y2="377.00" stroke="#222" stroke-width="1.2"/>
<text x="216.40" y="380.30" font-size="9.0" text-anchor="end" fill="#222" stroke="#222">0</text>
<line x1="218.40" y1="339.00" x2="222.60" y2="339.00" stroke="#222" stroke-width="1.2"/>
<text x="216.40" y="342.30" font-size="9.0" text-anchor="end" fill="#222" stroke="#222">100</text>
<line x1="218.40" y1="301.00" x2="222.60" y2="301.00" stroke="#222" stroke-width="1.2"/>
<text x="216.40" y="304.30" font-size="9.0" text-anchor="end" fill="#222" stroke="#222">200</text>
<line x1="218.40" y1="263.00" x2="222.60" y2="263.00" stroke="#222" stroke-width="1.2"/>
<text x="216.40" y="266.30" font-size="9.0" text-anchor="end" fill="#222" stroke="#222">300</text>
<line x1="222.00" y1="377.00" x2="305.00" y2="377.00" stroke="#222" stroke-width="1.2"/>
<line x1="241.30" y1="377.00" x2="241.30" y2="381.40" stroke="#222" stroke-width="1.2"/>
<text x="241.30" y="391.60" font-size="9.3" text-anchor="middle" fill="#222" stroke="#222">Adult rat</text>
<text x="241.30" y="402.20" font-size="9.3" text-anchor="middle" fill="#222" stroke="#222">(34,30)</text>
<line x1="285.80" y1="377.00" x2="285.80" y2="381.40" stroke="#222" stroke-width="1.2"/>
<text x="285.80" y="391.60" font-size="9.3" text-anchor="middle" fill="#222" stroke="#222">Human</text>
<text x="285.80" y="402.20" font-size="9.3" text-anchor="middle" fill="#222" stroke="#222">(34,12)</text>
<line x1="233.30" y1="292.26" x2="233.30" y2="342.04" stroke="#000" stroke-width="1.4"/>
<line x1="233.30" y1="360.66" x2="233.30" y2="373.96" stroke="#000" stroke-width="1.4"/>
<rect x="228.30" y="342.04" width="10.00" height="18.62" fill="none" stroke="#000" stroke-width="1.4"/>
<line x1="228.30" y1="350.02" x2="238.30" y2="350.02" stroke="#000" stroke-width="1.4"/>
<circle cx="233.30" cy="373.96" r="1.9" fill="#fff" stroke="#333" stroke-width="0.9"/>
<circle cx="233.30" cy="292.26" r="1.9" fill="#fff" stroke="#333" stroke-width="0.9"/>
<circle cx="233.30" cy="373.96" r="1.9" fill="#fff" stroke="#333" stroke-width="0.9"/>
<circle cx="233.30" cy="367.06" r="1.9" fill="#fff" stroke="#333" stroke-width="0.9"/>
<circle cx="233.30" cy="364.33" r="1.9" fill="#fff" stroke="#333" stroke-width="0.9"/>
<circle cx="233.30" cy="362.91" r="1.9" fill="#fff" stroke="#333" stroke-width="0.9"/>
<circle cx="233.30" cy="362.97" r="1.9" fill="#fff" stroke="#333" stroke-width="0.9"/>
<circle cx="233.00" cy="358.38" r="1.9" fill="#fff" stroke="#333" stroke-width="0.9"/>
<circle cx="233.63" cy="357.30" r="1.9" fill="#fff" stroke="#333" stroke-width="0.9"/>
<circle cx="232.29" cy="358.25" r="1.9" fill="#fff" stroke="#333" stroke-width="0.9"/>
<circle cx="233.20" cy="357.32" r="1.9" fill="#fff" stroke="#333" stroke-width="0.9"/>
<circle cx="231.30" cy="358.10" r="1.9" fill="#fff" stroke="#333" stroke-width="0.9"/>
<circle cx="230.34" cy="358.65" r="1.9" fill="#fff" stroke="#333" stroke-width="0.9"/>
<circle cx="235.64" cy="355.26" r="1.9" fill="#fff" stroke="#333" stroke-width="0.9"/>
<circle cx="231.60" cy="352.88" r="1.9" fill="#fff" stroke="#333" stroke-width="0.9"/>
<circle cx="235.09" cy="355.28" r="1.9" fill="#fff" stroke="#333" stroke-width="0.9"/>
<circle cx="231.43" cy="349.57" r="1.9" fill="#fff" stroke="#333" stroke-width="0.9"/>
<circle cx="236.30" cy="352.26" r="1.9" fill="#fff" stroke="#333" stroke-width="0.9"/>
<circle cx="235.82" cy="351.40" r="1.9" fill="#fff" stroke="#333" stroke-width="0.9"/>
<circle cx="234.93" cy="351.91" r="1.9" fill="#fff" stroke="#333" stroke-width="0.9"/>
<circle cx="234.98" cy="344.93" r="1.9" fill="#fff" stroke="#333" stroke-width="0.9"/>
<circle cx="233.82" cy="345.89" r="1.9" fill="#fff" stroke="#333" stroke-width="0.9"/>
<circle cx="234.77" cy="344.27" r="1.9" fill="#fff" stroke="#333" stroke-width="0.9"/>
<circle cx="230.88" cy="345.23" r="1.9" fill="#fff" stroke="#333" stroke-width="0.9"/>
<circle cx="233.15" cy="348.30" r="1.9" fill="#fff" stroke="#333" stroke-width="0.9"/>
<circle cx="235.39" cy="345.64" r="1.9" fill="#fff" stroke="#333" stroke-width="0.9"/>
<circle cx="231.39" cy="343.80" r="1.9" fill="#fff" stroke="#333" stroke-width="0.9"/>
<circle cx="236.01" cy="345.56" r="1.9" fill="#fff" stroke="#333" stroke-width="0.9"/>
<circle cx="233.30" cy="339.36" r="1.9" fill="#fff" stroke="#333" stroke-width="0.9"/>
<circle cx="235.78" cy="341.20" r="1.9" fill="#fff" stroke="#333" stroke-width="0.9"/>
<circle cx="233.30" cy="336.40" r="1.9" fill="#fff" stroke="#333" stroke-width="0.9"/>
<circle cx="233.30" cy="322.92" r="1.9" fill="#fff" stroke="#333" stroke-width="0.9"/>
<circle cx="233.30" cy="315.91" r="1.9" fill="#fff" stroke="#333" stroke-width="0.9"/>
<circle cx="233.30" cy="297.01" r="1.9" fill="#fff" stroke="#333" stroke-width="0.9"/>
<line x1="249.70" y1="304.80" x2="249.70" y2="343.56" stroke="#0000ff" stroke-width="1.4"/>
<line x1="249.70" y1="360.28" x2="249.70" y2="370.16" stroke="#0000ff" stroke-width="1.4"/>
<rect x="244.70" y="343.56" width="10.00" height="16.72" fill="none" stroke="#0000ff" stroke-width="1.4"/>
<line x1="244.70" y1="354.96" x2="254.70" y2="354.96" stroke="#0000ff" stroke-width="1.4"/>
<circle cx="249.70" cy="370.16" r="1.9" fill="#fff" stroke="#0000ff" stroke-width="0.9"/>
<circle cx="249.70" cy="304.80" r="1.9" fill="#fff" stroke="#0000ff" stroke-width="0.9"/>
<circle cx="249.70" cy="366.06" r="1.9" fill="#fff" stroke="#0000ff" stroke-width="0.9"/>
<circle cx="249.70" cy="367.31" r="1.9" fill="#fff" stroke="#0000ff" stroke-width="0.9"/>
<circle cx="249.70" cy="365.45" r="1.9" fill="#fff" stroke="#0000ff" stroke-width="0.9"/>
<circle cx="250.97" cy="358.54" r="1.9" fill="#fff" stroke="#0000ff" stroke-width="0.9"/>
<circle cx="249.70" cy="361.92" r="1.9" fill="#fff" stroke="#0000ff" stroke-width="0.9"/>
<circle cx="249.70" cy="361.69" r="1.9" fill="#fff" stroke="#0000ff" stroke-width="0.9"/>
<circle cx="250.42" cy="358.36" r="1.9" fill="#fff" stroke="#0000ff" stroke-width="0.9"/>
<circle cx="248.15" cy="359.40" r="1.9" fill="#fff" stroke="#0000ff" stroke-width="0.9"/>
<circle cx="252.62" cy="356.00" r="1.9" fill="#fff" stroke="#0000ff" stroke-width="0.9"/>
<circle cx="248.50" cy="358.88" r="1.9" fill="#fff" stroke="#0000ff" stroke-width="0.9"/>
<circle cx="251.50" cy="354.51" r="1.9" fill="#fff" stroke="#0000ff" stroke-width="0.9"/>
<circle cx="252.61" cy="357.30" r="1.9" fill="#fff" stroke="#0000ff" stroke-width="0.9"/>
<circle cx="250.67" cy="355.27" r="1.9" fill="#fff" stroke="#0000ff" stroke-width="0.9"/>
<circle cx="247.41" cy="352.98" r="1.9" fill="#fff" stroke="#0000ff" stroke-width="0.9"/>
<circle cx="251.78" cy="353.39" r="1.9" fill="#fff" stroke="#0000ff" stroke-width="0.9"/>
<circle cx="250.77" cy="350.95" r="1.9" fill="#fff" stroke="#0000ff" stroke-width="0.9"/>
<circle cx="247.68" cy="350.88" r="1.9" fill="#fff" stroke="#0000ff" stroke-width="0.9"/>
<circle cx="246.81" cy="353.13" r="1.9" fill="#fff" stroke="#0000ff" stroke-width="0.9"/>
<circle cx="249.90" cy="347.58" r="1.9" fill="#fff" stroke="#0000ff" stroke-width="0.9"/>
<circle cx="246.71" cy="347.91" r="1.9" fill="#fff" stroke="#0000ff" stroke-width="0.9"/>
<circle cx="252.42" cy="348.17" r="1.9" fill="#fff" stroke="#0000ff" stroke-width="0.9"/>
<circle cx="249.74" cy="347.60" r="1.9" fill="#fff" stroke="#0000ff" stroke-width="0.9"/>
<circle cx="249.81" cy="342.95" r="1.9" fill="#fff" stroke="#0000ff" stroke-width="0.9"/>
<circle cx="249.12" cy="343.15" r="1.9" fill="#fff" stroke="#0000ff" stroke-width="0.9"/>
<circle cx="249.70" cy="337.86" r="1.9" fill="#fff" stroke="#0000ff" stroke-width="0.9"/>
<circle cx="249.70" cy="331.63" r="1.9" fill="#fff" stroke="#0000ff" stroke-width="0.9"/>
<circle cx="249.70" cy="320.96" r="1.9" fill="#fff" stroke="#0000ff" stroke-width="0.9"/>
<circle cx="249.70" cy="311.14" r="1.9" fill="#fff" stroke="#0000ff" stroke-width="0.9"/>
<line x1="277.50" y1="304.80" x2="277.50" y2="343.56" stroke="#000" stroke-width="1.4"/>
<line x1="277.50" y1="367.50" x2="277.50" y2="377.00" stroke="#000" stroke-width="1.4"/>
<rect x="272.50" y="343.56" width="10.00" height="23.94" fill="none" stroke="#000" stroke-width="1.4"/>
<line x1="272.50" y1="358.00" x2="282.50" y2="358.00" stroke="#000" stroke-width="1.4"/>
<circle cx="277.50" cy="377.00" r="1.9" fill="#fff" stroke="#333" stroke-width="0.9"/>
<circle cx="277.50" cy="304.80" r="1.9" fill="#fff" stroke="#333" stroke-width="0.9"/>
<circle cx="277.50" cy="373.11" r="1.9" fill="#fff" stroke="#333" stroke-width="0.9"/>
<circle cx="277.50" cy="370.36" r="1.9" fill="#fff" stroke="#333" stroke-width="0.9"/>
<circle cx="277.33" cy="368.49" r="1.9" fill="#fff" stroke="#333" stroke-width="0.9"/>
<circle cx="277.50" cy="371.41" r="1.9" fill="#fff" stroke="#333" stroke-width="0.9"/>
<circle cx="278.89" cy="367.29" r="1.9" fill="#fff" stroke="#333" stroke-width="0.9"/>
<circle cx="278.08" cy="367.61" r="1.9" fill="#fff" stroke="#333" stroke-width="0.9"/>
<circle cx="277.16" cy="366.12" r="1.9" fill="#fff" stroke="#333" stroke-width="0.9"/>
<circle cx="278.41" cy="367.56" r="1.9" fill="#fff" stroke="#333" stroke-width="0.9"/>
<circle cx="275.46" cy="366.33" r="1.9" fill="#fff" stroke="#333" stroke-width="0.9"/>
<circle cx="275.44" cy="364.00" r="1.9" fill="#fff" stroke="#333" stroke-width="0.9"/>
<circle cx="276.37" cy="364.41" r="1.9" fill="#fff" stroke="#333" stroke-width="0.9"/>
<circle cx="279.52" cy="362.19" r="1.9" fill="#fff" stroke="#333" stroke-width="0.9"/>
<circle cx="275.55" cy="363.80" r="1.9" fill="#fff" stroke="#333" stroke-width="0.9"/>
<circle cx="275.03" cy="362.58" r="1.9" fill="#fff" stroke="#333" stroke-width="0.9"/>
<circle cx="274.93" cy="358.10" r="1.9" fill="#fff" stroke="#333" stroke-width="0.9"/>
<circle cx="274.55" cy="358.89" r="1.9" fill="#fff" stroke="#333" stroke-width="0.9"/>
<circle cx="276.06" cy="357.26" r="1.9" fill="#fff" stroke="#333" stroke-width="0.9"/>
<circle cx="277.97" cy="354.66" r="1.9" fill="#fff" stroke="#333" stroke-width="0.9"/>
<circle cx="279.55" cy="355.50" r="1.9" fill="#fff" stroke="#333" stroke-width="0.9"/>
<circle cx="276.42" cy="355.91" r="1.9" fill="#fff" stroke="#333" stroke-width="0.9"/>
<circle cx="276.67" cy="350.39" r="1.9" fill="#fff" stroke="#333" stroke-width="0.9"/>
<circle cx="276.15" cy="350.19" r="1.9" fill="#fff" stroke="#333" stroke-width="0.9"/>
<circle cx="276.25" cy="348.46" r="1.9" fill="#fff" stroke="#333" stroke-width="0.9"/>
<circle cx="279.28" cy="347.35" r="1.9" fill="#fff" stroke="#333" stroke-width="0.9"/>
<circle cx="277.81" cy="344.00" r="1.9" fill="#fff" stroke="#333" stroke-width="0.9"/>
<circle cx="275.95" cy="346.18" r="1.9" fill="#fff" stroke="#333" stroke-width="0.9"/>
<circle cx="274.99" cy="342.56" r="1.9" fill="#fff" stroke="#333" stroke-width="0.9"/>
<circle cx="279.32" cy="343.00" r="1.9" fill="#fff" stroke="#333" stroke-width="0.9"/>
<circle cx="277.50" cy="337.00" r="1.9" fill="#fff" stroke="#333" stroke-width="0.9"/>
<circle cx="277.50" cy="329.36" r="1.9" fill="#fff" stroke="#333" stroke-width="0.9"/>
<circle cx="277.50" cy="322.37" r="1.9" fill="#fff" stroke="#333" stroke-width="0.9"/>
<circle cx="277.50" cy="313.07" r="1.9" fill="#fff" stroke="#333" stroke-width="0.9"/>
<line x1="293.80" y1="308.60" x2="293.80" y2="337.10" stroke="#0000ff" stroke-width="1.4"/>
<line x1="293.80" y1="367.12" x2="293.80" y2="377.00" stroke="#0000ff" stroke-width="1.4"/>
<rect x="288.80" y="337.10" width="10.00" height="30.02" fill="none" stroke="#0000ff" stroke-width="1.4"/>
<line x1="288.80" y1="354.20" x2="298.80" y2="354.20" stroke="#0000ff" stroke-width="1.4"/>
<circle cx="293.80" cy="377.00" r="1.9" fill="#fff" stroke="#0000ff" stroke-width="0.9"/>
<circle cx="293.80" cy="308.60" r="1.9" fill="#fff" stroke="#0000ff" stroke-width="0.9"/>
<circle cx="293.80" cy="371.38" r="1.9" fill="#fff" stroke="#0000ff" stroke-width="0.9"/>
<circle cx="295.24" cy="365.38" r="1.9" fill="#fff" stroke="#0000ff" stroke-width="0.9"/>
<circle cx="295.50" cy="365.44" r="1.9" fill="#fff" stroke="#0000ff" stroke-width="0.9"/>
<circle cx="293.42" cy="357.17" r="1.9" fill="#fff" stroke="#0000ff" stroke-width="0.9"/>
<circle cx="296.14" cy="357.77" r="1.9" fill="#fff" stroke="#0000ff" stroke-width="0.9"/>
<circle cx="296.92" cy="350.75" r="1.9" fill="#fff" stroke="#0000ff" stroke-width="0.9"/>
<circle cx="291.34" cy="348.89" r="1.9" fill="#fff" stroke="#0000ff" stroke-width="0.9"/>
<circle cx="293.91" cy="340.22" r="1.9" fill="#fff" stroke="#0000ff" stroke-width="0.9"/>
<circle cx="296.73" cy="338.67" r="1.9" fill="#fff" stroke="#0000ff" stroke-width="0.9"/>
<circle cx="293.80" cy="320.32" r="1.9" fill="#fff" stroke="#0000ff" stroke-width="0.9"/>
<text x="193.60" y="319.50" font-size="8.5" text-anchor="middle" fill="#222" stroke="#222" transform="rotate(-90 193.60 319.50)">Peak baclofen current (pA)</text>
<text x="345.50" y="220.80" font-size="16.6" text-anchor="start" fill="#222" stroke="#222">C</text>
<text x="437.80" y="222.30" font-size="10.6" text-anchor="middle" fill="#222" stroke="#222">Rat (age)</text>
<text x="381.00" y="238.70" font-size="9.5" text-anchor="start" fill="#222" stroke="#222">F= 5.6, <tspan font-style="italic">p</tspan>= 0.0056 [interaction]</text>
<line x1="382.60" y1="263.00" x2="382.60" y2="377.00" stroke="#222" stroke-width="1.2"/>
<line x1="378.40" y1="377.00" x2="382.60" y2="377.00" stroke="#222" stroke-width="1.2"/>
<text x="376.40" y="380.30" font-size="9.0" text-anchor="end" fill="#222" stroke="#222">0.0</text>
<line x1="378.40" y1="339.00" x2="382.60" y2="339.00" stroke="#222" stroke-width="1.2"/>
<text x="376.40" y="342.30" font-size="9.0" text-anchor="end" fill="#222" stroke="#222">0.5</text>
<line x1="378.40" y1="301.00" x2="382.60" y2="301.00" stroke="#222" stroke-width="1.2"/>
<text x="376.40" y="304.30" font-size="9.0" text-anchor="end" fill="#222" stroke="#222">1.0</text>
<line x1="378.40" y1="263.00" x2="382.60" y2="263.00" stroke="#222" stroke-width="1.2"/>
<text x="376.40" y="266.30" font-size="9.0" text-anchor="end" fill="#222" stroke="#222">1.5</text>
<line x1="382.00" y1="377.00" x2="497.40" y2="377.00" stroke="#222" stroke-width="1.2"/>
<line x1="399.40" y1="377.00" x2="399.40" y2="381.40" stroke="#222" stroke-width="1.2"/>
<text x="399.40" y="391.60" font-size="9.3" text-anchor="middle" fill="#222" stroke="#222">1 M</text>
<text x="399.40" y="402.20" font-size="9.3" text-anchor="middle" fill="#222" stroke="#222">(10,11)</text>
<line x1="439.40" y1="377.00" x2="439.40" y2="381.40" stroke="#222" stroke-width="1.2"/>
<text x="439.40" y="391.60" font-size="9.3" text-anchor="middle" fill="#222" stroke="#222">6-8 M</text>
<text x="439.40" y="402.20" font-size="9.3" text-anchor="middle" fill="#222" stroke="#222">(22,19)</text>
<line x1="479.30" y1="377.00" x2="479.30" y2="381.40" stroke="#222" stroke-width="1.2"/>
<text x="479.30" y="391.60" font-size="9.3" text-anchor="middle" fill="#222" stroke="#222">12-14 M</text>
<text x="479.30" y="402.20" font-size="9.3" text-anchor="middle" fill="#222" stroke="#222">(12,11)</text>
<line x1="392.00" y1="293.63" x2="392.00" y2="311.03" stroke="#000" stroke-width="1.4"/>
<line x1="392.00" y1="338.39" x2="392.00" y2="349.41" stroke="#000" stroke-width="1.4"/>
<rect x="387.30" y="311.03" width="9.40" height="27.36" fill="none" stroke="#000" stroke-width="1.4"/>
<line x1="387.30" y1="326.38" x2="396.70" y2="326.38" stroke="#000" stroke-width="1.4"/>
<circle cx="392.00" cy="349.41" r="1.9" fill="#fff" stroke="#333" stroke-width="0.9"/>
<circle cx="392.00" cy="293.63" r="1.9" fill="#fff" stroke="#333" stroke-width="0.9"/>
<circle cx="392.00" cy="345.56" r="1.9" fill="#fff" stroke="#333" stroke-width="0.9"/>
<circle cx="389.74" cy="339.15" r="1.9" fill="#fff" stroke="#333" stroke-width="0.9"/>
<circle cx="393.54" cy="333.48" r="1.9" fill="#fff" stroke="#333" stroke-width="0.9"/>
<circle cx="393.04" cy="327.77" r="1.9" fill="#fff" stroke="#333" stroke-width="0.9"/>
<circle cx="389.67" cy="325.17" r="1.9" fill="#fff" stroke="#333" stroke-width="0.9"/>
<circle cx="392.23" cy="319.65" r="1.9" fill="#fff" stroke="#333" stroke-width="0.9"/>
<circle cx="391.67" cy="313.47" r="1.9" fill="#fff" stroke="#333" stroke-width="0.9"/>
<circle cx="392.00" cy="302.00" r="1.9" fill="#fff" stroke="#333" stroke-width="0.9"/>
<line x1="407.20" y1="335.58" x2="407.20" y2="343.41" stroke="#0000ff" stroke-width="1.4"/>
<line x1="407.20" y1="363.40" x2="407.20" y2="377.00" stroke="#0000ff" stroke-width="1.4"/>
<rect x="402.40" y="343.41" width="9.60" height="19.99" fill="none" stroke="#0000ff" stroke-width="1.4"/>
<line x1="402.40" y1="360.28" x2="412.00" y2="360.28" stroke="#0000ff" stroke-width="1.4"/>
<circle cx="407.20" cy="377.00" r="1.9" fill="#fff" stroke="#0000ff" stroke-width="0.9"/>
<circle cx="407.20" cy="335.58" r="1.9" fill="#fff" stroke="#0000ff" stroke-width="0.9"/>
<circle cx="407.20" cy="371.67" r="1.9" fill="#fff" stroke="#0000ff" stroke-width="0.9"/>
<circle cx="407.20" cy="364.28" r="1.9" fill="#fff" stroke="#0000ff" stroke-width="0.9"/>
<circle cx="407.35" cy="362.97" r="1.9" fill="#fff" stroke="#0000ff" stroke-width="0.9"/>
<circle cx="410.05" cy="359.97" r="1.9" fill="#fff" stroke="#0000ff" stroke-width="0.9"/>
<circle cx="409.64" cy="360.29" r="1.9" fill="#fff" stroke="#0000ff" stroke-width="0.9"/>
<circle cx="406.37" cy="354.04" r="1.9" fill="#fff" stroke="#0000ff" stroke-width="0.9"/>
<circle cx="404.00" cy="350.58" r="1.9" fill="#fff" stroke="#0000ff" stroke-width="0.9"/>
<circle cx="408.83" cy="343.71" r="1.9" fill="#fff" stroke="#0000ff" stroke-width="0.9"/>
<circle cx="407.20" cy="338.32" r="1.9" fill="#fff" stroke="#0000ff" stroke-width="0.9"/>
<line x1="432.00" y1="308.60" x2="432.00" y2="333.98" stroke="#000" stroke-width="1.4"/>
<line x1="432.00" y1="351.62" x2="432.00" y2="371.68" stroke="#000" stroke-width="1.4"/>
<rect x="427.30" y="333.98" width="9.40" height="17.63" fill="none" stroke="#000" stroke-width="1.4"/>
<line x1="427.30" y1="342.04" x2="436.70" y2="342.04" stroke="#000" stroke-width="1.4"/>
<circle cx="432.00" cy="371.68" r="1.9" fill="#fff" stroke="#333" stroke-width="0.9"/>
<circle cx="432.00" cy="308.60" r="1.9" fill="#fff" stroke="#333" stroke-width="0.9"/>
<circle cx="432.00" cy="366.55" r="1.9" fill="#fff" stroke="#333" stroke-width="0.9"/>
<circle cx="432.00" cy="358.24" r="1.9" fill="#fff" stroke="#333" stroke-width="0.9"/>
<circle cx="432.69" cy="351.78" r="1.9" fill="#fff" stroke="#333" stroke-width="0.9"/>
<circle cx="433.51" cy="352.32" r="1.9" fill="#fff" stroke="#333" stroke-width="0.9"/>
<circle cx="431.53" cy="349.02" r="1.9" fill="#fff" stroke="#333" stroke-width="0.9"/>
<circle cx="434.22" cy="346.40" r="1.9" fill="#fff" stroke="#333" stroke-width="0.9"/>
<circle cx="434.74" cy="344.91" r="1.9" fill="#fff" stroke="#333" stroke-width="0.9"/>
<circle cx="432.36" cy="347.14" r="1.9" fill="#fff" stroke="#333" stroke-width="0.9"/>
<circle cx="433.16" cy="343.39" r="1.9" fill="#fff" stroke="#333" stroke-width="0.9"/>
<circle cx="429.55" cy="342.15" r="1.9" fill="#fff" stroke="#333" stroke-width="0.9"/>
<circle cx="429.16" cy="341.43" r="1.9" fill="#fff" stroke="#333" stroke-width="0.9"/>
<circle cx="435.07" cy="337.91" r="1.9" fill="#fff" stroke="#333" stroke-width="0.9"/>
<circle cx="430.62" cy="338.94" r="1.9" fill="#fff" stroke="#333" stroke-width="0.9"/>
<circle cx="430.17" cy="338.17" r="1.9" fill="#fff" stroke="#333" stroke-width="0.9"/>
<circle cx="434.54" cy="334.47" r="1.9" fill="#fff" stroke="#333" stroke-width="0.9"/>
<circle cx="433.60" cy="334.84" r="1.9" fill="#fff" stroke="#333" stroke-width="0.9"/>
<circle cx="429.59" cy="335.34" r="1.9" fill="#fff" stroke="#333" stroke-width="0.9"/>
<circle cx="432.00" cy="332.72" r="1.9" fill="#fff" stroke="#333" stroke-width="0.9"/>
<circle cx="432.00" cy="324.78" r="1.9" fill="#fff" stroke="#333" stroke-width="0.9"/>
<circle cx="432.00" cy="316.90" r="1.9" fill="#fff" stroke="#333" stroke-width="0.9"/>
<line x1="447.20" y1="301.76" x2="447.20" y2="337.40" stroke="#0000ff" stroke-width="1.4"/>
<line x1="447.20" y1="359.98" x2="447.20" y2="371.98" stroke="#0000ff" stroke-width="1.4"/>
<rect x="442.40" y="337.40" width="9.60" height="22.57" fill="none" stroke="#0000ff" stroke-width="1.4"/>
<line x1="442.40" y1="356.02" x2="452.00" y2="356.02" stroke="#0000ff" stroke-width="1.4"/>
<circle cx="447.20" cy="371.98" r="1.9" fill="#fff" stroke="#0000ff" stroke-width="0.9"/>
<circle cx="447.20" cy="301.76" r="1.9" fill="#fff" stroke="#0000ff" stroke-width="0.9"/>
<circle cx="447.20" cy="368.49" r="1.9" fill="#fff" stroke="#0000ff" stroke-width="0.9"/>
<circle cx="447.20" cy="362.82" r="1.9" fill="#fff" stroke="#0000ff" stroke-width="0.9"/>
<circle cx="444.39" cy="358.26" r="1.9" fill="#fff" stroke="#0000ff" stroke-width="0.9"/>
<circle cx="445.63" cy="357.20" r="1.9" fill="#fff" stroke="#0000ff" stroke-width="0.9"/>
<circle cx="447.53" cy="356.61" r="1.9" fill="#fff" stroke="#0000ff" stroke-width="0.9"/>
<circle cx="449.37" cy="358.84" r="1.9" fill="#fff" stroke="#0000ff" stroke-width="0.9"/>
<circle cx="449.12" cy="354.87" r="1.9" fill="#fff" stroke="#0000ff" stroke-width="0.9"/>
<circle cx="449.98" cy="357.13" r="1.9" fill="#fff" stroke="#0000ff" stroke-width="0.9"/>
<circle cx="447.77" cy="357.11" r="1.9" fill="#fff" stroke="#0000ff" stroke-width="0.9"/>
<circle cx="448.07" cy="355.08" r="1.9" fill="#fff" stroke="#0000ff" stroke-width="0.9"/>
<circle cx="445.87" cy="349.52" r="1.9" fill="#fff" stroke="#0000ff" stroke-width="0.9"/>
<circle cx="446.01" cy="348.30" r="1.9" fill="#fff" stroke="#0000ff" stroke-width="0.9"/>
<circle cx="445.32" cy="344.41" r="1.9" fill="#fff" stroke="#0000ff" stroke-width="0.9"/>
<circle cx="447.43" cy="339.30" r="1.9" fill="#fff" stroke="#0000ff" stroke-width="0.9"/>
<circle cx="447.20" cy="335.21" r="1.9" fill="#fff" stroke="#0000ff" stroke-width="0.9"/>
<circle cx="447.20" cy="326.10" r="1.9" fill="#fff" stroke="#0000ff" stroke-width="0.9"/>
<circle cx="447.20" cy="313.97" r="1.9" fill="#fff" stroke="#0000ff" stroke-width="0.9"/>
<line x1="471.60" y1="287.32" x2="471.60" y2="333.00" stroke="#000" stroke-width="1.4"/>
<line x1="471.60" y1="359.60" x2="471.60" y2="369.02" stroke="#000" stroke-width="1.4"/>
<rect x="466.90" y="333.00" width="9.40" height="26.60" fill="none" stroke="#000" stroke-width="1.4"/>
<line x1="466.90" y1="344.02" x2="476.30" y2="344.02" stroke="#000" stroke-width="1.4"/>
<circle cx="471.60" cy="369.02" r="1.9" fill="#fff" stroke="#333" stroke-width="0.9"/>
<circle cx="471.60" cy="287.32" r="1.9" fill="#fff" stroke="#333" stroke-width="0.9"/>
<circle cx="471.60" cy="364.45" r="1.9" fill="#fff" stroke="#333" stroke-width="0.9"/>
<circle cx="470.15" cy="358.07" r="1.9" fill="#fff" stroke="#333" stroke-width="0.9"/>
<circle cx="470.75" cy="353.86" r="1.9" fill="#fff" stroke="#333" stroke-width="0.9"/>
<circle cx="472.99" cy="348.50" r="1.9" fill="#fff" stroke="#333" stroke-width="0.9"/>
<circle cx="472.15" cy="347.71" r="1.9" fill="#fff" stroke="#333" stroke-width="0.9"/>
<circle cx="473.20" cy="339.35" r="1.9" fill="#fff" stroke="#333" stroke-width="0.9"/>
<circle cx="470.73" cy="338.72" r="1.9" fill="#fff" stroke="#333" stroke-width="0.9"/>
<circle cx="474.51" cy="334.30" r="1.9" fill="#fff" stroke="#333" stroke-width="0.9"/>
<circle cx="471.60" cy="330.79" r="1.9" fill="#fff" stroke="#333" stroke-width="0.9"/>
<circle cx="471.60" cy="305.11" r="1.9" fill="#fff" stroke="#333" stroke-width="0.9"/>
<line x1="486.80" y1="310.58" x2="486.80" y2="330.41" stroke="#0000ff" stroke-width="1.4"/>
<line x1="486.80" y1="359.98" x2="486.80" y2="367.12" stroke="#0000ff" stroke-width="1.4"/>
<rect x="482.00" y="330.41" width="9.60" height="29.56" fill="none" stroke="#0000ff" stroke-width="1.4"/>
<line x1="482.00" y1="349.03" x2="491.60" y2="349.03" stroke="#0000ff" stroke-width="1.4"/>
<circle cx="486.80" cy="367.12" r="1.9" fill="#fff" stroke="#0000ff" stroke-width="0.9"/>
<circle cx="486.80" cy="310.58" r="1.9" fill="#fff" stroke="#0000ff" stroke-width="0.9"/>
<circle cx="486.80" cy="364.36" r="1.9" fill="#fff" stroke="#0000ff" stroke-width="0.9"/>
<circle cx="488.27" cy="357.58" r="1.9" fill="#fff" stroke="#0000ff" stroke-width="0.9"/>
<circle cx="486.37" cy="354.11" r="1.9" fill="#fff" stroke="#0000ff" stroke-width="0.9"/>
<circle cx="487.18" cy="350.72" r="1.9" fill="#fff" stroke="#0000ff" stroke-width="0.9"/>
<circle cx="487.07" cy="347.72" r="1.9" fill="#fff" stroke="#0000ff" stroke-width="0.9"/>
<circle cx="487.29" cy="341.25" r="1.9" fill="#fff" stroke="#0000ff" stroke-width="0.9"/>
<circle cx="488.89" cy="339.12" r="1.9" fill="#fff" stroke="#0000ff" stroke-width="0.9"/>
<circle cx="489.88" cy="330.20" r="1.9" fill="#fff" stroke="#0000ff" stroke-width="0.9"/>
<circle cx="486.80" cy="321.53" r="1.9" fill="#fff" stroke="#0000ff" stroke-width="0.9"/>
<text x="357.60" y="318.90" font-size="8.5" text-anchor="middle" fill="#222" stroke="#222" transform="rotate(-90 357.60 318.90)">Peak baclofen density (pA/pF)</text>
<polyline points="392.00,277.60 392.00,274.40 407.60,274.40 407.60,277.60" fill="none" stroke="#222" stroke-width="1.0"/>
<text x="399.80" y="275.80" font-size="14" text-anchor="middle" fill="#222" stroke="#222" style="stroke-width:0.5px">***</text>
<text x="538.50" y="220.80" font-size="16.6" text-anchor="start" fill="#222" stroke="#222">C’</text>
<text x="613.80" y="222.30" font-size="10.4" text-anchor="middle" fill="#222" stroke="#222">Rat vs. human</text>
<text x="573.90" y="241.80" font-size="9.5" text-anchor="start" fill="#222" stroke="#222">F= 0.17, <tspan font-style="italic">p</tspan>= 0.68 [layer]</text>
<text x="573.90" y="256.40" font-size="9.5" text-anchor="start" fill="#222" stroke="#222">F= 3.22, <tspan font-style="italic">p</tspan>= 0.08 [species]</text>
<line x1="575.00" y1="263.00" x2="575.00" y2="377.00" stroke="#222" stroke-width="1.2"/>
<line x1="570.80" y1="377.00" x2="575.00" y2="377.00" stroke="#222" stroke-width="1.2"/>
<text x="568.80" y="380.30" font-size="9.0" text-anchor="end" fill="#222" stroke="#222">0.0</text>
<line x1="570.80" y1="339.00" x2="575.00" y2="339.00" stroke="#222" stroke-width="1.2"/>
<text x="568.80" y="342.30" font-size="9.0" text-anchor="end" fill="#222" stroke="#222">0.5</text>
<line x1="570.80" y1="301.00" x2="575.00" y2="301.00" stroke="#222" stroke-width="1.2"/>
<text x="568.80" y="304.30" font-size="9.0" text-anchor="end" fill="#222" stroke="#222">1.0</text>
<line x1="570.80" y1="263.00" x2="575.00" y2="263.00" stroke="#222" stroke-width="1.2"/>
<text x="568.80" y="266.30" font-size="9.0" text-anchor="end" fill="#222" stroke="#222">1.5</text>
<line x1="574.40" y1="377.00" x2="658.00" y2="377.00" stroke="#222" stroke-width="1.2"/>
<line x1="594.50" y1="377.00" x2="594.50" y2="381.40" stroke="#222" stroke-width="1.2"/>
<text x="594.50" y="391.60" font-size="9.3" text-anchor="middle" fill="#222" stroke="#222">Adult rat</text>
<text x="594.50" y="402.20" font-size="9.3" text-anchor="middle" fill="#222" stroke="#222">(34,30)</text>
<line x1="638.75" y1="377.00" x2="638.75" y2="381.40" stroke="#222" stroke-width="1.2"/>
<text x="638.75" y="391.60" font-size="9.3" text-anchor="middle" fill="#222" stroke="#222">Human</text>
<text x="638.75" y="402.20" font-size="9.3" text-anchor="middle" fill="#222" stroke="#222">(34,12)</text>
<line x1="586.75" y1="287.32" x2="586.75" y2="333.76" stroke="#000" stroke-width="1.4"/>
<line x1="586.75" y1="353.74" x2="586.75" y2="372.44" stroke="#000" stroke-width="1.4"/>
<rect x="581.75" y="333.76" width="10.00" height="19.99" fill="none" stroke="#000" stroke-width="1.4"/>
<line x1="581.75" y1="345.08" x2="591.75" y2="345.08" stroke="#000" stroke-width="1.4"/>
<circle cx="586.75" cy="372.44" r="1.9" fill="#fff" stroke="#333" stroke-width="0.9"/>
<circle cx="586.75" cy="287.32" r="1.9" fill="#fff" stroke="#333" stroke-width="0.9"/>
<circle cx="586.75" cy="370.42" r="1.9" fill="#fff" stroke="#333" stroke-width="0.9"/>
<circle cx="586.75" cy="366.31" r="1.9" fill="#fff" stroke="#333" stroke-width="0.9"/>
<circle cx="586.75" cy="362.42" r="1.9" fill="#fff" stroke="#333" stroke-width="0.9"/>
<circle cx="587.96" cy="353.89" r="1.9" fill="#fff" stroke="#333" stroke-width="0.9"/>
<circle cx="589.82" cy="353.85" r="1.9" fill="#fff" stroke="#333" stroke-width="0.9"/>
<circle cx="583.89" cy="352.15" r="1.9" fill="#fff" stroke="#333" stroke-width="0.9"/>
<circle cx="585.58" cy="352.28" r="1.9" fill="#fff" stroke="#333" stroke-width="0.9"/>
<circle cx="587.52" cy="352.64" r="1.9" fill="#fff" stroke="#333" stroke-width="0.9"/>
<circle cx="587.44" cy="349.48" r="1.9" fill="#fff" stroke="#333" stroke-width="0.9"/>
<circle cx="584.72" cy="349.74" r="1.9" fill="#fff" stroke="#333" stroke-width="0.9"/>
<circle cx="589.23" cy="347.54" r="1.9" fill="#fff" stroke="#333" stroke-width="0.9"/>
<circle cx="588.97" cy="347.56" r="1.9" fill="#fff" stroke="#333" stroke-width="0.9"/>
<circle cx="585.48" cy="345.56" r="1.9" fill="#fff" stroke="#333" stroke-width="0.9"/>
<circle cx="584.48" cy="347.48" r="1.9" fill="#fff" stroke="#333" stroke-width="0.9"/>
<circle cx="587.82" cy="348.62" r="1.9" fill="#fff" stroke="#333" stroke-width="0.9"/>
<circle cx="586.16" cy="347.86" r="1.9" fill="#fff" stroke="#333" stroke-width="0.9"/>
<circle cx="587.80" cy="343.04" r="1.9" fill="#fff" stroke="#333" stroke-width="0.9"/>
<circle cx="586.71" cy="345.78" r="1.9" fill="#fff" stroke="#333" stroke-width="0.9"/>
<circle cx="586.08" cy="341.42" r="1.9" fill="#fff" stroke="#333" stroke-width="0.9"/>
<circle cx="583.69" cy="340.61" r="1.9" fill="#fff" stroke="#333" stroke-width="0.9"/>
<circle cx="584.41" cy="343.40" r="1.9" fill="#fff" stroke="#333" stroke-width="0.9"/>
<circle cx="586.48" cy="337.42" r="1.9" fill="#fff" stroke="#333" stroke-width="0.9"/>
<circle cx="588.21" cy="341.49" r="1.9" fill="#fff" stroke="#333" stroke-width="0.9"/>
<circle cx="586.27" cy="334.78" r="1.9" fill="#fff" stroke="#333" stroke-width="0.9"/>
<circle cx="588.31" cy="333.91" r="1.9" fill="#fff" stroke="#333" stroke-width="0.9"/>
<circle cx="587.00" cy="337.13" r="1.9" fill="#fff" stroke="#333" stroke-width="0.9"/>
<circle cx="589.18" cy="332.61" r="1.9" fill="#fff" stroke="#333" stroke-width="0.9"/>
<circle cx="586.75" cy="330.59" r="1.9" fill="#fff" stroke="#333" stroke-width="0.9"/>
<circle cx="586.75" cy="328.94" r="1.9" fill="#fff" stroke="#333" stroke-width="0.9"/>
<circle cx="586.75" cy="316.70" r="1.9" fill="#fff" stroke="#333" stroke-width="0.9"/>
<circle cx="586.75" cy="309.65" r="1.9" fill="#fff" stroke="#333" stroke-width="0.9"/>
<circle cx="586.75" cy="291.55" r="1.9" fill="#fff" stroke="#333" stroke-width="0.9"/>
<line x1="602.70" y1="301.99" x2="602.70" y2="336.26" stroke="#0000ff" stroke-width="1.4"/>
<line x1="602.70" y1="359.98" x2="602.70" y2="371.22" stroke="#0000ff" stroke-width="1.4"/>
<rect x="597.50" y="336.26" width="10.40" height="23.71" fill="none" stroke="#0000ff" stroke-width="1.4"/>
<line x1="597.50" y1="352.00" x2="607.90" y2="352.00" stroke="#0000ff" stroke-width="1.4"/>
<circle cx="602.70" cy="371.22" r="1.9" fill="#fff" stroke="#0000ff" stroke-width="0.9"/>
<circle cx="602.70" cy="301.99" r="1.9" fill="#fff" stroke="#0000ff" stroke-width="0.9"/>
<circle cx="602.70" cy="368.51" r="1.9" fill="#fff" stroke="#0000ff" stroke-width="0.9"/>
<circle cx="602.70" cy="368.47" r="1.9" fill="#fff" stroke="#0000ff" stroke-width="0.9"/>
<circle cx="602.70" cy="364.27" r="1.9" fill="#fff" stroke="#0000ff" stroke-width="0.9"/>
<circle cx="602.70" cy="362.50" r="1.9" fill="#fff" stroke="#0000ff" stroke-width="0.9"/>
<circle cx="604.92" cy="358.65" r="1.9" fill="#fff" stroke="#0000ff" stroke-width="0.9"/>
<circle cx="603.36" cy="358.14" r="1.9" fill="#fff" stroke="#0000ff" stroke-width="0.9"/>
<circle cx="604.67" cy="356.11" r="1.9" fill="#fff" stroke="#0000ff" stroke-width="0.9"/>
<circle cx="604.17" cy="359.73" r="1.9" fill="#fff" stroke="#0000ff" stroke-width="0.9"/>
<circle cx="602.93" cy="357.04" r="1.9" fill="#fff" stroke="#0000ff" stroke-width="0.9"/>
<circle cx="605.73" cy="358.37" r="1.9" fill="#fff" stroke="#0000ff" stroke-width="0.9"/>
<circle cx="601.92" cy="356.49" r="1.9" fill="#fff" stroke="#0000ff" stroke-width="0.9"/>
<circle cx="603.03" cy="354.06" r="1.9" fill="#fff" stroke="#0000ff" stroke-width="0.9"/>
<circle cx="604.81" cy="355.88" r="1.9" fill="#fff" stroke="#0000ff" stroke-width="0.9"/>
<circle cx="603.46" cy="354.08" r="1.9" fill="#fff" stroke="#0000ff" stroke-width="0.9"/>
<circle cx="605.01" cy="350.34" r="1.9" fill="#fff" stroke="#0000ff" stroke-width="0.9"/>
<circle cx="603.20" cy="349.27" r="1.9" fill="#fff" stroke="#0000ff" stroke-width="0.9"/>
<circle cx="604.01" cy="349.41" r="1.9" fill="#fff" stroke="#0000ff" stroke-width="0.9"/>
<circle cx="599.79" cy="345.72" r="1.9" fill="#fff" stroke="#0000ff" stroke-width="0.9"/>
<circle cx="600.96" cy="342.85" r="1.9" fill="#fff" stroke="#0000ff" stroke-width="0.9"/>
<circle cx="601.35" cy="345.64" r="1.9" fill="#fff" stroke="#0000ff" stroke-width="0.9"/>
<circle cx="600.01" cy="339.56" r="1.9" fill="#fff" stroke="#0000ff" stroke-width="0.9"/>
<circle cx="600.99" cy="338.50" r="1.9" fill="#fff" stroke="#0000ff" stroke-width="0.9"/>
<circle cx="600.15" cy="338.83" r="1.9" fill="#fff" stroke="#0000ff" stroke-width="0.9"/>
<circle cx="601.28" cy="338.21" r="1.9" fill="#fff" stroke="#0000ff" stroke-width="0.9"/>
<circle cx="602.70" cy="330.72" r="1.9" fill="#fff" stroke="#0000ff" stroke-width="0.9"/>
<circle cx="602.70" cy="327.89" r="1.9" fill="#fff" stroke="#0000ff" stroke-width="0.9"/>
<circle cx="602.70" cy="320.67" r="1.9" fill="#fff" stroke="#0000ff" stroke-width="0.9"/>
<circle cx="602.70" cy="310.13" r="1.9" fill="#fff" stroke="#0000ff" stroke-width="0.9"/>
<line x1="630.40" y1="315.44" x2="630.40" y2="342.04" stroke="#000" stroke-width="1.4"/>
<line x1="630.40" y1="362.03" x2="630.40" y2="373.73" stroke="#000" stroke-width="1.4"/>
<rect x="625.10" y="342.04" width="10.60" height="19.99" fill="none" stroke="#000" stroke-width="1.4"/>
<line x1="625.10" y1="352.68" x2="635.70" y2="352.68" stroke="#000" stroke-width="1.4"/>
<circle cx="630.40" cy="373.73" r="1.9" fill="#fff" stroke="#333" stroke-width="0.9"/>
<circle cx="630.40" cy="315.44" r="1.9" fill="#fff" stroke="#333" stroke-width="0.9"/>
<circle cx="630.40" cy="373.73" r="1.9" fill="#fff" stroke="#333" stroke-width="0.9"/>
<circle cx="630.40" cy="367.83" r="1.9" fill="#fff" stroke="#333" stroke-width="0.9"/>
<circle cx="630.40" cy="367.70" r="1.9" fill="#fff" stroke="#333" stroke-width="0.9"/>
<circle cx="630.40" cy="364.06" r="1.9" fill="#fff" stroke="#333" stroke-width="0.9"/>
<circle cx="632.89" cy="361.63" r="1.9" fill="#fff" stroke="#333" stroke-width="0.9"/>
<circle cx="630.54" cy="360.34" r="1.9" fill="#fff" stroke="#333" stroke-width="0.9"/>
<circle cx="627.86" cy="361.06" r="1.9" fill="#fff" stroke="#333" stroke-width="0.9"/>
<circle cx="632.68" cy="359.99" r="1.9" fill="#fff" stroke="#333" stroke-width="0.9"/>
<circle cx="630.94" cy="361.37" r="1.9" fill="#fff" stroke="#333" stroke-width="0.9"/>
<circle cx="633.17" cy="358.58" r="1.9" fill="#fff" stroke="#333" stroke-width="0.9"/>
<circle cx="631.55" cy="358.00" r="1.9" fill="#fff" stroke="#333" stroke-width="0.9"/>
<circle cx="627.80" cy="354.90" r="1.9" fill="#fff" stroke="#333" stroke-width="0.9"/>
<circle cx="631.19" cy="355.47" r="1.9" fill="#fff" stroke="#333" stroke-width="0.9"/>
<circle cx="632.24" cy="353.64" r="1.9" fill="#fff" stroke="#333" stroke-width="0.9"/>
<circle cx="632.95" cy="354.28" r="1.9" fill="#fff" stroke="#333" stroke-width="0.9"/>
<circle cx="629.32" cy="354.62" r="1.9" fill="#fff" stroke="#333" stroke-width="0.9"/>
<circle cx="630.58" cy="350.55" r="1.9" fill="#fff" stroke="#333" stroke-width="0.9"/>
<circle cx="631.69" cy="349.72" r="1.9" fill="#fff" stroke="#333" stroke-width="0.9"/>
<circle cx="628.27" cy="350.81" r="1.9" fill="#fff" stroke="#333" stroke-width="0.9"/>
<circle cx="632.63" cy="351.14" r="1.9" fill="#fff" stroke="#333" stroke-width="0.9"/>
<circle cx="632.20" cy="348.22" r="1.9" fill="#fff" stroke="#333" stroke-width="0.9"/>
<circle cx="627.52" cy="347.32" r="1.9" fill="#fff" stroke="#333" stroke-width="0.9"/>
<circle cx="630.99" cy="345.05" r="1.9" fill="#fff" stroke="#333" stroke-width="0.9"/>
<circle cx="629.56" cy="344.89" r="1.9" fill="#fff" stroke="#333" stroke-width="0.9"/>
<circle cx="628.39" cy="344.34" r="1.9" fill="#fff" stroke="#333" stroke-width="0.9"/>
<circle cx="631.07" cy="343.04" r="1.9" fill="#fff" stroke="#333" stroke-width="0.9"/>
<circle cx="633.40" cy="342.99" r="1.9" fill="#fff" stroke="#333" stroke-width="0.9"/>
<circle cx="630.73" cy="343.24" r="1.9" fill="#fff" stroke="#333" stroke-width="0.9"/>
<circle cx="630.40" cy="339.87" r="1.9" fill="#fff" stroke="#333" stroke-width="0.9"/>
<circle cx="630.40" cy="330.87" r="1.9" fill="#fff" stroke="#333" stroke-width="0.9"/>
<circle cx="630.40" cy="325.18" r="1.9" fill="#fff" stroke="#333" stroke-width="0.9"/>
<circle cx="630.40" cy="320.42" r="1.9" fill="#fff" stroke="#333" stroke-width="0.9"/>
<line x1="647.10" y1="298.72" x2="647.10" y2="334.97" stroke="#0000ff" stroke-width="1.4"/>
<line x1="647.10" y1="363.78" x2="647.10" y2="373.28" stroke="#0000ff" stroke-width="1.4"/>
<rect x="641.80" y="334.97" width="10.60" height="28.80" fill="none" stroke="#0000ff" stroke-width="1.4"/>
<line x1="641.80" y1="350.02" x2="652.40" y2="350.02" stroke="#0000ff" stroke-width="1.4"/>
<circle cx="647.10" cy="373.28" r="1.9" fill="#fff" stroke="#0000ff" stroke-width="0.9"/>
<circle cx="647.10" cy="298.72" r="1.9" fill="#fff" stroke="#0000ff" stroke-width="0.9"/>
<circle cx="647.10" cy="369.54" r="1.9" fill="#fff" stroke="#0000ff" stroke-width="0.9"/>
<circle cx="650.23" cy="363.64" r="1.9" fill="#fff" stroke="#0000ff" stroke-width="0.9"/>
<circle cx="648.34" cy="357.98" r="1.9" fill="#fff" stroke="#0000ff" stroke-width="0.9"/>
<circle cx="646.32" cy="358.02" r="1.9" fill="#fff" stroke="#0000ff" stroke-width="0.9"/>
<circle cx="646.49" cy="353.68" r="1.9" fill="#fff" stroke="#0000ff" stroke-width="0.9"/>
<circle cx="648.32" cy="350.62" r="1.9" fill="#fff" stroke="#0000ff" stroke-width="0.9"/>
<circle cx="645.99" cy="345.67" r="1.9" fill="#fff" stroke="#0000ff" stroke-width="0.9"/>
<circle cx="644.37" cy="341.89" r="1.9" fill="#fff" stroke="#0000ff" stroke-width="0.9"/>
<circle cx="649.29" cy="336.59" r="1.9" fill="#fff" stroke="#0000ff" stroke-width="0.9"/>
<circle cx="647.10" cy="314.98" r="1.9" fill="#fff" stroke="#0000ff" stroke-width="0.9"/>
<text x="550.00" y="318.90" font-size="8.5" text-anchor="middle" fill="#222" stroke="#222" transform="rotate(-90 550.00 318.90)">Peak baclofen density (pA/pF)</text>
<text x="1.20" y="424.80" font-size="16.6" text-anchor="start" fill="#222" stroke="#222">D</text>
<text x="88.00" y="426.10" font-size="10.6" text-anchor="middle" fill="#222" stroke="#222">Rat</text>
<line x1="36.70" y1="451.10" x2="36.70" y2="565.70" stroke="#222" stroke-width="1.2"/>
<line x1="32.10" y1="565.70" x2="36.70" y2="565.70" stroke="#222" stroke-width="1.2"/>
<text x="30.10" y="569.00" font-size="9.2" text-anchor="end" fill="#222" stroke="#222">0.0</text>
<line x1="32.10" y1="527.50" x2="36.70" y2="527.50" stroke="#222" stroke-width="1.2"/>
<text x="30.10" y="530.80" font-size="9.2" text-anchor="end" fill="#222" stroke="#222">0.5</text>
<line x1="32.10" y1="489.30" x2="36.70" y2="489.30" stroke="#222" stroke-width="1.2"/>
<text x="30.10" y="492.60" font-size="9.2" text-anchor="end" fill="#222" stroke="#222">1.0</text>
<line x1="32.10" y1="451.10" x2="36.70" y2="451.10" stroke="#222" stroke-width="1.2"/>
<text x="30.10" y="454.40" font-size="9.2" text-anchor="end" fill="#222" stroke="#222">1.5</text>
<line x1="36.10" y1="565.70" x2="141.60" y2="565.70" stroke="#222" stroke-width="1.2"/>
<line x1="36.70" y1="565.70" x2="36.70" y2="570.30" stroke="#222" stroke-width="1.2"/>
<text x="36.70" y="579.40" font-size="9.2" text-anchor="middle" fill="#222" stroke="#222">0</text>
<line x1="71.30" y1="565.70" x2="71.30" y2="570.30" stroke="#222" stroke-width="1.2"/>
<text x="71.30" y="579.40" font-size="9.2" text-anchor="middle" fill="#222" stroke="#222">5</text>
<line x1="105.90" y1="565.70" x2="105.90" y2="570.30" stroke="#222" stroke-width="1.2"/>
<text x="105.90" y="579.40" font-size="9.2" text-anchor="middle" fill="#222" stroke="#222">10</text>
<line x1="140.50" y1="565.70" x2="140.50" y2="570.30" stroke="#222" stroke-width="1.2"/>
<text x="140.50" y="579.40" font-size="9.2" text-anchor="middle" fill="#222" stroke="#222">15</text>
<text x="89.00" y="593.50" font-size="9.6" text-anchor="middle" fill="#222" stroke="#222">Age (months)</text>
<text x="13.20" y="507.80" font-size="9.5" text-anchor="middle" fill="#222" stroke="#222" transform="rotate(-90 13.20 507.80)">Baclofen current density (pA/pF)</text>
<text x="39.40" y="457.00" font-size="7.9" text-anchor="start" fill="#222" stroke="#222">L2/3: R<tspan font-size="5.5" dy="-3">2</tspan><tspan dy="3">= 0.12; p=0.025</tspan></text>
<text x="39.40" y="466.80" font-size="7.9" text-anchor="start" fill="#0000ff" stroke="#0000ff">L5:</text>
<text x="59.10" y="466.80" font-size="7.9" text-anchor="start" fill="#0000ff" stroke="#0000ff">R<tspan font-size="5.5" dy="-3">2</tspan><tspan dy="3">= 0.09; p=0.051</tspan></text>
<polyline points="42.72,504.96 45.90,506.42 49.07,507.82 52.25,509.17 55.43,510.46 58.60,511.70 61.78,512.88 64.95,514.01 68.13,515.08 71.31,516.10 74.48,517.07 77.66,517.98 80.84,518.84 84.01,519.64 87.19,520.39 90.36,521.09 93.54,521.73 96.72,522.31 99.89,522.84 103.07,523.32 106.25,523.74 109.42,524.11 112.60,524.43 115.77,524.68 118.95,524.89 122.13,525.04 125.30,525.14 128.48,525.18 131.66,525.17 134.83,525.10 138.01,524.98" fill="none" stroke="#8c8c8c" stroke-width="0.85" stroke-dasharray="1.5,1.5"/>
<polyline points="42.72,526.74 45.90,526.64 49.07,526.59 52.25,526.59 55.43,526.64 58.60,526.73 61.78,526.87 64.95,527.06 68.13,527.29 71.31,527.57 74.48,527.90 77.66,528.28 80.84,528.70 84.01,529.17 87.19,529.68 90.36,530.24 93.54,530.85 96.72,531.51 99.89,532.21 103.07,532.96 106.25,533.76 109.42,534.60 112.60,535.49 115.77,536.43 118.95,537.42 122.13,538.45 125.30,539.53 128.48,540.65 131.66,541.82 134.83,543.04 138.01,544.31" fill="none" stroke="#8c8c8c" stroke-width="0.85" stroke-dasharray="1.5,1.5"/>
<polyline points="42.72,536.67 45.90,536.73 49.07,536.76 52.25,536.74 55.43,536.69 58.60,536.60 61.78,536.47 64.95,536.30 68.13,536.09 71.31,535.85 74.48,535.56 77.66,535.24 80.84,534.88 84.01,534.47 87.19,534.03 90.36,533.55 93.54,533.03 96.72,532.48 99.89,531.88 103.07,531.25 106.25,530.57 109.42,529.86 112.60,529.11 115.77,528.32 118.95,527.49 122.13,526.62 125.30,525.71 128.48,524.76 131.66,523.78 134.83,522.76 138.01,521.69" fill="none" stroke="#8c8c8c" stroke-width="0.85" stroke-dasharray="1.5,1.5"/>
<polyline points="42.72,554.24 45.90,553.20 49.07,552.19 52.25,551.23 55.43,550.31 58.60,549.42 61.78,548.57 64.95,547.77 68.13,547.00 71.31,546.27 74.48,545.58 77.66,544.93 80.84,544.32 84.01,543.75 87.19,543.22 90.36,542.72 93.54,542.27 96.72,541.85 99.89,541.48 103.07,541.14 106.25,540.84 109.42,540.59 112.60,540.37 115.77,540.19 118.95,540.05 122.13,539.95 125.30,539.89 128.48,539.86 131.66,539.88 134.83,539.93 138.01,540.03" fill="none" stroke="#8c8c8c" stroke-width="0.85" stroke-dasharray="1.5,1.5"/>
<circle cx="43.97" cy="482.50" r="2.25" fill="#000"/>
<circle cx="42.72" cy="491.29" r="2.25" fill="#000"/>
<circle cx="44.31" cy="501.98" r="2.25" fill="#000"/>
<circle cx="43.48" cy="505.34" r="2.25" fill="#000"/>
<circle cx="43.48" cy="509.47" r="2.25" fill="#000"/>
<circle cx="42.72" cy="519.71" r="2.25" fill="#000"/>
<circle cx="43.48" cy="526.74" r="2.25" fill="#000"/>
<circle cx="42.72" cy="533.00" r="2.25" fill="#000"/>
<circle cx="42.72" cy="538.35" r="2.25" fill="#000"/>
<circle cx="42.72" cy="522.92" r="2.25" fill="#000"/>
<circle cx="77.67" cy="503.36" r="2.25" fill="#000"/>
<circle cx="78.50" cy="530.79" r="2.25" fill="#000"/>
<circle cx="78.50" cy="533.84" r="2.25" fill="#000"/>
<circle cx="78.98" cy="545.07" r="2.25" fill="#000"/>
<circle cx="84.03" cy="509.47" r="2.25" fill="#000"/>
<circle cx="84.03" cy="539.19" r="2.25" fill="#000"/>
<circle cx="87.22" cy="521.31" r="2.25" fill="#000"/>
<circle cx="87.22" cy="532.54" r="2.25" fill="#000"/>
<circle cx="91.78" cy="527.50" r="2.25" fill="#000"/>
<circle cx="90.33" cy="537.51" r="2.25" fill="#000"/>
<circle cx="100.78" cy="497.02" r="2.25" fill="#000"/>
<circle cx="100.78" cy="524.21" r="2.25" fill="#000"/>
<circle cx="104.17" cy="522.99" r="2.25" fill="#000"/>
<circle cx="100.78" cy="540.03" r="2.25" fill="#000"/>
<circle cx="101.26" cy="542.47" r="2.25" fill="#000"/>
<circle cx="101.26" cy="556.30" r="2.25" fill="#000"/>
<circle cx="101.26" cy="560.81" r="2.25" fill="#000"/>
<circle cx="117.53" cy="475.78" r="2.25" fill="#000"/>
<circle cx="117.53" cy="486.70" r="2.25" fill="#000"/>
<circle cx="117.53" cy="522.00" r="2.25" fill="#000"/>
<circle cx="134.69" cy="522.23" r="2.25" fill="#000"/>
<circle cx="138.01" cy="527.19" r="2.25" fill="#000"/>
<circle cx="137.18" cy="532.47" r="2.25" fill="#000"/>
<circle cx="137.46" cy="536.67" r="2.25" fill="#000"/>
<circle cx="134.96" cy="542.47" r="2.25" fill="#000"/>
<circle cx="134.96" cy="550.80" r="2.25" fill="#000"/>
<circle cx="134.96" cy="552.48" r="2.25" fill="#000"/>
<circle cx="137.18" cy="557.53" r="2.25" fill="#000"/>
<circle cx="43.48" cy="524.21" r="2.25" fill="#0000ff"/>
<circle cx="43.48" cy="527.50" r="2.25" fill="#0000ff"/>
<circle cx="42.72" cy="529.18" r="2.25" fill="#0000ff"/>
<circle cx="43.48" cy="531.70" r="2.25" fill="#0000ff"/>
<circle cx="42.72" cy="547.52" r="2.25" fill="#0000ff"/>
<circle cx="43.48" cy="550.04" r="2.25" fill="#0000ff"/>
<circle cx="43.48" cy="551.72" r="2.25" fill="#0000ff"/>
<circle cx="44.31" cy="561.27" r="2.25" fill="#0000ff"/>
<circle cx="43.07" cy="565.70" r="2.25" fill="#0000ff"/>
<circle cx="78.98" cy="524.98" r="2.25" fill="#0000ff"/>
<circle cx="77.67" cy="543.31" r="2.25" fill="#0000ff"/>
<circle cx="78.50" cy="552.48" r="2.25" fill="#0000ff"/>
<circle cx="78.50" cy="554.24" r="2.25" fill="#0000ff"/>
<circle cx="78.50" cy="559.21" r="2.25" fill="#0000ff"/>
<circle cx="78.50" cy="560.81" r="2.25" fill="#0000ff"/>
<circle cx="84.03" cy="544.31" r="2.25" fill="#0000ff"/>
<circle cx="87.22" cy="490.83" r="2.25" fill="#0000ff"/>
<circle cx="87.22" cy="503.36" r="2.25" fill="#0000ff"/>
<circle cx="87.22" cy="519.17" r="2.25" fill="#0000ff"/>
<circle cx="90.33" cy="542.47" r="2.25" fill="#0000ff"/>
<circle cx="91.78" cy="544.31" r="2.25" fill="#0000ff"/>
<circle cx="100.78" cy="522.53" r="2.25" fill="#0000ff"/>
<circle cx="101.26" cy="527.50" r="2.25" fill="#0000ff"/>
<circle cx="101.26" cy="530.79" r="2.25" fill="#0000ff"/>
<circle cx="101.26" cy="532.47" r="2.25" fill="#0000ff"/>
<circle cx="100.78" cy="550.80" r="2.25" fill="#0000ff"/>
<circle cx="104.17" cy="551.34" r="2.25" fill="#0000ff"/>
<circle cx="117.53" cy="518.33" r="2.25" fill="#0000ff"/>
<circle cx="117.53" cy="549.20" r="2.25" fill="#0000ff"/>
<circle cx="138.01" cy="500.00" r="2.25" fill="#0000ff"/>
<circle cx="137.18" cy="505.04" r="2.25" fill="#0000ff"/>
<circle cx="134.96" cy="527.19" r="2.25" fill="#0000ff"/>
<circle cx="135.79" cy="536.29" r="2.25" fill="#0000ff"/>
<circle cx="137.18" cy="536.67" r="2.25" fill="#0000ff"/>
<circle cx="134.96" cy="537.97" r="2.25" fill="#0000ff"/>
<circle cx="134.96" cy="543.31" r="2.25" fill="#0000ff"/>
<circle cx="134.96" cy="546.68" r="2.25" fill="#0000ff"/>
<circle cx="137.46" cy="547.52" r="2.25" fill="#0000ff"/>
<circle cx="134.96" cy="557.30" r="2.25" fill="#0000ff"/>
<line x1="42.72" y1="515.28" x2="138.01" y2="535.14" stroke="#000" stroke-width="1.3"/>
<line x1="42.72" y1="545.68" x2="138.01" y2="530.79" stroke="#0000ff" stroke-width="1.3"/>
<text x="153.00" y="424.80" font-size="16.6" text-anchor="start" fill="#222" stroke="#222">E</text>
<text x="244.50" y="426.10" font-size="10.6" text-anchor="middle" fill="#222" stroke="#222">Human</text>
<line x1="192.00" y1="449.40" x2="192.00" y2="564.30" stroke="#222" stroke-width="1.2"/>
<line x1="187.40" y1="564.30" x2="192.00" y2="564.30" stroke="#222" stroke-width="1.2"/>
<text x="185.40" y="567.60" font-size="9.2" text-anchor="end" fill="#222" stroke="#222">0.0</text>
<line x1="187.40" y1="526.00" x2="192.00" y2="526.00" stroke="#222" stroke-width="1.2"/>
<text x="185.40" y="529.30" font-size="9.2" text-anchor="end" fill="#222" stroke="#222">0.5</text>
<line x1="187.40" y1="487.70" x2="192.00" y2="487.70" stroke="#222" stroke-width="1.2"/>
<text x="185.40" y="491.00" font-size="9.2" text-anchor="end" fill="#222" stroke="#222">1.0</text>
<line x1="187.40" y1="449.40" x2="192.00" y2="449.40" stroke="#222" stroke-width="1.2"/>
<text x="185.40" y="452.70" font-size="9.2" text-anchor="end" fill="#222" stroke="#222">1.5</text>
<line x1="191.40" y1="564.30" x2="295.80" y2="564.30" stroke="#222" stroke-width="1.2"/>
<line x1="201.33" y1="564.30" x2="201.33" y2="568.90" stroke="#222" stroke-width="1.2"/>
<text x="201.33" y="578.00" font-size="9.2" text-anchor="middle" fill="#222" stroke="#222">30</text>
<line x1="220.19" y1="564.30" x2="220.19" y2="568.90" stroke="#222" stroke-width="1.2"/>
<text x="220.19" y="578.00" font-size="9.2" text-anchor="middle" fill="#222" stroke="#222">40</text>
<line x1="239.05" y1="564.30" x2="239.05" y2="568.90" stroke="#222" stroke-width="1.2"/>
<text x="239.05" y="578.00" font-size="9.2" text-anchor="middle" fill="#222" stroke="#222">50</text>
<line x1="257.91" y1="564.30" x2="257.91" y2="568.90" stroke="#222" stroke-width="1.2"/>
<text x="257.91" y="578.00" font-size="9.2" text-anchor="middle" fill="#222" stroke="#222">60</text>
<line x1="276.77" y1="564.30" x2="276.77" y2="568.90" stroke="#222" stroke-width="1.2"/>
<text x="276.77" y="578.00" font-size="9.2" text-anchor="middle" fill="#222" stroke="#222">70</text>
<line x1="295.63" y1="564.30" x2="295.63" y2="568.90" stroke="#222" stroke-width="1.2"/>
<text x="295.63" y="578.00" font-size="9.2" text-anchor="middle" fill="#222" stroke="#222">80</text>
<text x="243.80" y="593.50" font-size="9.6" text-anchor="middle" fill="#222" stroke="#222">Age (years)</text>
<text x="168.60" y="505.80" font-size="9.5" text-anchor="middle" fill="#222" stroke="#222" transform="rotate(-90 168.60 505.80)">Baclofen current density (pA/pF)</text>
<text x="196.10" y="457.00" font-size="7.9" text-anchor="start" fill="#222" stroke="#222">L2/3: R<tspan font-size="5.5" dy="-3">2</tspan><tspan dy="3">= 0.027; p=0.33</tspan></text>
<text x="196.10" y="466.80" font-size="7.9" text-anchor="start" fill="#0000ff" stroke="#0000ff">L5:</text>
<text x="216.00" y="466.80" font-size="7.9" text-anchor="start" fill="#0000ff" stroke="#0000ff">R<tspan font-size="5.5" dy="-3">2</tspan><tspan dy="3">= 0.0004; p=0.95</tspan></text>
<polyline points="201.33,523.47 204.30,524.08 207.28,524.67 210.25,525.24 213.22,525.80 216.20,526.34 219.17,526.86 222.15,527.36 225.12,527.84 228.09,528.31 231.07,528.76 234.04,529.19 237.01,529.61 239.99,530.00 242.96,530.38 245.93,530.74 248.91,531.09 251.88,531.41 254.85,531.72 257.83,532.01 260.80,532.28 263.78,532.54 266.75,532.78 269.72,533.00 272.70,533.20 275.67,533.38 278.64,533.55 281.62,533.70 284.59,533.83 287.56,533.95 290.54,534.04" fill="none" stroke="#8c8c8c" stroke-width="0.85" stroke-dasharray="1.5,1.5"/>
<polyline points="201.33,545.00 204.30,544.65 207.28,544.34 210.25,544.06 213.22,543.82 216.20,543.60 219.17,543.42 222.15,543.28 225.12,543.16 228.09,543.08 231.07,543.03 234.04,543.02 237.01,543.04 239.99,543.09 242.96,543.17 245.93,543.29 248.91,543.44 251.88,543.62 254.85,543.83 257.83,544.08 260.80,544.36 263.78,544.68 266.75,545.02 269.72,545.40 272.70,545.81 275.67,546.26 278.64,546.74 281.62,547.25 284.59,547.79 287.56,548.37 290.54,548.98" fill="none" stroke="#8c8c8c" stroke-width="0.85" stroke-dasharray="1.5,1.5"/>
<polyline points="210.76,509.15 213.24,510.60 215.73,511.97 218.21,513.24 220.69,514.43 223.18,515.53 225.66,516.54 228.14,517.46 230.63,518.29 233.11,519.04 235.59,519.69 238.08,520.26 240.56,520.74 243.04,521.13 245.53,521.43 248.01,521.64 250.49,521.77 252.97,521.80 255.46,521.75 257.94,521.61 260.42,521.38 262.91,521.06 265.39,520.65 267.87,520.15 270.36,519.57 272.84,518.90 275.32,518.14 277.81,517.29 280.29,516.35 282.77,515.32 285.26,514.20" fill="none" stroke="#7070ff" stroke-width="0.85" stroke-dasharray="1.5,1.5"/>
<polyline points="210.76,563.00 213.24,561.47 215.73,560.03 218.21,558.69 220.69,557.43 223.18,556.27 225.66,555.19 228.14,554.21 230.63,553.32 233.11,552.51 235.59,551.80 238.08,551.18 240.56,550.65 243.04,550.22 245.53,549.87 248.01,549.61 250.49,549.44 252.97,549.37 255.46,549.38 257.94,549.49 260.42,549.68 262.91,549.97 265.39,550.35 267.87,550.82 270.36,551.38 272.84,552.03 275.32,552.77 277.81,553.60 280.29,554.52 282.77,555.54 285.26,556.64" fill="none" stroke="#7070ff" stroke-width="0.85" stroke-dasharray="1.5,1.5"/>
<circle cx="201.33" cy="538.49" r="2.25" fill="#000"/>
<circle cx="205.10" cy="538.79" r="2.25" fill="#000"/>
<circle cx="205.10" cy="529.22" r="2.25" fill="#000"/>
<circle cx="201.33" cy="554.04" r="2.25" fill="#000"/>
<circle cx="210.76" cy="517.57" r="2.25" fill="#000"/>
<circle cx="214.53" cy="515.51" r="2.25" fill="#000"/>
<circle cx="210.76" cy="523.78" r="2.25" fill="#000"/>
<circle cx="210.76" cy="524.85" r="2.25" fill="#000"/>
<circle cx="239.05" cy="524.24" r="2.25" fill="#000"/>
<circle cx="239.05" cy="537.72" r="2.25" fill="#000"/>
<circle cx="239.05" cy="536.34" r="2.25" fill="#000"/>
<circle cx="239.05" cy="543.01" r="2.25" fill="#000"/>
<circle cx="245.09" cy="557.18" r="2.25" fill="#000"/>
<circle cx="258.29" cy="558.33" r="2.25" fill="#000"/>
<circle cx="267.91" cy="503.25" r="2.25" fill="#000"/>
<circle cx="267.91" cy="514.20" r="2.25" fill="#000"/>
<circle cx="267.91" cy="528.30" r="2.25" fill="#000"/>
<circle cx="267.91" cy="529.83" r="2.25" fill="#000"/>
<circle cx="267.91" cy="532.20" r="2.25" fill="#000"/>
<circle cx="267.91" cy="537.03" r="2.25" fill="#000"/>
<circle cx="267.91" cy="538.49" r="2.25" fill="#000"/>
<circle cx="266.21" cy="542.70" r="2.25" fill="#000"/>
<circle cx="267.91" cy="548.21" r="2.25" fill="#000"/>
<circle cx="266.21" cy="552.73" r="2.25" fill="#000"/>
<circle cx="267.91" cy="557.71" r="2.25" fill="#000"/>
<circle cx="267.91" cy="559.47" r="2.25" fill="#000"/>
<circle cx="273.75" cy="557.71" r="2.25" fill="#000"/>
<circle cx="281.11" cy="538.26" r="2.25" fill="#000"/>
<circle cx="281.11" cy="539.79" r="2.25" fill="#000"/>
<circle cx="281.11" cy="541.32" r="2.25" fill="#000"/>
<circle cx="285.63" cy="547.22" r="2.25" fill="#000"/>
<circle cx="287.33" cy="547.22" r="2.25" fill="#000"/>
<circle cx="290.92" cy="519.34" r="2.25" fill="#000"/>
<circle cx="290.92" cy="520.25" r="2.25" fill="#000"/>
<circle cx="290.92" cy="553.19" r="2.25" fill="#000"/>
<circle cx="210.76" cy="526.00" r="2.25" fill="#0000ff"/>
<circle cx="210.76" cy="547.98" r="2.25" fill="#0000ff"/>
<circle cx="239.05" cy="518.72" r="2.25" fill="#0000ff"/>
<circle cx="239.05" cy="534.43" r="2.25" fill="#0000ff"/>
<circle cx="239.05" cy="535.96" r="2.25" fill="#0000ff"/>
<circle cx="239.05" cy="553.50" r="2.25" fill="#0000ff"/>
<circle cx="239.05" cy="560.70" r="2.25" fill="#0000ff"/>
<circle cx="267.91" cy="486.32" r="2.25" fill="#0000ff"/>
<circle cx="266.21" cy="520.79" r="2.25" fill="#0000ff"/>
<circle cx="285.26" cy="534.27" r="2.25" fill="#0000ff"/>
<circle cx="285.26" cy="540.71" r="2.25" fill="#0000ff"/>
<circle cx="281.11" cy="547.22" r="2.25" fill="#0000ff"/>
<circle cx="285.26" cy="559.47" r="2.25" fill="#0000ff"/>
<line x1="201.33" y1="534.27" x2="290.54" y2="541.47" stroke="#000" stroke-width="1.3"/>
<line x1="210.76" y1="536.19" x2="285.26" y2="535.19" stroke="#0000ff" stroke-width="1.3"/>
<text x="308.60" y="424.30" font-size="16.6" text-anchor="start" fill="#222" stroke="#222">F</text>
<text x="383.70" y="425.90" font-size="10.6" text-anchor="middle" fill="#222" stroke="#222">Rat</text>
<text x="383.70" y="438.50" font-size="10.6" text-anchor="middle" fill="#222" stroke="#222">(1 month)</text>
<text x="377.00" y="454.90" font-size="9.4" text-anchor="start" fill="#222" stroke="#222">CGP</text>
<rect x="378.00" y="459.70" width="3.00" height="3.10" fill="#000"/>
<rect x="384.42" y="459.70" width="3.00" height="3.10" fill="#000"/>
<rect x="390.84" y="459.70" width="3.00" height="3.10" fill="#000"/>
<rect x="397.26" y="459.70" width="3.00" height="3.10" fill="#000"/>
<rect x="403.68" y="459.70" width="3.00" height="3.10" fill="#000"/>
<rect x="410.10" y="459.70" width="3.00" height="3.10" fill="#000"/>
<line x1="346.75" y1="459.10" x2="346.75" y2="573.50" stroke="#222" stroke-width="1.2"/>
<line x1="342.25" y1="459.10" x2="346.75" y2="459.10" stroke="#222" stroke-width="1.2"/>
<text x="340.25" y="462.40" font-size="9.2" text-anchor="end" fill="#222" stroke="#222">20</text>
<line x1="342.25" y1="487.70" x2="346.75" y2="487.70" stroke="#222" stroke-width="1.2"/>
<text x="340.25" y="491.00" font-size="9.2" text-anchor="end" fill="#222" stroke="#222">0</text>
<line x1="342.25" y1="516.30" x2="346.75" y2="516.30" stroke="#222" stroke-width="1.2"/>
<text x="340.25" y="519.60" font-size="9.2" text-anchor="end" fill="#222" stroke="#222">-20</text>
<line x1="342.25" y1="544.90" x2="346.75" y2="544.90" stroke="#222" stroke-width="1.2"/>
<text x="340.25" y="548.20" font-size="9.2" text-anchor="end" fill="#222" stroke="#222">-40</text>
<line x1="342.25" y1="573.50" x2="346.75" y2="573.50" stroke="#222" stroke-width="1.2"/>
<text x="340.25" y="576.80" font-size="9.2" text-anchor="end" fill="#222" stroke="#222">-60</text>
<line x1="346.15" y1="573.50" x2="413.25" y2="573.50" stroke="#222" stroke-width="1.2"/>
<line x1="346.75" y1="573.50" x2="346.75" y2="578.10" stroke="#222" stroke-width="1.2"/>
<text x="346.75" y="587.30" font-size="9.2" text-anchor="middle" fill="#222" stroke="#222">0</text>
<line x1="380.00" y1="573.50" x2="380.00" y2="578.10" stroke="#222" stroke-width="1.2"/>
<text x="380.00" y="587.30" font-size="9.2" text-anchor="middle" fill="#222" stroke="#222">5</text>
<line x1="413.25" y1="573.50" x2="413.25" y2="578.10" stroke="#222" stroke-width="1.2"/>
<text x="413.25" y="587.30" font-size="9.2" text-anchor="middle" fill="#222" stroke="#222">10</text>
<text x="380.00" y="601.00" font-size="8.7" text-anchor="middle" fill="#222" stroke="#222">Time (min)</text>
<text x="320.60" y="510.30" font-size="9.6" text-anchor="middle" fill="#222" stroke="#222" transform="rotate(-90 320.60 510.30)">Whole-cell current (pA)</text>
<line x1="348.75" y1="479.50" x2="348.75" y2="490.66" stroke="#0000ff" stroke-width="1.25"/>
<line x1="346.55" y1="479.50" x2="350.94" y2="479.50" stroke="#0000ff" stroke-width="1.25"/>
<line x1="346.55" y1="490.66" x2="350.94" y2="490.66" stroke="#0000ff" stroke-width="1.25"/>
<line x1="351.21" y1="479.47" x2="351.21" y2="490.28" stroke="#0000ff" stroke-width="1.25"/>
<line x1="349.01" y1="479.47" x2="353.41" y2="479.47" stroke="#0000ff" stroke-width="1.25"/>
<line x1="349.01" y1="490.28" x2="353.41" y2="490.28" stroke="#0000ff" stroke-width="1.25"/>
<line x1="353.67" y1="479.80" x2="353.67" y2="490.25" stroke="#0000ff" stroke-width="1.25"/>
<line x1="351.47" y1="479.80" x2="355.87" y2="479.80" stroke="#0000ff" stroke-width="1.25"/>
<line x1="351.47" y1="490.25" x2="355.87" y2="490.25" stroke="#0000ff" stroke-width="1.25"/>
<line x1="356.13" y1="479.18" x2="356.13" y2="489.27" stroke="#0000ff" stroke-width="1.25"/>
<line x1="353.93" y1="479.18" x2="358.33" y2="479.18" stroke="#0000ff" stroke-width="1.25"/>
<line x1="353.93" y1="489.27" x2="358.33" y2="489.27" stroke="#0000ff" stroke-width="1.25"/>
<line x1="358.59" y1="478.93" x2="358.59" y2="488.68" stroke="#0000ff" stroke-width="1.25"/>
<line x1="356.39" y1="478.93" x2="360.79" y2="478.93" stroke="#0000ff" stroke-width="1.25"/>
<line x1="356.39" y1="488.68" x2="360.79" y2="488.68" stroke="#0000ff" stroke-width="1.25"/>
<line x1="361.05" y1="480.04" x2="361.05" y2="489.43" stroke="#0000ff" stroke-width="1.25"/>
<line x1="358.85" y1="480.04" x2="363.25" y2="480.04" stroke="#0000ff" stroke-width="1.25"/>
<line x1="358.85" y1="489.43" x2="363.25" y2="489.43" stroke="#0000ff" stroke-width="1.25"/>
<line x1="363.51" y1="481.79" x2="363.51" y2="490.83" stroke="#0000ff" stroke-width="1.25"/>
<line x1="361.31" y1="481.79" x2="365.71" y2="481.79" stroke="#0000ff" stroke-width="1.25"/>
<line x1="361.31" y1="490.83" x2="365.71" y2="490.83" stroke="#0000ff" stroke-width="1.25"/>
<line x1="365.97" y1="483.17" x2="365.97" y2="491.86" stroke="#0000ff" stroke-width="1.25"/>
<line x1="363.77" y1="483.17" x2="368.17" y2="483.17" stroke="#0000ff" stroke-width="1.25"/>
<line x1="363.77" y1="491.86" x2="368.17" y2="491.86" stroke="#0000ff" stroke-width="1.25"/>
<line x1="368.43" y1="483.86" x2="368.43" y2="492.90" stroke="#0000ff" stroke-width="1.25"/>
<line x1="366.23" y1="483.86" x2="370.63" y2="483.86" stroke="#0000ff" stroke-width="1.25"/>
<line x1="366.23" y1="492.90" x2="370.63" y2="492.90" stroke="#0000ff" stroke-width="1.25"/>
<line x1="370.89" y1="483.96" x2="370.89" y2="493.66" stroke="#0000ff" stroke-width="1.25"/>
<line x1="368.69" y1="483.96" x2="373.09" y2="483.96" stroke="#0000ff" stroke-width="1.25"/>
<line x1="368.69" y1="493.66" x2="373.09" y2="493.66" stroke="#0000ff" stroke-width="1.25"/>
<line x1="373.35" y1="483.79" x2="373.35" y2="494.15" stroke="#0000ff" stroke-width="1.25"/>
<line x1="371.15" y1="483.79" x2="375.55" y2="483.79" stroke="#0000ff" stroke-width="1.25"/>
<line x1="371.15" y1="494.15" x2="375.55" y2="494.15" stroke="#0000ff" stroke-width="1.25"/>
<line x1="375.81" y1="482.99" x2="375.81" y2="494.02" stroke="#0000ff" stroke-width="1.25"/>
<line x1="373.61" y1="482.99" x2="378.01" y2="482.99" stroke="#0000ff" stroke-width="1.25"/>
<line x1="373.61" y1="494.02" x2="378.01" y2="494.02" stroke="#0000ff" stroke-width="1.25"/>
<line x1="378.27" y1="480.20" x2="378.27" y2="495.38" stroke="#0000ff" stroke-width="1.25"/>
<line x1="376.07" y1="480.20" x2="380.47" y2="480.20" stroke="#0000ff" stroke-width="1.25"/>
<line x1="376.07" y1="495.38" x2="380.47" y2="495.38" stroke="#0000ff" stroke-width="1.25"/>
<line x1="380.73" y1="474.91" x2="380.73" y2="499.96" stroke="#0000ff" stroke-width="1.25"/>
<line x1="378.53" y1="474.91" x2="382.93" y2="474.91" stroke="#0000ff" stroke-width="1.25"/>
<line x1="378.53" y1="499.96" x2="382.93" y2="499.96" stroke="#0000ff" stroke-width="1.25"/>
<line x1="383.19" y1="469.78" x2="383.19" y2="501.24" stroke="#0000ff" stroke-width="1.25"/>
<line x1="380.99" y1="469.78" x2="385.39" y2="469.78" stroke="#0000ff" stroke-width="1.25"/>
<line x1="380.99" y1="501.24" x2="385.39" y2="501.24" stroke="#0000ff" stroke-width="1.25"/>
<line x1="385.65" y1="469.88" x2="385.65" y2="501.34" stroke="#0000ff" stroke-width="1.25"/>
<line x1="383.45" y1="469.88" x2="387.85" y2="469.88" stroke="#0000ff" stroke-width="1.25"/>
<line x1="383.45" y1="501.34" x2="387.85" y2="501.34" stroke="#0000ff" stroke-width="1.25"/>
<line x1="388.11" y1="482.59" x2="388.11" y2="503.07" stroke="#0000ff" stroke-width="1.25"/>
<line x1="385.91" y1="482.59" x2="390.31" y2="482.59" stroke="#0000ff" stroke-width="1.25"/>
<line x1="385.91" y1="503.07" x2="390.31" y2="503.07" stroke="#0000ff" stroke-width="1.25"/>
<line x1="390.57" y1="489.27" x2="390.57" y2="503.57" stroke="#0000ff" stroke-width="1.25"/>
<line x1="388.37" y1="489.27" x2="392.77" y2="489.27" stroke="#0000ff" stroke-width="1.25"/>
<line x1="388.37" y1="503.57" x2="392.77" y2="503.57" stroke="#0000ff" stroke-width="1.25"/>
<line x1="393.03" y1="487.54" x2="393.03" y2="503.55" stroke="#0000ff" stroke-width="1.25"/>
<line x1="390.83" y1="487.54" x2="395.23" y2="487.54" stroke="#0000ff" stroke-width="1.25"/>
<line x1="390.83" y1="503.55" x2="395.23" y2="503.55" stroke="#0000ff" stroke-width="1.25"/>
<line x1="395.49" y1="478.46" x2="395.49" y2="505.06" stroke="#0000ff" stroke-width="1.25"/>
<line x1="393.29" y1="478.46" x2="397.69" y2="478.46" stroke="#0000ff" stroke-width="1.25"/>
<line x1="393.29" y1="505.06" x2="397.69" y2="505.06" stroke="#0000ff" stroke-width="1.25"/>
<line x1="397.95" y1="473.06" x2="397.95" y2="505.19" stroke="#0000ff" stroke-width="1.25"/>
<line x1="395.75" y1="473.06" x2="400.15" y2="473.06" stroke="#0000ff" stroke-width="1.25"/>
<line x1="395.75" y1="505.19" x2="400.15" y2="505.19" stroke="#0000ff" stroke-width="1.25"/>
<line x1="400.42" y1="469.36" x2="400.42" y2="502.72" stroke="#0000ff" stroke-width="1.25"/>
<line x1="398.22" y1="469.36" x2="402.62" y2="469.36" stroke="#0000ff" stroke-width="1.25"/>
<line x1="398.22" y1="502.72" x2="402.62" y2="502.72" stroke="#0000ff" stroke-width="1.25"/>
<line x1="402.88" y1="470.47" x2="402.88" y2="505.79" stroke="#0000ff" stroke-width="1.25"/>
<line x1="400.68" y1="470.47" x2="405.08" y2="470.47" stroke="#0000ff" stroke-width="1.25"/>
<line x1="400.68" y1="505.79" x2="405.08" y2="505.79" stroke="#0000ff" stroke-width="1.25"/>
<line x1="405.34" y1="471.75" x2="405.34" y2="509.10" stroke="#0000ff" stroke-width="1.25"/>
<line x1="403.14" y1="471.75" x2="407.54" y2="471.75" stroke="#0000ff" stroke-width="1.25"/>
<line x1="403.14" y1="509.10" x2="407.54" y2="509.10" stroke="#0000ff" stroke-width="1.25"/>
<line x1="407.80" y1="474.30" x2="407.80" y2="513.68" stroke="#0000ff" stroke-width="1.25"/>
<line x1="405.60" y1="474.30" x2="410.00" y2="474.30" stroke="#0000ff" stroke-width="1.25"/>
<line x1="405.60" y1="513.68" x2="410.00" y2="513.68" stroke="#0000ff" stroke-width="1.25"/>
<line x1="410.26" y1="474.75" x2="410.26" y2="514.79" stroke="#0000ff" stroke-width="1.25"/>
<line x1="408.06" y1="474.75" x2="412.46" y2="474.75" stroke="#0000ff" stroke-width="1.25"/>
<line x1="408.06" y1="514.79" x2="412.46" y2="514.79" stroke="#0000ff" stroke-width="1.25"/>
<circle cx="348.75" cy="485.08" r="2.2" fill="#0000ff"/>
<circle cx="351.21" cy="484.88" r="2.2" fill="#0000ff"/>
<circle cx="353.67" cy="485.03" r="2.2" fill="#0000ff"/>
<circle cx="356.13" cy="484.22" r="2.2" fill="#0000ff"/>
<circle cx="358.59" cy="483.80" r="2.2" fill="#0000ff"/>
<circle cx="361.05" cy="484.73" r="2.2" fill="#0000ff"/>
<circle cx="363.51" cy="486.31" r="2.2" fill="#0000ff"/>
<circle cx="365.97" cy="487.52" r="2.2" fill="#0000ff"/>
<circle cx="368.43" cy="488.38" r="2.2" fill="#0000ff"/>
<circle cx="370.89" cy="488.81" r="2.2" fill="#0000ff"/>
<circle cx="373.35" cy="488.97" r="2.2" fill="#0000ff"/>
<circle cx="375.81" cy="488.51" r="2.2" fill="#0000ff"/>
<circle cx="378.27" cy="487.79" r="2.2" fill="#0000ff"/>
<circle cx="380.73" cy="487.44" r="2.2" fill="#0000ff"/>
<circle cx="383.19" cy="485.51" r="2.2" fill="#0000ff"/>
<circle cx="385.65" cy="485.61" r="2.2" fill="#0000ff"/>
<circle cx="388.11" cy="492.83" r="2.2" fill="#0000ff"/>
<circle cx="390.57" cy="496.42" r="2.2" fill="#0000ff"/>
<circle cx="393.03" cy="495.54" r="2.2" fill="#0000ff"/>
<circle cx="395.49" cy="491.76" r="2.2" fill="#0000ff"/>
<circle cx="397.95" cy="489.12" r="2.2" fill="#0000ff"/>
<circle cx="400.42" cy="486.04" r="2.2" fill="#0000ff"/>
<circle cx="402.88" cy="488.13" r="2.2" fill="#0000ff"/>
<circle cx="405.34" cy="490.42" r="2.2" fill="#0000ff"/>
<circle cx="407.80" cy="493.99" r="2.2" fill="#0000ff"/>
<circle cx="410.26" cy="494.77" r="2.2" fill="#0000ff"/>
<line x1="348.75" y1="488.61" x2="348.75" y2="497.02" stroke="#000" stroke-width="1.25"/>
<line x1="346.55" y1="488.61" x2="350.94" y2="488.61" stroke="#000" stroke-width="1.25"/>
<line x1="346.55" y1="497.02" x2="350.94" y2="497.02" stroke="#000" stroke-width="1.25"/>
<line x1="351.21" y1="487.68" x2="351.21" y2="495.88" stroke="#000" stroke-width="1.25"/>
<line x1="349.01" y1="487.68" x2="353.41" y2="487.68" stroke="#000" stroke-width="1.25"/>
<line x1="349.01" y1="495.88" x2="353.41" y2="495.88" stroke="#000" stroke-width="1.25"/>
<line x1="353.67" y1="486.01" x2="353.67" y2="493.99" stroke="#000" stroke-width="1.25"/>
<line x1="351.47" y1="486.01" x2="355.87" y2="486.01" stroke="#000" stroke-width="1.25"/>
<line x1="351.47" y1="493.99" x2="355.87" y2="493.99" stroke="#000" stroke-width="1.25"/>
<line x1="356.13" y1="484.52" x2="356.13" y2="492.30" stroke="#000" stroke-width="1.25"/>
<line x1="353.93" y1="484.52" x2="358.33" y2="484.52" stroke="#000" stroke-width="1.25"/>
<line x1="353.93" y1="492.30" x2="358.33" y2="492.30" stroke="#000" stroke-width="1.25"/>
<line x1="358.59" y1="485.23" x2="358.59" y2="492.79" stroke="#000" stroke-width="1.25"/>
<line x1="356.39" y1="485.23" x2="360.79" y2="485.23" stroke="#000" stroke-width="1.25"/>
<line x1="356.39" y1="492.79" x2="360.79" y2="492.79" stroke="#000" stroke-width="1.25"/>
<line x1="361.05" y1="485.17" x2="361.05" y2="492.52" stroke="#000" stroke-width="1.25"/>
<line x1="358.85" y1="485.17" x2="363.25" y2="485.17" stroke="#000" stroke-width="1.25"/>
<line x1="358.85" y1="492.52" x2="363.25" y2="492.52" stroke="#000" stroke-width="1.25"/>
<line x1="363.51" y1="483.61" x2="363.51" y2="490.78" stroke="#000" stroke-width="1.25"/>
<line x1="361.31" y1="483.61" x2="365.71" y2="483.61" stroke="#000" stroke-width="1.25"/>
<line x1="361.31" y1="490.78" x2="365.71" y2="490.78" stroke="#000" stroke-width="1.25"/>
<line x1="365.97" y1="480.37" x2="365.97" y2="487.89" stroke="#000" stroke-width="1.25"/>
<line x1="363.77" y1="480.37" x2="368.17" y2="480.37" stroke="#000" stroke-width="1.25"/>
<line x1="363.77" y1="487.89" x2="368.17" y2="487.89" stroke="#000" stroke-width="1.25"/>
<line x1="368.43" y1="478.00" x2="368.43" y2="485.87" stroke="#000" stroke-width="1.25"/>
<line x1="366.23" y1="478.00" x2="370.63" y2="478.00" stroke="#000" stroke-width="1.25"/>
<line x1="366.23" y1="485.87" x2="370.63" y2="485.87" stroke="#000" stroke-width="1.25"/>
<line x1="370.89" y1="475.10" x2="370.89" y2="483.33" stroke="#000" stroke-width="1.25"/>
<line x1="368.69" y1="475.10" x2="373.09" y2="475.10" stroke="#000" stroke-width="1.25"/>
<line x1="368.69" y1="483.33" x2="373.09" y2="483.33" stroke="#000" stroke-width="1.25"/>
<line x1="373.35" y1="474.05" x2="373.35" y2="482.63" stroke="#000" stroke-width="1.25"/>
<line x1="371.15" y1="474.05" x2="375.55" y2="474.05" stroke="#000" stroke-width="1.25"/>
<line x1="371.15" y1="482.63" x2="375.55" y2="482.63" stroke="#000" stroke-width="1.25"/>
<line x1="375.81" y1="473.89" x2="375.81" y2="483.18" stroke="#000" stroke-width="1.25"/>
<line x1="373.61" y1="473.89" x2="378.01" y2="473.89" stroke="#000" stroke-width="1.25"/>
<line x1="373.61" y1="483.18" x2="378.01" y2="483.18" stroke="#000" stroke-width="1.25"/>
<line x1="378.27" y1="474.98" x2="378.27" y2="484.97" stroke="#000" stroke-width="1.25"/>
<line x1="376.07" y1="474.98" x2="380.47" y2="474.98" stroke="#000" stroke-width="1.25"/>
<line x1="376.07" y1="484.97" x2="380.47" y2="484.97" stroke="#000" stroke-width="1.25"/>
<line x1="380.73" y1="476.12" x2="380.73" y2="486.82" stroke="#000" stroke-width="1.25"/>
<line x1="378.53" y1="476.12" x2="382.93" y2="476.12" stroke="#000" stroke-width="1.25"/>
<line x1="378.53" y1="486.82" x2="382.93" y2="486.82" stroke="#000" stroke-width="1.25"/>
<line x1="383.19" y1="478.51" x2="383.19" y2="489.91" stroke="#000" stroke-width="1.25"/>
<line x1="380.99" y1="478.51" x2="385.39" y2="478.51" stroke="#000" stroke-width="1.25"/>
<line x1="380.99" y1="489.91" x2="385.39" y2="489.91" stroke="#000" stroke-width="1.25"/>
<line x1="385.65" y1="483.07" x2="385.65" y2="496.51" stroke="#000" stroke-width="1.25"/>
<line x1="383.45" y1="483.07" x2="387.85" y2="483.07" stroke="#000" stroke-width="1.25"/>
<line x1="383.45" y1="496.51" x2="387.85" y2="496.51" stroke="#000" stroke-width="1.25"/>
<line x1="388.11" y1="486.06" x2="388.11" y2="501.62" stroke="#000" stroke-width="1.25"/>
<line x1="385.91" y1="486.06" x2="390.31" y2="486.06" stroke="#000" stroke-width="1.25"/>
<line x1="385.91" y1="501.62" x2="390.31" y2="501.62" stroke="#000" stroke-width="1.25"/>
<line x1="390.57" y1="493.13" x2="390.57" y2="511.06" stroke="#000" stroke-width="1.25"/>
<line x1="388.37" y1="493.13" x2="392.77" y2="493.13" stroke="#000" stroke-width="1.25"/>
<line x1="388.37" y1="511.06" x2="392.77" y2="511.06" stroke="#000" stroke-width="1.25"/>
<line x1="393.03" y1="502.34" x2="393.03" y2="523.45" stroke="#000" stroke-width="1.25"/>
<line x1="390.83" y1="502.34" x2="395.23" y2="502.34" stroke="#000" stroke-width="1.25"/>
<line x1="390.83" y1="523.45" x2="395.23" y2="523.45" stroke="#000" stroke-width="1.25"/>
<line x1="395.49" y1="505.25" x2="395.49" y2="529.53" stroke="#000" stroke-width="1.25"/>
<line x1="393.29" y1="505.25" x2="397.69" y2="505.25" stroke="#000" stroke-width="1.25"/>
<line x1="393.29" y1="529.53" x2="397.69" y2="529.53" stroke="#000" stroke-width="1.25"/>
<line x1="397.95" y1="508.56" x2="397.95" y2="534.19" stroke="#000" stroke-width="1.25"/>
<line x1="395.75" y1="508.56" x2="400.15" y2="508.56" stroke="#000" stroke-width="1.25"/>
<line x1="395.75" y1="534.19" x2="400.15" y2="534.19" stroke="#000" stroke-width="1.25"/>
<line x1="400.42" y1="510.92" x2="400.42" y2="536.33" stroke="#000" stroke-width="1.25"/>
<line x1="398.22" y1="510.92" x2="402.62" y2="510.92" stroke="#000" stroke-width="1.25"/>
<line x1="398.22" y1="536.33" x2="402.62" y2="536.33" stroke="#000" stroke-width="1.25"/>
<line x1="402.88" y1="513.48" x2="402.88" y2="538.68" stroke="#000" stroke-width="1.25"/>
<line x1="400.68" y1="513.48" x2="405.08" y2="513.48" stroke="#000" stroke-width="1.25"/>
<line x1="400.68" y1="538.68" x2="405.08" y2="538.68" stroke="#000" stroke-width="1.25"/>
<line x1="405.34" y1="513.94" x2="405.34" y2="538.93" stroke="#000" stroke-width="1.25"/>
<line x1="403.14" y1="513.94" x2="407.54" y2="513.94" stroke="#000" stroke-width="1.25"/>
<line x1="403.14" y1="538.93" x2="407.54" y2="538.93" stroke="#000" stroke-width="1.25"/>
<line x1="407.80" y1="513.96" x2="407.80" y2="538.74" stroke="#000" stroke-width="1.25"/>
<line x1="405.60" y1="513.96" x2="410.00" y2="513.96" stroke="#000" stroke-width="1.25"/>
<line x1="405.60" y1="538.74" x2="410.00" y2="538.74" stroke="#000" stroke-width="1.25"/>
<line x1="410.26" y1="513.10" x2="410.26" y2="537.67" stroke="#000" stroke-width="1.25"/>
<line x1="408.06" y1="513.10" x2="412.46" y2="513.10" stroke="#000" stroke-width="1.25"/>
<line x1="408.06" y1="537.67" x2="412.46" y2="537.67" stroke="#000" stroke-width="1.25"/>
<circle cx="348.75" cy="492.81" r="2.2" fill="#000"/>
<circle cx="351.21" cy="491.78" r="2.2" fill="#000"/>
<circle cx="353.67" cy="490.00" r="2.2" fill="#000"/>
<circle cx="356.13" cy="488.41" r="2.2" fill="#000"/>
<circle cx="358.59" cy="489.01" r="2.2" fill="#000"/>
<circle cx="361.05" cy="488.85" r="2.2" fill="#000"/>
<circle cx="363.51" cy="487.20" r="2.2" fill="#000"/>
<circle cx="365.97" cy="484.13" r="2.2" fill="#000"/>
<circle cx="368.43" cy="481.94" r="2.2" fill="#000"/>
<circle cx="370.89" cy="479.21" r="2.2" fill="#000"/>
<circle cx="373.35" cy="478.34" r="2.2" fill="#000"/>
<circle cx="375.81" cy="478.54" r="2.2" fill="#000"/>
<circle cx="378.27" cy="479.97" r="2.2" fill="#000"/>
<circle cx="380.73" cy="481.47" r="2.2" fill="#000"/>
<circle cx="383.19" cy="484.21" r="2.2" fill="#000"/>
<circle cx="385.65" cy="489.79" r="2.2" fill="#000"/>
<circle cx="388.11" cy="493.84" r="2.2" fill="#000"/>
<circle cx="390.57" cy="502.10" r="2.2" fill="#000"/>
<circle cx="393.03" cy="512.90" r="2.2" fill="#000"/>
<circle cx="395.49" cy="517.39" r="2.2" fill="#000"/>
<circle cx="397.95" cy="521.38" r="2.2" fill="#000"/>
<circle cx="400.42" cy="523.62" r="2.2" fill="#000"/>
<circle cx="402.88" cy="526.08" r="2.2" fill="#000"/>
<circle cx="405.34" cy="526.44" r="2.2" fill="#000"/>
<circle cx="407.80" cy="526.35" r="2.2" fill="#000"/>
<circle cx="410.26" cy="525.39" r="2.2" fill="#000"/>
<text x="482.80" y="425.90" font-size="10.6" text-anchor="middle" fill="#222" stroke="#222">Rat</text>
<text x="482.80" y="438.50" font-size="10.6" text-anchor="middle" fill="#222" stroke="#222">(6-8 month)</text>
<text x="486.80" y="453.20" font-size="9.4" text-anchor="start" fill="#222" stroke="#222">CGP</text>
<rect x="487.80" y="458.00" width="3.00" height="3.10" fill="#000"/>
<rect x="494.10" y="458.00" width="3.00" height="3.10" fill="#000"/>
<rect x="500.40" y="458.00" width="3.00" height="3.10" fill="#000"/>
<rect x="506.70" y="458.00" width="3.00" height="3.10" fill="#000"/>
<rect x="513.00" y="458.00" width="3.00" height="3.10" fill="#000"/>
<rect x="519.30" y="458.00" width="1.60" height="3.10" fill="#999"/>
<line x1="452.50" y1="459.10" x2="452.50" y2="573.50" stroke="#222" stroke-width="1.2"/>
<line x1="448.00" y1="459.10" x2="452.50" y2="459.10" stroke="#222" stroke-width="1.2"/>
<text x="446.00" y="462.40" font-size="9.2" text-anchor="end" fill="#222" stroke="#222">20</text>
<line x1="448.00" y1="487.70" x2="452.50" y2="487.70" stroke="#222" stroke-width="1.2"/>
<text x="446.00" y="491.00" font-size="9.2" text-anchor="end" fill="#222" stroke="#222">0</text>
<line x1="448.00" y1="516.30" x2="452.50" y2="516.30" stroke="#222" stroke-width="1.2"/>
<text x="446.00" y="519.60" font-size="9.2" text-anchor="end" fill="#222" stroke="#222">-20</text>
<line x1="448.00" y1="544.90" x2="452.50" y2="544.90" stroke="#222" stroke-width="1.2"/>
<text x="446.00" y="548.20" font-size="9.2" text-anchor="end" fill="#222" stroke="#222">-40</text>
<line x1="448.00" y1="573.50" x2="452.50" y2="573.50" stroke="#222" stroke-width="1.2"/>
<text x="446.00" y="576.80" font-size="9.2" text-anchor="end" fill="#222" stroke="#222">-60</text>
<line x1="451.90" y1="573.50" x2="519.00" y2="573.50" stroke="#222" stroke-width="1.2"/>
<line x1="452.50" y1="573.50" x2="452.50" y2="578.10" stroke="#222" stroke-width="1.2"/>
<text x="452.50" y="587.30" font-size="9.2" text-anchor="middle" fill="#222" stroke="#222">0</text>
<line x1="485.75" y1="573.50" x2="485.75" y2="578.10" stroke="#222" stroke-width="1.2"/>
<text x="485.75" y="587.30" font-size="9.2" text-anchor="middle" fill="#222" stroke="#222">5</text>
<line x1="519.00" y1="573.50" x2="519.00" y2="578.10" stroke="#222" stroke-width="1.2"/>
<text x="519.00" y="587.30" font-size="9.2" text-anchor="middle" fill="#222" stroke="#222">10</text>
<text x="485.75" y="601.00" font-size="8.7" text-anchor="middle" fill="#222" stroke="#222">Time (min)</text>
<text x="427.80" y="510.30" font-size="9.6" text-anchor="middle" fill="#222" stroke="#222" transform="rotate(-90 427.80 510.30)">Whole-cell current (pA)</text>
<line x1="496.00" y1="487.70" x2="519.00" y2="487.70" stroke="#808080" stroke-width="1.0" stroke-dasharray="3,2.6"/>
<line x1="453.76" y1="473.73" x2="453.76" y2="484.99" stroke="#0000ff" stroke-width="1.25"/>
<line x1="451.56" y1="473.73" x2="455.96" y2="473.73" stroke="#0000ff" stroke-width="1.25"/>
<line x1="451.56" y1="484.99" x2="455.96" y2="484.99" stroke="#0000ff" stroke-width="1.25"/>
<line x1="456.79" y1="474.80" x2="456.79" y2="485.63" stroke="#0000ff" stroke-width="1.25"/>
<line x1="454.59" y1="474.80" x2="458.99" y2="474.80" stroke="#0000ff" stroke-width="1.25"/>
<line x1="454.59" y1="485.63" x2="458.99" y2="485.63" stroke="#0000ff" stroke-width="1.25"/>
<line x1="459.81" y1="476.18" x2="459.81" y2="486.57" stroke="#0000ff" stroke-width="1.25"/>
<line x1="457.62" y1="476.18" x2="462.01" y2="476.18" stroke="#0000ff" stroke-width="1.25"/>
<line x1="457.62" y1="486.57" x2="462.01" y2="486.57" stroke="#0000ff" stroke-width="1.25"/>
<line x1="462.84" y1="476.81" x2="462.84" y2="486.77" stroke="#0000ff" stroke-width="1.25"/>
<line x1="460.64" y1="476.81" x2="465.04" y2="476.81" stroke="#0000ff" stroke-width="1.25"/>
<line x1="460.64" y1="486.77" x2="465.04" y2="486.77" stroke="#0000ff" stroke-width="1.25"/>
<line x1="465.87" y1="477.67" x2="465.87" y2="487.20" stroke="#0000ff" stroke-width="1.25"/>
<line x1="463.67" y1="477.67" x2="468.07" y2="477.67" stroke="#0000ff" stroke-width="1.25"/>
<line x1="463.67" y1="487.20" x2="468.07" y2="487.20" stroke="#0000ff" stroke-width="1.25"/>
<line x1="468.89" y1="481.29" x2="468.89" y2="490.38" stroke="#0000ff" stroke-width="1.25"/>
<line x1="466.69" y1="481.29" x2="471.09" y2="481.29" stroke="#0000ff" stroke-width="1.25"/>
<line x1="466.69" y1="490.38" x2="471.09" y2="490.38" stroke="#0000ff" stroke-width="1.25"/>
<line x1="471.92" y1="484.62" x2="471.92" y2="493.27" stroke="#0000ff" stroke-width="1.25"/>
<line x1="469.72" y1="484.62" x2="474.12" y2="484.62" stroke="#0000ff" stroke-width="1.25"/>
<line x1="469.72" y1="493.27" x2="474.12" y2="493.27" stroke="#0000ff" stroke-width="1.25"/>
<line x1="474.94" y1="488.46" x2="474.94" y2="502.72" stroke="#0000ff" stroke-width="1.25"/>
<line x1="472.74" y1="488.46" x2="477.14" y2="488.46" stroke="#0000ff" stroke-width="1.25"/>
<line x1="472.74" y1="502.72" x2="477.14" y2="502.72" stroke="#0000ff" stroke-width="1.25"/>
<line x1="477.97" y1="489.47" x2="477.97" y2="502.94" stroke="#0000ff" stroke-width="1.25"/>
<line x1="475.77" y1="489.47" x2="480.17" y2="489.47" stroke="#0000ff" stroke-width="1.25"/>
<line x1="475.77" y1="502.94" x2="480.17" y2="502.94" stroke="#0000ff" stroke-width="1.25"/>
<line x1="481.00" y1="486.67" x2="481.00" y2="499.35" stroke="#0000ff" stroke-width="1.25"/>
<line x1="478.80" y1="486.67" x2="483.20" y2="486.67" stroke="#0000ff" stroke-width="1.25"/>
<line x1="478.80" y1="499.35" x2="483.20" y2="499.35" stroke="#0000ff" stroke-width="1.25"/>
<line x1="484.02" y1="489.55" x2="484.02" y2="501.44" stroke="#0000ff" stroke-width="1.25"/>
<line x1="481.82" y1="489.55" x2="486.22" y2="489.55" stroke="#0000ff" stroke-width="1.25"/>
<line x1="481.82" y1="501.44" x2="486.22" y2="501.44" stroke="#0000ff" stroke-width="1.25"/>
<line x1="487.05" y1="493.57" x2="487.05" y2="510.59" stroke="#0000ff" stroke-width="1.25"/>
<line x1="484.85" y1="493.57" x2="489.25" y2="493.57" stroke="#0000ff" stroke-width="1.25"/>
<line x1="484.85" y1="510.59" x2="489.25" y2="510.59" stroke="#0000ff" stroke-width="1.25"/>
<line x1="490.07" y1="498.25" x2="490.07" y2="521.13" stroke="#0000ff" stroke-width="1.25"/>
<line x1="487.87" y1="498.25" x2="492.27" y2="498.25" stroke="#0000ff" stroke-width="1.25"/>
<line x1="487.87" y1="521.13" x2="492.27" y2="521.13" stroke="#0000ff" stroke-width="1.25"/>
<line x1="493.10" y1="503.12" x2="493.10" y2="526.00" stroke="#0000ff" stroke-width="1.25"/>
<line x1="490.90" y1="503.12" x2="495.30" y2="503.12" stroke="#0000ff" stroke-width="1.25"/>
<line x1="490.90" y1="526.00" x2="495.30" y2="526.00" stroke="#0000ff" stroke-width="1.25"/>
<line x1="496.12" y1="507.69" x2="496.12" y2="530.57" stroke="#0000ff" stroke-width="1.25"/>
<line x1="493.92" y1="507.69" x2="498.32" y2="507.69" stroke="#0000ff" stroke-width="1.25"/>
<line x1="493.92" y1="530.57" x2="498.32" y2="530.57" stroke="#0000ff" stroke-width="1.25"/>
<line x1="499.15" y1="509.92" x2="499.15" y2="532.80" stroke="#0000ff" stroke-width="1.25"/>
<line x1="496.95" y1="509.92" x2="501.35" y2="509.92" stroke="#0000ff" stroke-width="1.25"/>
<line x1="496.95" y1="532.80" x2="501.35" y2="532.80" stroke="#0000ff" stroke-width="1.25"/>
<line x1="502.18" y1="511.95" x2="502.18" y2="534.83" stroke="#0000ff" stroke-width="1.25"/>
<line x1="499.98" y1="511.95" x2="504.38" y2="511.95" stroke="#0000ff" stroke-width="1.25"/>
<line x1="499.98" y1="534.83" x2="504.38" y2="534.83" stroke="#0000ff" stroke-width="1.25"/>
<line x1="505.20" y1="515.49" x2="505.20" y2="538.37" stroke="#0000ff" stroke-width="1.25"/>
<line x1="503.00" y1="515.49" x2="507.40" y2="515.49" stroke="#0000ff" stroke-width="1.25"/>
<line x1="503.00" y1="538.37" x2="507.40" y2="538.37" stroke="#0000ff" stroke-width="1.25"/>
<line x1="508.23" y1="520.99" x2="508.23" y2="544.41" stroke="#0000ff" stroke-width="1.25"/>
<line x1="506.03" y1="520.99" x2="510.43" y2="520.99" stroke="#0000ff" stroke-width="1.25"/>
<line x1="506.03" y1="544.41" x2="510.43" y2="544.41" stroke="#0000ff" stroke-width="1.25"/>
<line x1="511.25" y1="525.74" x2="511.25" y2="549.82" stroke="#0000ff" stroke-width="1.25"/>
<line x1="509.05" y1="525.74" x2="513.45" y2="525.74" stroke="#0000ff" stroke-width="1.25"/>
<line x1="509.05" y1="549.82" x2="513.45" y2="549.82" stroke="#0000ff" stroke-width="1.25"/>
<line x1="514.28" y1="529.29" x2="514.28" y2="554.01" stroke="#0000ff" stroke-width="1.25"/>
<line x1="512.08" y1="529.29" x2="516.48" y2="529.29" stroke="#0000ff" stroke-width="1.25"/>
<line x1="512.08" y1="554.01" x2="516.48" y2="554.01" stroke="#0000ff" stroke-width="1.25"/>
<line x1="517.30" y1="533.12" x2="517.30" y2="558.49" stroke="#0000ff" stroke-width="1.25"/>
<line x1="515.10" y1="533.12" x2="519.50" y2="533.12" stroke="#0000ff" stroke-width="1.25"/>
<line x1="515.10" y1="558.49" x2="519.50" y2="558.49" stroke="#0000ff" stroke-width="1.25"/>
<circle cx="453.76" cy="479.36" r="2.2" fill="#0000ff"/>
<circle cx="456.79" cy="480.21" r="2.2" fill="#0000ff"/>
<circle cx="459.81" cy="481.37" r="2.2" fill="#0000ff"/>
<circle cx="462.84" cy="481.79" r="2.2" fill="#0000ff"/>
<circle cx="465.87" cy="482.43" r="2.2" fill="#0000ff"/>
<circle cx="468.89" cy="485.84" r="2.2" fill="#0000ff"/>
<circle cx="471.92" cy="488.95" r="2.2" fill="#0000ff"/>
<circle cx="474.94" cy="495.59" r="2.2" fill="#0000ff"/>
<circle cx="477.97" cy="496.20" r="2.2" fill="#0000ff"/>
<circle cx="481.00" cy="493.01" r="2.2" fill="#0000ff"/>
<circle cx="484.02" cy="495.50" r="2.2" fill="#0000ff"/>
<circle cx="487.05" cy="502.08" r="2.2" fill="#0000ff"/>
<circle cx="490.07" cy="509.69" r="2.2" fill="#0000ff"/>
<circle cx="493.10" cy="514.56" r="2.2" fill="#0000ff"/>
<circle cx="496.12" cy="519.13" r="2.2" fill="#0000ff"/>
<circle cx="499.15" cy="521.36" r="2.2" fill="#0000ff"/>
<circle cx="502.18" cy="523.39" r="2.2" fill="#0000ff"/>
<circle cx="505.20" cy="526.93" r="2.2" fill="#0000ff"/>
<circle cx="508.23" cy="532.70" r="2.2" fill="#0000ff"/>
<circle cx="511.25" cy="537.78" r="2.2" fill="#0000ff"/>
<circle cx="514.28" cy="541.65" r="2.2" fill="#0000ff"/>
<circle cx="517.30" cy="545.80" r="2.2" fill="#0000ff"/>
<line x1="453.76" y1="491.80" x2="453.76" y2="503.58" stroke="#000" stroke-width="1.25"/>
<line x1="451.56" y1="491.80" x2="455.96" y2="491.80" stroke="#000" stroke-width="1.25"/>
<line x1="451.56" y1="503.58" x2="455.96" y2="503.58" stroke="#000" stroke-width="1.25"/>
<line x1="456.79" y1="487.31" x2="456.79" y2="496.49" stroke="#000" stroke-width="1.25"/>
<line x1="454.59" y1="487.31" x2="458.99" y2="487.31" stroke="#000" stroke-width="1.25"/>
<line x1="454.59" y1="496.49" x2="458.99" y2="496.49" stroke="#000" stroke-width="1.25"/>
<line x1="459.81" y1="484.75" x2="459.81" y2="492.11" stroke="#000" stroke-width="1.25"/>
<line x1="457.62" y1="484.75" x2="462.01" y2="484.75" stroke="#000" stroke-width="1.25"/>
<line x1="457.62" y1="492.11" x2="462.01" y2="492.11" stroke="#000" stroke-width="1.25"/>
<line x1="462.84" y1="483.57" x2="462.84" y2="491.91" stroke="#000" stroke-width="1.25"/>
<line x1="460.64" y1="483.57" x2="465.04" y2="483.57" stroke="#000" stroke-width="1.25"/>
<line x1="460.64" y1="491.91" x2="465.04" y2="491.91" stroke="#000" stroke-width="1.25"/>
<line x1="465.87" y1="481.33" x2="465.87" y2="490.64" stroke="#000" stroke-width="1.25"/>
<line x1="463.67" y1="481.33" x2="468.07" y2="481.33" stroke="#000" stroke-width="1.25"/>
<line x1="463.67" y1="490.64" x2="468.07" y2="490.64" stroke="#000" stroke-width="1.25"/>
<line x1="468.89" y1="480.71" x2="468.89" y2="491.00" stroke="#000" stroke-width="1.25"/>
<line x1="466.69" y1="480.71" x2="471.09" y2="480.71" stroke="#000" stroke-width="1.25"/>
<line x1="466.69" y1="491.00" x2="471.09" y2="491.00" stroke="#000" stroke-width="1.25"/>
<line x1="471.92" y1="477.09" x2="471.92" y2="488.36" stroke="#000" stroke-width="1.25"/>
<line x1="469.72" y1="477.09" x2="474.12" y2="477.09" stroke="#000" stroke-width="1.25"/>
<line x1="469.72" y1="488.36" x2="474.12" y2="488.36" stroke="#000" stroke-width="1.25"/>
<line x1="474.94" y1="480.70" x2="474.94" y2="492.67" stroke="#000" stroke-width="1.25"/>
<line x1="472.74" y1="480.70" x2="477.14" y2="480.70" stroke="#000" stroke-width="1.25"/>
<line x1="472.74" y1="492.67" x2="477.14" y2="492.67" stroke="#000" stroke-width="1.25"/>
<line x1="477.97" y1="481.32" x2="477.97" y2="493.95" stroke="#000" stroke-width="1.25"/>
<line x1="475.77" y1="481.32" x2="480.17" y2="481.32" stroke="#000" stroke-width="1.25"/>
<line x1="475.77" y1="493.95" x2="480.17" y2="493.95" stroke="#000" stroke-width="1.25"/>
<line x1="481.00" y1="477.34" x2="481.00" y2="490.62" stroke="#000" stroke-width="1.25"/>
<line x1="478.80" y1="477.34" x2="483.20" y2="477.34" stroke="#000" stroke-width="1.25"/>
<line x1="478.80" y1="490.62" x2="483.20" y2="490.62" stroke="#000" stroke-width="1.25"/>
<line x1="484.02" y1="477.23" x2="484.02" y2="491.16" stroke="#000" stroke-width="1.25"/>
<line x1="481.82" y1="477.23" x2="486.22" y2="477.23" stroke="#000" stroke-width="1.25"/>
<line x1="481.82" y1="491.16" x2="486.22" y2="491.16" stroke="#000" stroke-width="1.25"/>
<line x1="487.05" y1="477.10" x2="487.05" y2="496.30" stroke="#000" stroke-width="1.25"/>
<line x1="484.85" y1="477.10" x2="489.25" y2="477.10" stroke="#000" stroke-width="1.25"/>
<line x1="484.85" y1="496.30" x2="489.25" y2="496.30" stroke="#000" stroke-width="1.25"/>
<line x1="490.07" y1="472.75" x2="490.07" y2="503.38" stroke="#000" stroke-width="1.25"/>
<line x1="487.87" y1="472.75" x2="492.27" y2="472.75" stroke="#000" stroke-width="1.25"/>
<line x1="487.87" y1="503.38" x2="492.27" y2="503.38" stroke="#000" stroke-width="1.25"/>
<line x1="493.10" y1="491.04" x2="493.10" y2="517.41" stroke="#000" stroke-width="1.25"/>
<line x1="490.90" y1="491.04" x2="495.30" y2="491.04" stroke="#000" stroke-width="1.25"/>
<line x1="490.90" y1="517.41" x2="495.30" y2="517.41" stroke="#000" stroke-width="1.25"/>
<line x1="496.12" y1="504.66" x2="496.12" y2="529.66" stroke="#000" stroke-width="1.25"/>
<line x1="493.92" y1="504.66" x2="498.32" y2="504.66" stroke="#000" stroke-width="1.25"/>
<line x1="493.92" y1="529.66" x2="498.32" y2="529.66" stroke="#000" stroke-width="1.25"/>
<line x1="499.15" y1="505.87" x2="499.15" y2="534.73" stroke="#000" stroke-width="1.25"/>
<line x1="496.95" y1="505.87" x2="501.35" y2="505.87" stroke="#000" stroke-width="1.25"/>
<line x1="496.95" y1="534.73" x2="501.35" y2="534.73" stroke="#000" stroke-width="1.25"/>
<line x1="502.18" y1="516.71" x2="502.18" y2="553.37" stroke="#000" stroke-width="1.25"/>
<line x1="499.98" y1="516.71" x2="504.38" y2="516.71" stroke="#000" stroke-width="1.25"/>
<line x1="499.98" y1="553.37" x2="504.38" y2="553.37" stroke="#000" stroke-width="1.25"/>
<line x1="505.20" y1="521.76" x2="505.20" y2="566.23" stroke="#000" stroke-width="1.25"/>
<line x1="503.00" y1="521.76" x2="507.40" y2="521.76" stroke="#000" stroke-width="1.25"/>
<line x1="503.00" y1="566.23" x2="507.40" y2="566.23" stroke="#000" stroke-width="1.25"/>
<line x1="508.23" y1="519.53" x2="508.23" y2="563.12" stroke="#000" stroke-width="1.25"/>
<line x1="506.03" y1="519.53" x2="510.43" y2="519.53" stroke="#000" stroke-width="1.25"/>
<line x1="506.03" y1="563.12" x2="510.43" y2="563.12" stroke="#000" stroke-width="1.25"/>
<line x1="511.25" y1="524.13" x2="511.25" y2="565.11" stroke="#000" stroke-width="1.25"/>
<line x1="509.05" y1="524.13" x2="513.45" y2="524.13" stroke="#000" stroke-width="1.25"/>
<line x1="509.05" y1="565.11" x2="513.45" y2="565.11" stroke="#000" stroke-width="1.25"/>
<line x1="514.28" y1="521.38" x2="514.28" y2="558.11" stroke="#000" stroke-width="1.25"/>
<line x1="512.08" y1="521.38" x2="516.48" y2="521.38" stroke="#000" stroke-width="1.25"/>
<line x1="512.08" y1="558.11" x2="516.48" y2="558.11" stroke="#000" stroke-width="1.25"/>
<line x1="517.30" y1="521.01" x2="517.30" y2="552.52" stroke="#000" stroke-width="1.25"/>
<line x1="515.10" y1="521.01" x2="519.50" y2="521.01" stroke="#000" stroke-width="1.25"/>
<line x1="515.10" y1="552.52" x2="519.50" y2="552.52" stroke="#000" stroke-width="1.25"/>
<circle cx="453.76" cy="497.69" r="2.2" fill="#000"/>
<circle cx="456.79" cy="491.90" r="2.2" fill="#000"/>
<circle cx="459.81" cy="488.43" r="2.2" fill="#000"/>
<circle cx="462.84" cy="487.74" r="2.2" fill="#000"/>
<circle cx="465.87" cy="485.99" r="2.2" fill="#000"/>
<circle cx="468.89" cy="485.85" r="2.2" fill="#000"/>
<circle cx="471.92" cy="482.72" r="2.2" fill="#000"/>
<circle cx="474.94" cy="486.69" r="2.2" fill="#000"/>
<circle cx="477.97" cy="487.63" r="2.2" fill="#000"/>
<circle cx="481.00" cy="483.98" r="2.2" fill="#000"/>
<circle cx="484.02" cy="484.20" r="2.2" fill="#000"/>
<circle cx="487.05" cy="486.70" r="2.2" fill="#000"/>
<circle cx="490.07" cy="488.07" r="2.2" fill="#000"/>
<circle cx="493.10" cy="504.22" r="2.2" fill="#000"/>
<circle cx="496.12" cy="517.16" r="2.2" fill="#000"/>
<circle cx="499.15" cy="520.30" r="2.2" fill="#000"/>
<circle cx="502.18" cy="535.04" r="2.2" fill="#000"/>
<circle cx="505.20" cy="543.99" r="2.2" fill="#000"/>
<circle cx="508.23" cy="541.33" r="2.2" fill="#000"/>
<circle cx="511.25" cy="544.62" r="2.2" fill="#000"/>
<circle cx="514.28" cy="539.75" r="2.2" fill="#000"/>
<circle cx="517.30" cy="536.76" r="2.2" fill="#000"/>
<text x="523.30" y="424.50" font-size="16.6" text-anchor="start" fill="#222" stroke="#222">G</text>
<text x="612.00" y="426.20" font-size="10.6" text-anchor="middle" fill="#222" stroke="#222">Rat</text>
<text x="567.80" y="438.00" font-size="9.5" text-anchor="start" fill="#222" stroke="#222">F= 5.6, <tspan font-style="italic">p</tspan>= 0.047 [age]</text>
<text x="567.80" y="450.20" font-size="9.5" text-anchor="start" fill="#222" stroke="#222">F= 6.16, <tspan font-style="italic">p</tspan>=0.022[layer]</text>
<line x1="567.50" y1="457.65" x2="567.50" y2="572.05" stroke="#222" stroke-width="1.2"/>
<line x1="563.00" y1="457.65" x2="567.50" y2="457.65" stroke="#222" stroke-width="1.2"/>
<text x="561.00" y="460.95" font-size="9.2" text-anchor="end" fill="#222" stroke="#222">50</text>
<line x1="563.00" y1="486.25" x2="567.50" y2="486.25" stroke="#222" stroke-width="1.2"/>
<text x="561.00" y="489.55" font-size="9.2" text-anchor="end" fill="#222" stroke="#222">0</text>
<line x1="563.00" y1="514.85" x2="567.50" y2="514.85" stroke="#222" stroke-width="1.2"/>
<text x="561.00" y="518.15" font-size="9.2" text-anchor="end" fill="#222" stroke="#222">-50</text>
<line x1="563.00" y1="543.45" x2="567.50" y2="543.45" stroke="#222" stroke-width="1.2"/>
<text x="561.00" y="546.75" font-size="9.2" text-anchor="end" fill="#222" stroke="#222">-100</text>
<line x1="563.00" y1="572.05" x2="567.50" y2="572.05" stroke="#222" stroke-width="1.2"/>
<text x="561.00" y="575.35" font-size="9.2" text-anchor="end" fill="#222" stroke="#222">-150</text>
<line x1="566.90" y1="572.05" x2="659.50" y2="572.05" stroke="#222" stroke-width="1.2"/>
<line x1="567.50" y1="486.25" x2="659.50" y2="486.25" stroke="#808080" stroke-width="1.0" stroke-dasharray="3,2.6"/>
<line x1="589.25" y1="572.05" x2="589.25" y2="576.55" stroke="#222" stroke-width="1.2"/>
<text x="589.25" y="587.00" font-size="9.3" text-anchor="middle" fill="#222" stroke="#222">1M</text>
<text x="589.25" y="596.60" font-size="9.3" text-anchor="middle" fill="#222" stroke="#222">(12,6)</text>
<line x1="637.50" y1="572.05" x2="637.50" y2="576.55" stroke="#222" stroke-width="1.2"/>
<text x="637.50" y="587.00" font-size="9.3" text-anchor="middle" fill="#222" stroke="#222">6M</text>
<text x="637.50" y="596.60" font-size="9.3" text-anchor="middle" fill="#222" stroke="#222">(6,5)</text>
<text x="537.00" y="514.40" font-size="9.6" text-anchor="middle" fill="#222" stroke="#222" transform="rotate(-90 537.00 514.40)">Tonic GABA<tspan font-size="6.8" dy="2.5">B</tspan><tspan dy="-2.5"> current (pA)</tspan></text>
<line x1="580.60" y1="491.23" x2="580.60" y2="498.26" stroke="#000" stroke-width="1.4"/>
<line x1="580.60" y1="509.99" x2="580.60" y2="532.01" stroke="#000" stroke-width="1.4"/>
<rect x="575.00" y="498.26" width="11.20" height="11.73" fill="none" stroke="#000" stroke-width="1.4"/>
<line x1="575.00" y1="503.24" x2="586.20" y2="503.24" stroke="#000" stroke-width="1.4"/>
<circle cx="580.60" cy="491.23" r="1.9" fill="#fff" stroke="#333" stroke-width="0.9"/>
<circle cx="580.60" cy="494.26" r="1.9" fill="#fff" stroke="#333" stroke-width="0.9"/>
<circle cx="580.60" cy="496.55" r="1.9" fill="#fff" stroke="#333" stroke-width="0.9"/>
<circle cx="578.96" cy="498.26" r="1.9" fill="#fff" stroke="#333" stroke-width="0.9"/>
<circle cx="580.61" cy="500.55" r="1.9" fill="#fff" stroke="#333" stroke-width="0.9"/>
<circle cx="578.44" cy="502.27" r="1.9" fill="#fff" stroke="#333" stroke-width="0.9"/>
<circle cx="582.66" cy="503.41" r="1.9" fill="#fff" stroke="#333" stroke-width="0.9"/>
<circle cx="578.88" cy="506.27" r="1.9" fill="#fff" stroke="#333" stroke-width="0.9"/>
<circle cx="580.93" cy="507.41" r="1.9" fill="#fff" stroke="#333" stroke-width="0.9"/>
<circle cx="583.33" cy="509.70" r="1.9" fill="#fff" stroke="#333" stroke-width="0.9"/>
<circle cx="580.60" cy="511.99" r="1.9" fill="#fff" stroke="#333" stroke-width="0.9"/>
<circle cx="580.60" cy="532.01" r="1.9" fill="#fff" stroke="#333" stroke-width="0.9"/>
<line x1="598.40" y1="475.73" x2="598.40" y2="476.98" stroke="#0000ff" stroke-width="1.4"/>
<line x1="598.40" y1="492.48" x2="598.40" y2="498.78" stroke="#0000ff" stroke-width="1.4"/>
<rect x="592.55" y="476.98" width="11.70" height="15.50" fill="none" stroke="#0000ff" stroke-width="1.4"/>
<line x1="592.55" y1="488.77" x2="604.25" y2="488.77" stroke="#0000ff" stroke-width="1.4"/>
<circle cx="598.40" cy="475.73" r="1.9" fill="#fff" stroke="#0000ff" stroke-width="0.9"/>
<circle cx="601.46" cy="478.24" r="1.9" fill="#fff" stroke="#0000ff" stroke-width="0.9"/>
<circle cx="595.55" cy="488.54" r="1.9" fill="#fff" stroke="#0000ff" stroke-width="0.9"/>
<circle cx="599.84" cy="489.11" r="1.9" fill="#fff" stroke="#0000ff" stroke-width="0.9"/>
<circle cx="598.30" cy="490.25" r="1.9" fill="#fff" stroke="#0000ff" stroke-width="0.9"/>
<circle cx="598.40" cy="498.78" r="1.9" fill="#fff" stroke="#0000ff" stroke-width="0.9"/>
<line x1="628.75" y1="493.69" x2="628.75" y2="497.52" stroke="#000" stroke-width="1.4"/>
<line x1="628.75" y1="517.48" x2="628.75" y2="524.23" stroke="#000" stroke-width="1.4"/>
<rect x="623.00" y="497.52" width="11.50" height="19.96" fill="none" stroke="#000" stroke-width="1.4"/>
<line x1="623.00" y1="507.53" x2="634.50" y2="507.53" stroke="#000" stroke-width="1.4"/>
<circle cx="628.75" cy="493.69" r="1.9" fill="#fff" stroke="#333" stroke-width="0.9"/>
<circle cx="629.50" cy="497.69" r="1.9" fill="#fff" stroke="#333" stroke-width="0.9"/>
<circle cx="631.25" cy="504.55" r="1.9" fill="#fff" stroke="#333" stroke-width="0.9"/>
<circle cx="628.47" cy="509.13" r="1.9" fill="#fff" stroke="#333" stroke-width="0.9"/>
<circle cx="630.10" cy="517.71" r="1.9" fill="#fff" stroke="#333" stroke-width="0.9"/>
<circle cx="628.75" cy="524.23" r="1.9" fill="#fff" stroke="#333" stroke-width="0.9"/>
<line x1="646.90" y1="490.77" x2="646.90" y2="493.69" stroke="#0000ff" stroke-width="1.4"/>
<line x1="646.90" y1="532.01" x2="646.90" y2="549.51" stroke="#0000ff" stroke-width="1.4"/>
<rect x="641.30" y="493.69" width="11.20" height="38.32" fill="none" stroke="#0000ff" stroke-width="1.4"/>
<line x1="641.30" y1="501.98" x2="652.50" y2="501.98" stroke="#0000ff" stroke-width="1.4"/>
<circle cx="646.90" cy="490.77" r="1.9" fill="#fff" stroke="#0000ff" stroke-width="0.9"/>
<circle cx="649.55" cy="494.83" r="1.9" fill="#fff" stroke="#0000ff" stroke-width="0.9"/>
<circle cx="644.58" cy="502.27" r="1.9" fill="#fff" stroke="#0000ff" stroke-width="0.9"/>
<circle cx="647.26" cy="515.99" r="1.9" fill="#fff" stroke="#0000ff" stroke-width="0.9"/>
<circle cx="646.90" cy="549.51" r="1.9" fill="#fff" stroke="#0000ff" stroke-width="0.9"/>
</svg></body></html>
